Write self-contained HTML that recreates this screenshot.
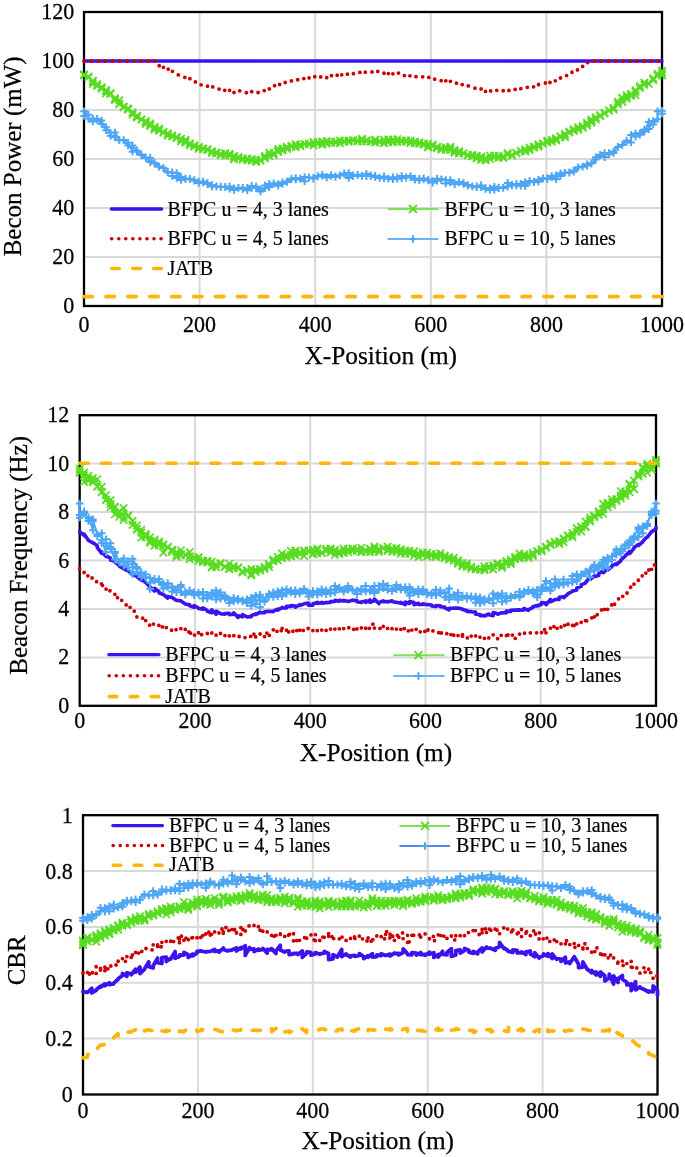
<!DOCTYPE html>
<html><head><meta charset="utf-8"><title>Chart</title>
<style>
html,body{margin:0;padding:0;background:#fff;}
body{width:685px;height:1157px;overflow:hidden;}
svg{display:block;will-change:transform;}
.t{font-family:'Liberation Serif',serif;font-size:22px;fill:#000;stroke:#000;stroke-width:0.25px;}
.ti{font-family:'Liberation Serif',serif;font-size:25.3px;fill:#000;stroke:#000;stroke-width:0.25px;}
.ty{font-family:'Liberation Serif',serif;font-size:25px;fill:#000;stroke:#000;stroke-width:0.25px;}
.lg{font-family:'Liberation Serif',serif;font-size:20px;fill:#000;stroke:#000;stroke-width:0.2px;}
</style></head><body>
<svg width="685" height="1157" viewBox="0 0 685 1157">
<rect width="685" height="1157" fill="#fff"/>
<path d="M84 257H662M84 208H662M84 159H662M84 110H662M84 61H662M199.6 12V306M315.2 12V306M430.8 12V306M546.4 12V306" stroke="#d9d9d9" stroke-width="2" fill="none"/>
<rect x="84" y="12" width="578" height="294" fill="none" stroke="#000" stroke-width="2.3"/>
<text transform="translate(74.2 313.4) scale(1 1.08)" text-anchor="end" class="t">0</text>
<text transform="translate(74.2 264.4) scale(1 1.08)" text-anchor="end" class="t">20</text>
<text transform="translate(74.2 215.3) scale(1 1.08)" text-anchor="end" class="t">40</text>
<text transform="translate(74.2 166.3) scale(1 1.08)" text-anchor="end" class="t">60</text>
<text transform="translate(74.2 117.3) scale(1 1.08)" text-anchor="end" class="t">80</text>
<text transform="translate(74.2 68.3) scale(1 1.08)" text-anchor="end" class="t">100</text>
<text transform="translate(74.2 19.4) scale(1 1.08)" text-anchor="end" class="t">120</text>
<text transform="translate(84 331.8) scale(1 1.08)" text-anchor="middle" class="t">0</text>
<text transform="translate(199.6 331.8) scale(1 1.08)" text-anchor="middle" class="t">200</text>
<text transform="translate(315.2 331.8) scale(1 1.08)" text-anchor="middle" class="t">400</text>
<text transform="translate(430.8 331.8) scale(1 1.08)" text-anchor="middle" class="t">600</text>
<text transform="translate(546.4 331.8) scale(1 1.08)" text-anchor="middle" class="t">800</text>
<text transform="translate(662 331.8) scale(1 1.08)" text-anchor="middle" class="t">1000</text>
<text transform="translate(21 156.4) rotate(-90)" text-anchor="middle" class="ty">Becon Power (mW)</text>
<text x="304.5" y="364" class="ti">X-Position (m)</text>
<polyline points="84,61 88.4,61 92.8,61 97.2,61 101.6,61 106.1,61 110.5,61 114.9,61 119.3,61 123.7,61 128.1,61 132.5,61 136.9,61 141.4,61 145.8,61 150.2,61 154.6,61 159,61 163.4,61 167.8,61 172.2,61 176.7,61 181.1,61 185.5,61 189.9,61 194.3,61 198.7,61 203.1,61 207.5,61 212,61 216.4,61 220.8,61 225.2,61 229.6,61 234,61 238.4,61 242.8,61 247.3,61 251.7,61 256.1,61 260.5,61 264.9,61 269.3,61 273.7,61 278.1,61 282.5,61 287,61 291.4,61 295.8,61 300.2,61 304.6,61 309,61 313.4,61 317.8,61 322.3,61 326.7,61 331.1,61 335.5,61 339.9,61 344.3,61 348.7,61 353.1,61 357.6,61 362,61 366.4,61 370.8,61 375.2,61 379.6,61 384,61 388.4,61 392.9,61 397.3,61 401.7,61 406.1,61 410.5,61 414.9,61 419.3,61 423.7,61 428.2,61 432.6,61 437,61 441.4,61 445.8,61 450.2,61 454.6,61 459,61 463.5,61 467.9,61 472.3,61 476.7,61 481.1,61 485.5,61 489.9,61 494.3,61 498.7,61 503.2,61 507.6,61 512,61 516.4,61 520.8,61 525.2,61 529.6,61 534,61 538.5,61 542.9,61 547.3,61 551.7,61 556.1,61 560.5,61 564.9,61 569.3,61 573.8,61 578.2,61 582.6,61 587,61 591.4,61 595.8,61 600.2,61 604.6,61 609.1,61 613.5,61 617.9,61 622.3,61 626.7,61 631.1,61 635.5,61 639.9,61 644.4,61 648.8,61 653.2,61 657.6,61 662,61" fill="none" stroke="#3c12ee" stroke-width="3.4" stroke-linejoin="round" stroke-linecap="round" />
<polyline points="84,74.9 84,75.4 84,74.4 88.4,76.7 88.4,77.5 88.4,76.5 92.8,81.8 92.8,84 92.8,80.8 97.2,84.1 97.2,85.9 97.2,85.7 101.6,88.8 101.6,87.1 101.6,88.6 106.1,93.3 106.1,90.1 106.1,91.5 110.5,93.1 110.5,94 110.5,93.1 114.9,99.6 114.9,98.1 114.9,100.3 119.3,104.1 119.3,103.6 119.3,100.3 123.7,106.5 123.7,107.1 123.7,107.4 128.1,108.3 128.1,109.7 128.1,109 132.5,112.4 132.5,114.8 132.5,112.4 136.9,116.4 136.9,117.6 136.9,115.7 141.4,119.4 141.4,119.7 141.4,119.6 145.8,121 145.8,122.5 145.8,124 150.2,123.3 150.2,126 150.2,125.2 154.6,126.9 154.6,129.8 154.6,128.5 159,128.6 159,130 159,130.6 163.4,131.8 163.4,132.8 163.4,132 167.8,134.8 167.8,135.7 167.8,133.4 172.2,136.4 172.2,135.6 172.2,136.3 176.7,136.9 176.7,137.5 176.7,137.9 181.1,141.2 181.1,141.4 181.1,138.7 185.5,141.2 185.5,142.7 185.5,139.8 189.9,143.3 189.9,143.7 189.9,145.2 194.3,146.4 194.3,145.2 194.3,145.2 198.7,147 198.7,148.9 198.7,146.8 203.1,148.4 203.1,149.1 203.1,148.6 207.5,150 207.5,149 207.5,150.2 212,151.2 212,152.9 212,152.4 216.4,152.8 216.4,153.5 216.4,152.4 220.8,155.1 220.8,153.9 220.8,154.6 225.2,153.7 225.2,155.5 225.2,153.2 229.6,153.8 229.6,155.7 229.6,155 234,157.1 234,159.4 234,156 238.4,157.1 238.4,158 238.4,158.3 242.8,158.5 242.8,158.5 242.8,159.5 247.3,160.2 247.3,158.5 247.3,159.6 251.7,160.3 251.7,159.1 251.7,160.6 256.1,160 256.1,162 256.1,161.1 260.5,160.6 260.5,159.8 260.5,160.3 264.9,155.9 264.9,156.8 264.9,158.5 269.3,152.8 269.3,156.1 269.3,153.2 273.7,154.8 273.7,153.1 273.7,154.9 278.1,150.7 278.1,148.9 278.1,151.9 282.5,150.4 282.5,148.7 282.5,148.5 287,147.6 287,146.7 287,148.9 291.4,146.1 291.4,146.7 291.4,145.8 295.8,145.1 295.8,144.4 295.8,147.2 300.2,144.8 300.2,146.1 300.2,145 304.6,143.8 304.6,144.2 304.6,143.9 309,144.1 309,143.7 309,143.8 313.4,142.1 313.4,142.7 313.4,145.5 317.8,142.6 317.8,142.2 317.8,143.7 322.3,144.7 322.3,141.5 322.3,142.9 326.7,142.2 326.7,141 326.7,143.7 331.1,142.6 331.1,142.7 331.1,141.8 335.5,142.7 335.5,141.6 335.5,142.1 339.9,140.6 339.9,140.5 339.9,143.3 344.3,140.9 344.3,141.8 344.3,141.4 348.7,140.5 348.7,140.5 348.7,141.7 353.1,140.2 353.1,140.4 353.1,140.6 357.6,141.4 357.6,140.9 357.6,140.5 362,139.7 362,138.8 362,141.3 366.4,141.5 366.4,140.3 366.4,141.1 370.8,141.5 370.8,141.6 370.8,141.7 375.2,140.3 375.2,142.5 375.2,139.5 379.6,142 379.6,141.5 379.6,142 384,143.3 384,142.8 384,139.9 388.4,139.5 388.4,142.2 388.4,140.2 392.9,141.4 392.9,142.3 392.9,139.6 397.3,139.2 397.3,141.8 397.3,141.6 401.7,141.4 401.7,141.7 401.7,140.7 406.1,140.3 406.1,141.8 406.1,140.9 410.5,140.5 410.5,142.9 410.5,142.3 414.9,143.2 414.9,141.6 414.9,142 419.3,142.4 419.3,142.5 419.3,143.7 423.7,143.5 423.7,144.7 423.7,144.7 428.2,147.4 428.2,143.7 428.2,146.2 432.6,146.1 432.6,146.2 432.6,144.6 437,146.9 437,148.2 437,147.3 441.4,148.6 441.4,148.2 441.4,149.8 445.8,149.6 445.8,147.2 445.8,148.9 450.2,148.3 450.2,146.9 450.2,149.9 454.6,152.8 454.6,151.3 454.6,150 459,151.1 459,153.4 459,152.3 463.5,153.4 463.5,153.3 463.5,153.4 467.9,155.5 467.9,155.2 467.9,154.9 472.3,154.8 472.3,156.5 472.3,155.2 476.7,158.5 476.7,155.9 476.7,157.1 481.1,158 481.1,156.6 481.1,159.9 485.5,160.3 485.5,158.2 485.5,159.5 489.9,158.9 489.9,155.6 489.9,158.7 494.3,156.8 494.3,157 494.3,155.7 498.7,156.1 498.7,156.2 498.7,157.7 503.2,156.6 503.2,156.2 503.2,157.9 507.6,154.5 507.6,154.7 507.6,153.1 512,155.6 512,154.9 512,154.9 516.4,153.3 516.4,152.7 516.4,152.8 520.8,150.9 520.8,150.9 520.8,151.2 525.2,151.4 525.2,150.3 525.2,149.6 529.6,147.7 529.6,147.6 529.6,150.1 534,147.6 534,147.1 534,146.6 538.5,144.4 538.5,145.6 538.5,146.6 542.9,143.6 542.9,143.8 542.9,143.8 547.3,142.4 547.3,140.6 547.3,142.1 551.7,139.7 551.7,141.6 551.7,139.7 556.1,139.4 556.1,140.5 556.1,138.4 560.5,136.3 560.5,137.2 560.5,137 564.9,133.8 564.9,135.4 564.9,137.2 569.3,132.4 569.3,132.5 569.3,131.6 573.8,130.9 573.8,129.2 573.8,129.3 578.2,129.6 578.2,127.2 578.2,129.4 582.6,127.6 582.6,126.2 582.6,126.5 587,125.6 587,123.3 587,122.8 591.4,119.5 591.4,121 591.4,122.6 595.8,119.5 595.8,117.4 595.8,117.5 600.2,115.3 600.2,116.1 600.2,115.6 604.6,113.4 604.6,113.5 604.6,112.8 609.1,110.3 609.1,110.6 609.1,110.3 613.5,107.7 613.5,109.5 613.5,107.9 617.9,103.9 617.9,101.5 617.9,104.3 622.3,97.9 622.3,98.7 622.3,101.9 626.7,98.8 626.7,97.5 626.7,95.2 631.1,94.3 631.1,93.8 631.1,95.8 635.5,95.2 635.5,91.9 635.5,90.3 639.9,86.1 639.9,88 639.9,87.8 644.4,82.6 644.4,84.8 644.4,82.6 648.8,83.9 648.8,83.8 648.8,83.8 653.2,78.2 653.2,80.1 653.2,78.9 657.6,75.7 657.6,75.8 657.6,73.9 662,70.9 662,75.4 662,73.4" fill="none" stroke="#58dc22" stroke-width="2" stroke-linejoin="round" stroke-linecap="round" />
<path d="M80.3 71.2l7.4 7.4M80.3 78.6l7.4 -7.4M80.3 71.7l7.4 7.4M80.3 79.1l7.4 -7.4M80.3 70.7l7.4 7.4M80.3 78.1l7.4 -7.4M84.7 73l7.4 7.4M84.7 80.4l7.4 -7.4M84.7 73.8l7.4 7.4M84.7 81.2l7.4 -7.4M84.7 72.8l7.4 7.4M84.7 80.2l7.4 -7.4M89.1 78.1l7.4 7.4M89.1 85.5l7.4 -7.4M89.1 80.3l7.4 7.4M89.1 87.7l7.4 -7.4M89.1 77.1l7.4 7.4M89.1 84.5l7.4 -7.4M93.5 80.4l7.4 7.4M93.5 87.8l7.4 -7.4M93.5 82.2l7.4 7.4M93.5 89.6l7.4 -7.4M93.5 82l7.4 7.4M93.5 89.4l7.4 -7.4M97.9 85.1l7.4 7.4M97.9 92.5l7.4 -7.4M97.9 83.4l7.4 7.4M97.9 90.8l7.4 -7.4M97.9 84.9l7.4 7.4M97.9 92.3l7.4 -7.4M102.4 89.6l7.4 7.4M102.4 97l7.4 -7.4M102.4 86.4l7.4 7.4M102.4 93.8l7.4 -7.4M102.4 87.8l7.4 7.4M102.4 95.2l7.4 -7.4M106.8 89.4l7.4 7.4M106.8 96.8l7.4 -7.4M106.8 90.3l7.4 7.4M106.8 97.7l7.4 -7.4M106.8 89.4l7.4 7.4M106.8 96.8l7.4 -7.4M111.2 95.9l7.4 7.4M111.2 103.3l7.4 -7.4M111.2 94.4l7.4 7.4M111.2 101.8l7.4 -7.4M111.2 96.6l7.4 7.4M111.2 104l7.4 -7.4M115.6 100.4l7.4 7.4M115.6 107.8l7.4 -7.4M115.6 99.9l7.4 7.4M115.6 107.3l7.4 -7.4M115.6 96.6l7.4 7.4M115.6 104l7.4 -7.4M120 102.8l7.4 7.4M120 110.2l7.4 -7.4M120 103.4l7.4 7.4M120 110.8l7.4 -7.4M120 103.7l7.4 7.4M120 111.1l7.4 -7.4M124.4 104.6l7.4 7.4M124.4 112l7.4 -7.4M124.4 106l7.4 7.4M124.4 113.4l7.4 -7.4M124.4 105.3l7.4 7.4M124.4 112.7l7.4 -7.4M128.8 108.7l7.4 7.4M128.8 116.1l7.4 -7.4M128.8 111.1l7.4 7.4M128.8 118.5l7.4 -7.4M128.8 108.7l7.4 7.4M128.8 116.1l7.4 -7.4M133.2 112.7l7.4 7.4M133.2 120.1l7.4 -7.4M133.2 113.9l7.4 7.4M133.2 121.3l7.4 -7.4M133.2 112l7.4 7.4M133.2 119.4l7.4 -7.4M137.7 115.7l7.4 7.4M137.7 123.1l7.4 -7.4M137.7 116l7.4 7.4M137.7 123.4l7.4 -7.4M137.7 115.9l7.4 7.4M137.7 123.3l7.4 -7.4M142.1 117.3l7.4 7.4M142.1 124.7l7.4 -7.4M142.1 118.8l7.4 7.4M142.1 126.2l7.4 -7.4M142.1 120.3l7.4 7.4M142.1 127.7l7.4 -7.4M146.5 119.6l7.4 7.4M146.5 127l7.4 -7.4M146.5 122.3l7.4 7.4M146.5 129.7l7.4 -7.4M146.5 121.5l7.4 7.4M146.5 128.9l7.4 -7.4M150.9 123.2l7.4 7.4M150.9 130.6l7.4 -7.4M150.9 126.1l7.4 7.4M150.9 133.5l7.4 -7.4M150.9 124.8l7.4 7.4M150.9 132.2l7.4 -7.4M155.3 124.9l7.4 7.4M155.3 132.3l7.4 -7.4M155.3 126.3l7.4 7.4M155.3 133.7l7.4 -7.4M155.3 126.9l7.4 7.4M155.3 134.3l7.4 -7.4M159.7 128.1l7.4 7.4M159.7 135.5l7.4 -7.4M159.7 129.1l7.4 7.4M159.7 136.5l7.4 -7.4M159.7 128.3l7.4 7.4M159.7 135.7l7.4 -7.4M164.1 131.1l7.4 7.4M164.1 138.5l7.4 -7.4M164.1 132l7.4 7.4M164.1 139.4l7.4 -7.4M164.1 129.7l7.4 7.4M164.1 137.1l7.4 -7.4M168.5 132.7l7.4 7.4M168.5 140.1l7.4 -7.4M168.5 131.9l7.4 7.4M168.5 139.3l7.4 -7.4M168.5 132.6l7.4 7.4M168.5 140l7.4 -7.4M173 133.2l7.4 7.4M173 140.6l7.4 -7.4M173 133.8l7.4 7.4M173 141.2l7.4 -7.4M173 134.2l7.4 7.4M173 141.6l7.4 -7.4M177.4 137.5l7.4 7.4M177.4 144.9l7.4 -7.4M177.4 137.7l7.4 7.4M177.4 145.1l7.4 -7.4M177.4 135l7.4 7.4M177.4 142.4l7.4 -7.4M181.8 137.5l7.4 7.4M181.8 144.9l7.4 -7.4M181.8 139l7.4 7.4M181.8 146.4l7.4 -7.4M181.8 136.1l7.4 7.4M181.8 143.5l7.4 -7.4M186.2 139.6l7.4 7.4M186.2 147l7.4 -7.4M186.2 140l7.4 7.4M186.2 147.4l7.4 -7.4M186.2 141.5l7.4 7.4M186.2 148.9l7.4 -7.4M190.6 142.7l7.4 7.4M190.6 150.1l7.4 -7.4M190.6 141.5l7.4 7.4M190.6 148.9l7.4 -7.4M190.6 141.5l7.4 7.4M190.6 148.9l7.4 -7.4M195 143.3l7.4 7.4M195 150.7l7.4 -7.4M195 145.2l7.4 7.4M195 152.6l7.4 -7.4M195 143.1l7.4 7.4M195 150.5l7.4 -7.4M199.4 144.7l7.4 7.4M199.4 152.1l7.4 -7.4M199.4 145.4l7.4 7.4M199.4 152.8l7.4 -7.4M199.4 144.9l7.4 7.4M199.4 152.3l7.4 -7.4M203.8 146.3l7.4 7.4M203.8 153.7l7.4 -7.4M203.8 145.3l7.4 7.4M203.8 152.7l7.4 -7.4M203.8 146.5l7.4 7.4M203.8 153.9l7.4 -7.4M208.3 147.5l7.4 7.4M208.3 154.9l7.4 -7.4M208.3 149.2l7.4 7.4M208.3 156.6l7.4 -7.4M208.3 148.7l7.4 7.4M208.3 156.1l7.4 -7.4M212.7 149.1l7.4 7.4M212.7 156.5l7.4 -7.4M212.7 149.8l7.4 7.4M212.7 157.2l7.4 -7.4M212.7 148.7l7.4 7.4M212.7 156.1l7.4 -7.4M217.1 151.4l7.4 7.4M217.1 158.8l7.4 -7.4M217.1 150.2l7.4 7.4M217.1 157.6l7.4 -7.4M217.1 150.9l7.4 7.4M217.1 158.3l7.4 -7.4M221.5 150l7.4 7.4M221.5 157.4l7.4 -7.4M221.5 151.8l7.4 7.4M221.5 159.2l7.4 -7.4M221.5 149.5l7.4 7.4M221.5 156.9l7.4 -7.4M225.9 150.1l7.4 7.4M225.9 157.5l7.4 -7.4M225.9 152l7.4 7.4M225.9 159.4l7.4 -7.4M225.9 151.3l7.4 7.4M225.9 158.7l7.4 -7.4M230.3 153.4l7.4 7.4M230.3 160.8l7.4 -7.4M230.3 155.7l7.4 7.4M230.3 163.1l7.4 -7.4M230.3 152.3l7.4 7.4M230.3 159.7l7.4 -7.4M234.7 153.4l7.4 7.4M234.7 160.8l7.4 -7.4M234.7 154.3l7.4 7.4M234.7 161.7l7.4 -7.4M234.7 154.6l7.4 7.4M234.7 162l7.4 -7.4M239.1 154.8l7.4 7.4M239.1 162.2l7.4 -7.4M239.1 154.8l7.4 7.4M239.1 162.2l7.4 -7.4M239.1 155.8l7.4 7.4M239.1 163.2l7.4 -7.4M243.6 156.5l7.4 7.4M243.6 163.9l7.4 -7.4M243.6 154.8l7.4 7.4M243.6 162.2l7.4 -7.4M243.6 155.9l7.4 7.4M243.6 163.3l7.4 -7.4M248 156.6l7.4 7.4M248 164l7.4 -7.4M248 155.4l7.4 7.4M248 162.8l7.4 -7.4M248 156.9l7.4 7.4M248 164.3l7.4 -7.4M252.4 156.3l7.4 7.4M252.4 163.7l7.4 -7.4M252.4 158.3l7.4 7.4M252.4 165.7l7.4 -7.4M252.4 157.4l7.4 7.4M252.4 164.8l7.4 -7.4M256.8 156.9l7.4 7.4M256.8 164.3l7.4 -7.4M256.8 156.1l7.4 7.4M256.8 163.5l7.4 -7.4M256.8 156.6l7.4 7.4M256.8 164l7.4 -7.4M261.2 152.2l7.4 7.4M261.2 159.6l7.4 -7.4M261.2 153.1l7.4 7.4M261.2 160.5l7.4 -7.4M261.2 154.8l7.4 7.4M261.2 162.2l7.4 -7.4M265.6 149.1l7.4 7.4M265.6 156.5l7.4 -7.4M265.6 152.4l7.4 7.4M265.6 159.8l7.4 -7.4M265.6 149.5l7.4 7.4M265.6 156.9l7.4 -7.4M270 151.1l7.4 7.4M270 158.5l7.4 -7.4M270 149.4l7.4 7.4M270 156.8l7.4 -7.4M270 151.2l7.4 7.4M270 158.6l7.4 -7.4M274.4 147l7.4 7.4M274.4 154.4l7.4 -7.4M274.4 145.2l7.4 7.4M274.4 152.6l7.4 -7.4M274.4 148.2l7.4 7.4M274.4 155.6l7.4 -7.4M278.8 146.7l7.4 7.4M278.8 154.1l7.4 -7.4M278.8 145l7.4 7.4M278.8 152.4l7.4 -7.4M278.8 144.8l7.4 7.4M278.8 152.2l7.4 -7.4M283.3 143.9l7.4 7.4M283.3 151.3l7.4 -7.4M283.3 143l7.4 7.4M283.3 150.4l7.4 -7.4M283.3 145.2l7.4 7.4M283.3 152.6l7.4 -7.4M287.7 142.4l7.4 7.4M287.7 149.8l7.4 -7.4M287.7 143l7.4 7.4M287.7 150.4l7.4 -7.4M287.7 142.1l7.4 7.4M287.7 149.5l7.4 -7.4M292.1 141.4l7.4 7.4M292.1 148.8l7.4 -7.4M292.1 140.7l7.4 7.4M292.1 148.1l7.4 -7.4M292.1 143.5l7.4 7.4M292.1 150.9l7.4 -7.4M296.5 141.1l7.4 7.4M296.5 148.5l7.4 -7.4M296.5 142.4l7.4 7.4M296.5 149.8l7.4 -7.4M296.5 141.3l7.4 7.4M296.5 148.7l7.4 -7.4M300.9 140.1l7.4 7.4M300.9 147.5l7.4 -7.4M300.9 140.5l7.4 7.4M300.9 147.9l7.4 -7.4M300.9 140.2l7.4 7.4M300.9 147.6l7.4 -7.4M305.3 140.4l7.4 7.4M305.3 147.8l7.4 -7.4M305.3 140l7.4 7.4M305.3 147.4l7.4 -7.4M305.3 140.1l7.4 7.4M305.3 147.5l7.4 -7.4M309.7 138.4l7.4 7.4M309.7 145.8l7.4 -7.4M309.7 139l7.4 7.4M309.7 146.4l7.4 -7.4M309.7 141.8l7.4 7.4M309.7 149.2l7.4 -7.4M314.1 138.9l7.4 7.4M314.1 146.3l7.4 -7.4M314.1 138.5l7.4 7.4M314.1 145.9l7.4 -7.4M314.1 140l7.4 7.4M314.1 147.4l7.4 -7.4M318.6 141l7.4 7.4M318.6 148.4l7.4 -7.4M318.6 137.8l7.4 7.4M318.6 145.2l7.4 -7.4M318.6 139.2l7.4 7.4M318.6 146.6l7.4 -7.4M323 138.5l7.4 7.4M323 145.9l7.4 -7.4M323 137.3l7.4 7.4M323 144.7l7.4 -7.4M323 140l7.4 7.4M323 147.4l7.4 -7.4M327.4 138.9l7.4 7.4M327.4 146.3l7.4 -7.4M327.4 139l7.4 7.4M327.4 146.4l7.4 -7.4M327.4 138.1l7.4 7.4M327.4 145.5l7.4 -7.4M331.8 139l7.4 7.4M331.8 146.4l7.4 -7.4M331.8 137.9l7.4 7.4M331.8 145.3l7.4 -7.4M331.8 138.4l7.4 7.4M331.8 145.8l7.4 -7.4M336.2 136.9l7.4 7.4M336.2 144.3l7.4 -7.4M336.2 136.8l7.4 7.4M336.2 144.2l7.4 -7.4M336.2 139.6l7.4 7.4M336.2 147l7.4 -7.4M340.6 137.2l7.4 7.4M340.6 144.6l7.4 -7.4M340.6 138.1l7.4 7.4M340.6 145.5l7.4 -7.4M340.6 137.7l7.4 7.4M340.6 145.1l7.4 -7.4M345 136.8l7.4 7.4M345 144.2l7.4 -7.4M345 136.8l7.4 7.4M345 144.2l7.4 -7.4M345 138l7.4 7.4M345 145.4l7.4 -7.4M349.4 136.5l7.4 7.4M349.4 143.9l7.4 -7.4M349.4 136.7l7.4 7.4M349.4 144.1l7.4 -7.4M349.4 136.9l7.4 7.4M349.4 144.3l7.4 -7.4M353.9 137.7l7.4 7.4M353.9 145.1l7.4 -7.4M353.9 137.2l7.4 7.4M353.9 144.6l7.4 -7.4M353.9 136.8l7.4 7.4M353.9 144.2l7.4 -7.4M358.3 136l7.4 7.4M358.3 143.4l7.4 -7.4M358.3 135.1l7.4 7.4M358.3 142.5l7.4 -7.4M358.3 137.6l7.4 7.4M358.3 145l7.4 -7.4M362.7 137.8l7.4 7.4M362.7 145.2l7.4 -7.4M362.7 136.6l7.4 7.4M362.7 144l7.4 -7.4M362.7 137.4l7.4 7.4M362.7 144.8l7.4 -7.4M367.1 137.8l7.4 7.4M367.1 145.2l7.4 -7.4M367.1 137.9l7.4 7.4M367.1 145.3l7.4 -7.4M367.1 138l7.4 7.4M367.1 145.4l7.4 -7.4M371.5 136.6l7.4 7.4M371.5 144l7.4 -7.4M371.5 138.8l7.4 7.4M371.5 146.2l7.4 -7.4M371.5 135.8l7.4 7.4M371.5 143.2l7.4 -7.4M375.9 138.3l7.4 7.4M375.9 145.7l7.4 -7.4M375.9 137.8l7.4 7.4M375.9 145.2l7.4 -7.4M375.9 138.3l7.4 7.4M375.9 145.7l7.4 -7.4M380.3 139.6l7.4 7.4M380.3 147l7.4 -7.4M380.3 139.1l7.4 7.4M380.3 146.5l7.4 -7.4M380.3 136.2l7.4 7.4M380.3 143.6l7.4 -7.4M384.7 135.8l7.4 7.4M384.7 143.2l7.4 -7.4M384.7 138.5l7.4 7.4M384.7 145.9l7.4 -7.4M384.7 136.5l7.4 7.4M384.7 143.9l7.4 -7.4M389.2 137.7l7.4 7.4M389.2 145.1l7.4 -7.4M389.2 138.6l7.4 7.4M389.2 146l7.4 -7.4M389.2 135.9l7.4 7.4M389.2 143.3l7.4 -7.4M393.6 135.5l7.4 7.4M393.6 142.9l7.4 -7.4M393.6 138.1l7.4 7.4M393.6 145.5l7.4 -7.4M393.6 137.9l7.4 7.4M393.6 145.3l7.4 -7.4M398 137.7l7.4 7.4M398 145.1l7.4 -7.4M398 138l7.4 7.4M398 145.4l7.4 -7.4M398 137l7.4 7.4M398 144.4l7.4 -7.4M402.4 136.6l7.4 7.4M402.4 144l7.4 -7.4M402.4 138.1l7.4 7.4M402.4 145.5l7.4 -7.4M402.4 137.2l7.4 7.4M402.4 144.6l7.4 -7.4M406.8 136.8l7.4 7.4M406.8 144.2l7.4 -7.4M406.8 139.2l7.4 7.4M406.8 146.6l7.4 -7.4M406.8 138.6l7.4 7.4M406.8 146l7.4 -7.4M411.2 139.5l7.4 7.4M411.2 146.9l7.4 -7.4M411.2 137.9l7.4 7.4M411.2 145.3l7.4 -7.4M411.2 138.3l7.4 7.4M411.2 145.7l7.4 -7.4M415.6 138.7l7.4 7.4M415.6 146.1l7.4 -7.4M415.6 138.8l7.4 7.4M415.6 146.2l7.4 -7.4M415.6 140l7.4 7.4M415.6 147.4l7.4 -7.4M420 139.8l7.4 7.4M420 147.2l7.4 -7.4M420 141l7.4 7.4M420 148.4l7.4 -7.4M420 141l7.4 7.4M420 148.4l7.4 -7.4M424.5 143.7l7.4 7.4M424.5 151.1l7.4 -7.4M424.5 140l7.4 7.4M424.5 147.4l7.4 -7.4M424.5 142.5l7.4 7.4M424.5 149.9l7.4 -7.4M428.9 142.4l7.4 7.4M428.9 149.8l7.4 -7.4M428.9 142.5l7.4 7.4M428.9 149.9l7.4 -7.4M428.9 140.9l7.4 7.4M428.9 148.3l7.4 -7.4M433.3 143.2l7.4 7.4M433.3 150.6l7.4 -7.4M433.3 144.5l7.4 7.4M433.3 151.9l7.4 -7.4M433.3 143.6l7.4 7.4M433.3 151l7.4 -7.4M437.7 144.9l7.4 7.4M437.7 152.3l7.4 -7.4M437.7 144.5l7.4 7.4M437.7 151.9l7.4 -7.4M437.7 146.1l7.4 7.4M437.7 153.5l7.4 -7.4M442.1 145.9l7.4 7.4M442.1 153.3l7.4 -7.4M442.1 143.5l7.4 7.4M442.1 150.9l7.4 -7.4M442.1 145.2l7.4 7.4M442.1 152.6l7.4 -7.4M446.5 144.6l7.4 7.4M446.5 152l7.4 -7.4M446.5 143.2l7.4 7.4M446.5 150.6l7.4 -7.4M446.5 146.2l7.4 7.4M446.5 153.6l7.4 -7.4M450.9 149.1l7.4 7.4M450.9 156.5l7.4 -7.4M450.9 147.6l7.4 7.4M450.9 155l7.4 -7.4M450.9 146.3l7.4 7.4M450.9 153.7l7.4 -7.4M455.3 147.4l7.4 7.4M455.3 154.8l7.4 -7.4M455.3 149.7l7.4 7.4M455.3 157.1l7.4 -7.4M455.3 148.6l7.4 7.4M455.3 156l7.4 -7.4M459.8 149.7l7.4 7.4M459.8 157.1l7.4 -7.4M459.8 149.6l7.4 7.4M459.8 157l7.4 -7.4M459.8 149.7l7.4 7.4M459.8 157.1l7.4 -7.4M464.2 151.8l7.4 7.4M464.2 159.2l7.4 -7.4M464.2 151.5l7.4 7.4M464.2 158.9l7.4 -7.4M464.2 151.2l7.4 7.4M464.2 158.6l7.4 -7.4M468.6 151.1l7.4 7.4M468.6 158.5l7.4 -7.4M468.6 152.8l7.4 7.4M468.6 160.2l7.4 -7.4M468.6 151.5l7.4 7.4M468.6 158.9l7.4 -7.4M473 154.8l7.4 7.4M473 162.2l7.4 -7.4M473 152.2l7.4 7.4M473 159.6l7.4 -7.4M473 153.4l7.4 7.4M473 160.8l7.4 -7.4M477.4 154.3l7.4 7.4M477.4 161.7l7.4 -7.4M477.4 152.9l7.4 7.4M477.4 160.3l7.4 -7.4M477.4 156.2l7.4 7.4M477.4 163.6l7.4 -7.4M481.8 156.6l7.4 7.4M481.8 164l7.4 -7.4M481.8 154.5l7.4 7.4M481.8 161.9l7.4 -7.4M481.8 155.8l7.4 7.4M481.8 163.2l7.4 -7.4M486.2 155.2l7.4 7.4M486.2 162.6l7.4 -7.4M486.2 151.9l7.4 7.4M486.2 159.3l7.4 -7.4M486.2 155l7.4 7.4M486.2 162.4l7.4 -7.4M490.6 153.1l7.4 7.4M490.6 160.5l7.4 -7.4M490.6 153.3l7.4 7.4M490.6 160.7l7.4 -7.4M490.6 152l7.4 7.4M490.6 159.4l7.4 -7.4M495 152.4l7.4 7.4M495 159.8l7.4 -7.4M495 152.5l7.4 7.4M495 159.9l7.4 -7.4M495 154l7.4 7.4M495 161.4l7.4 -7.4M499.5 152.9l7.4 7.4M499.5 160.3l7.4 -7.4M499.5 152.5l7.4 7.4M499.5 159.9l7.4 -7.4M499.5 154.2l7.4 7.4M499.5 161.6l7.4 -7.4M503.9 150.8l7.4 7.4M503.9 158.2l7.4 -7.4M503.9 151l7.4 7.4M503.9 158.4l7.4 -7.4M503.9 149.4l7.4 7.4M503.9 156.8l7.4 -7.4M508.3 151.9l7.4 7.4M508.3 159.3l7.4 -7.4M508.3 151.2l7.4 7.4M508.3 158.6l7.4 -7.4M508.3 151.2l7.4 7.4M508.3 158.6l7.4 -7.4M512.7 149.6l7.4 7.4M512.7 157l7.4 -7.4M512.7 149l7.4 7.4M512.7 156.4l7.4 -7.4M512.7 149.1l7.4 7.4M512.7 156.5l7.4 -7.4M517.1 147.2l7.4 7.4M517.1 154.6l7.4 -7.4M517.1 147.2l7.4 7.4M517.1 154.6l7.4 -7.4M517.1 147.5l7.4 7.4M517.1 154.9l7.4 -7.4M521.5 147.7l7.4 7.4M521.5 155.1l7.4 -7.4M521.5 146.6l7.4 7.4M521.5 154l7.4 -7.4M521.5 145.9l7.4 7.4M521.5 153.3l7.4 -7.4M525.9 144l7.4 7.4M525.9 151.4l7.4 -7.4M525.9 143.9l7.4 7.4M525.9 151.3l7.4 -7.4M525.9 146.4l7.4 7.4M525.9 153.8l7.4 -7.4M530.3 143.9l7.4 7.4M530.3 151.3l7.4 -7.4M530.3 143.4l7.4 7.4M530.3 150.8l7.4 -7.4M530.3 142.9l7.4 7.4M530.3 150.3l7.4 -7.4M534.8 140.7l7.4 7.4M534.8 148.1l7.4 -7.4M534.8 141.9l7.4 7.4M534.8 149.3l7.4 -7.4M534.8 142.9l7.4 7.4M534.8 150.3l7.4 -7.4M539.2 139.9l7.4 7.4M539.2 147.3l7.4 -7.4M539.2 140.1l7.4 7.4M539.2 147.5l7.4 -7.4M539.2 140.1l7.4 7.4M539.2 147.5l7.4 -7.4M543.6 138.7l7.4 7.4M543.6 146.1l7.4 -7.4M543.6 136.9l7.4 7.4M543.6 144.3l7.4 -7.4M543.6 138.4l7.4 7.4M543.6 145.8l7.4 -7.4M548 136l7.4 7.4M548 143.4l7.4 -7.4M548 137.9l7.4 7.4M548 145.3l7.4 -7.4M548 136l7.4 7.4M548 143.4l7.4 -7.4M552.4 135.7l7.4 7.4M552.4 143.1l7.4 -7.4M552.4 136.8l7.4 7.4M552.4 144.2l7.4 -7.4M552.4 134.7l7.4 7.4M552.4 142.1l7.4 -7.4M556.8 132.6l7.4 7.4M556.8 140l7.4 -7.4M556.8 133.5l7.4 7.4M556.8 140.9l7.4 -7.4M556.8 133.3l7.4 7.4M556.8 140.7l7.4 -7.4M561.2 130.1l7.4 7.4M561.2 137.5l7.4 -7.4M561.2 131.7l7.4 7.4M561.2 139.1l7.4 -7.4M561.2 133.5l7.4 7.4M561.2 140.9l7.4 -7.4M565.6 128.7l7.4 7.4M565.6 136.1l7.4 -7.4M565.6 128.8l7.4 7.4M565.6 136.2l7.4 -7.4M565.6 127.9l7.4 7.4M565.6 135.3l7.4 -7.4M570.1 127.2l7.4 7.4M570.1 134.6l7.4 -7.4M570.1 125.5l7.4 7.4M570.1 132.9l7.4 -7.4M570.1 125.6l7.4 7.4M570.1 133l7.4 -7.4M574.5 125.9l7.4 7.4M574.5 133.3l7.4 -7.4M574.5 123.5l7.4 7.4M574.5 130.9l7.4 -7.4M574.5 125.7l7.4 7.4M574.5 133.1l7.4 -7.4M578.9 123.9l7.4 7.4M578.9 131.3l7.4 -7.4M578.9 122.5l7.4 7.4M578.9 129.9l7.4 -7.4M578.9 122.8l7.4 7.4M578.9 130.2l7.4 -7.4M583.3 121.9l7.4 7.4M583.3 129.3l7.4 -7.4M583.3 119.6l7.4 7.4M583.3 127l7.4 -7.4M583.3 119.1l7.4 7.4M583.3 126.5l7.4 -7.4M587.7 115.8l7.4 7.4M587.7 123.2l7.4 -7.4M587.7 117.3l7.4 7.4M587.7 124.7l7.4 -7.4M587.7 118.9l7.4 7.4M587.7 126.3l7.4 -7.4M592.1 115.8l7.4 7.4M592.1 123.2l7.4 -7.4M592.1 113.7l7.4 7.4M592.1 121.1l7.4 -7.4M592.1 113.8l7.4 7.4M592.1 121.2l7.4 -7.4M596.5 111.6l7.4 7.4M596.5 119l7.4 -7.4M596.5 112.4l7.4 7.4M596.5 119.8l7.4 -7.4M596.5 111.9l7.4 7.4M596.5 119.3l7.4 -7.4M600.9 109.7l7.4 7.4M600.9 117.1l7.4 -7.4M600.9 109.8l7.4 7.4M600.9 117.2l7.4 -7.4M600.9 109.1l7.4 7.4M600.9 116.5l7.4 -7.4M605.4 106.6l7.4 7.4M605.4 114l7.4 -7.4M605.4 106.9l7.4 7.4M605.4 114.3l7.4 -7.4M605.4 106.6l7.4 7.4M605.4 114l7.4 -7.4M609.8 104l7.4 7.4M609.8 111.4l7.4 -7.4M609.8 105.8l7.4 7.4M609.8 113.2l7.4 -7.4M609.8 104.2l7.4 7.4M609.8 111.6l7.4 -7.4M614.2 100.2l7.4 7.4M614.2 107.6l7.4 -7.4M614.2 97.8l7.4 7.4M614.2 105.2l7.4 -7.4M614.2 100.6l7.4 7.4M614.2 108l7.4 -7.4M618.6 94.2l7.4 7.4M618.6 101.6l7.4 -7.4M618.6 95l7.4 7.4M618.6 102.4l7.4 -7.4M618.6 98.2l7.4 7.4M618.6 105.6l7.4 -7.4M623 95.1l7.4 7.4M623 102.5l7.4 -7.4M623 93.8l7.4 7.4M623 101.2l7.4 -7.4M623 91.5l7.4 7.4M623 98.9l7.4 -7.4M627.4 90.6l7.4 7.4M627.4 98l7.4 -7.4M627.4 90.1l7.4 7.4M627.4 97.5l7.4 -7.4M627.4 92.1l7.4 7.4M627.4 99.5l7.4 -7.4M631.8 91.5l7.4 7.4M631.8 98.9l7.4 -7.4M631.8 88.2l7.4 7.4M631.8 95.6l7.4 -7.4M631.8 86.6l7.4 7.4M631.8 94l7.4 -7.4M636.2 82.4l7.4 7.4M636.2 89.8l7.4 -7.4M636.2 84.3l7.4 7.4M636.2 91.7l7.4 -7.4M636.2 84.1l7.4 7.4M636.2 91.5l7.4 -7.4M640.7 78.9l7.4 7.4M640.7 86.3l7.4 -7.4M640.7 81.1l7.4 7.4M640.7 88.5l7.4 -7.4M640.7 78.9l7.4 7.4M640.7 86.3l7.4 -7.4M645.1 80.2l7.4 7.4M645.1 87.6l7.4 -7.4M645.1 80.1l7.4 7.4M645.1 87.5l7.4 -7.4M645.1 80.1l7.4 7.4M645.1 87.5l7.4 -7.4M649.5 74.5l7.4 7.4M649.5 81.9l7.4 -7.4M649.5 76.4l7.4 7.4M649.5 83.8l7.4 -7.4M649.5 75.2l7.4 7.4M649.5 82.6l7.4 -7.4M653.9 72l7.4 7.4M653.9 79.4l7.4 -7.4M653.9 72.1l7.4 7.4M653.9 79.5l7.4 -7.4M653.9 70.2l7.4 7.4M653.9 77.6l7.4 -7.4M658.3 67.2l7.4 7.4M658.3 74.6l7.4 -7.4M658.3 71.7l7.4 7.4M658.3 79.1l7.4 -7.4M658.3 69.7l7.4 7.4M658.3 77.1l7.4 -7.4" stroke="#58dc22" stroke-width="1.7" fill="none"/>
<polyline points="84,61 84,61 88.4,61 88.4,61 92.8,61 92.8,61 97.2,61 97.2,61 101.6,61 101.6,61 106.1,61 106.1,61 110.5,61 110.5,61 114.9,61 114.9,61 119.3,61 119.3,61 123.7,61 123.7,61 128.1,61 128.1,61 132.5,61 132.5,61 136.9,61 136.9,61 141.4,61 141.4,61 145.8,61 145.8,61 150.2,61 150.2,61 154.6,61.3 154.6,60.8 159,64.9 159,65.6 163.4,69.1 163.4,66.3 167.8,69.2 167.8,68.9 172.2,72.7 172.2,71.2 176.7,74 176.7,74.4 181.1,75.8 181.1,75.9 185.5,77.7 185.5,76.4 189.9,78.4 189.9,79.3 194.3,81.9 194.3,81.7 198.7,82.5 198.7,83.6 203.1,85.8 203.1,85.6 207.5,86.4 207.5,85.7 212,87.8 212,86.9 216.4,87.2 216.4,87.5 220.8,90.1 220.8,89.1 225.2,90.5 225.2,89.2 229.6,90.9 229.6,89.7 234,90.5 234,92.7 238.4,91.6 238.4,90.6 242.8,91.3 242.8,91.6 247.3,92.9 247.3,91.6 251.7,91.3 251.7,92.4 256.1,92.7 256.1,92.7 260.5,92.3 260.5,91.5 264.9,90.4 264.9,88.9 269.3,88.4 269.3,89.4 273.7,86.4 273.7,86 278.1,84.5 278.1,85.8 282.5,82.2 282.5,82.9 287,82.2 287,82.4 291.4,80.6 291.4,81.2 295.8,79.9 295.8,80.2 300.2,79.2 300.2,78.3 304.6,78.6 304.6,79.4 309,77.3 309,77.9 313.4,78 313.4,76.6 317.8,77.1 317.8,76.1 322.3,77.4 322.3,78.4 326.7,77.7 326.7,75.9 331.1,76.2 331.1,75.7 335.5,75.2 335.5,76.3 339.9,73.5 339.9,75.4 344.3,74 344.3,75.2 348.7,73.8 348.7,73.1 353.1,73.4 353.1,73.7 357.6,72.7 357.6,73.1 362,71.9 362,70.6 366.4,72.7 366.4,72.5 370.8,71.7 370.8,71.7 375.2,72.6 375.2,71.4 379.6,71.5 379.6,72 384,73.4 384,71.4 388.4,73.8 388.4,72.4 392.9,72.4 392.9,74.3 397.3,73.7 397.3,72.7 401.7,74 401.7,75 406.1,75.9 406.1,74.6 410.5,76 410.5,76.2 414.9,75.8 414.9,76.6 419.3,76.8 419.3,76.4 423.7,76.9 423.7,77.3 428.2,77.8 428.2,77.3 432.6,78 432.6,79.2 437,79.2 437,79.7 441.4,80.7 441.4,80.2 445.8,82.3 445.8,79.8 450.2,82.1 450.2,81.2 454.6,84 454.6,83.9 459,82.1 459,82.8 463.5,85.2 463.5,85.3 467.9,86.4 467.9,85.8 472.3,87.3 472.3,87.4 476.7,88.6 476.7,89.5 481.1,88.9 481.1,91.2 485.5,91 485.5,92.6 489.9,91.3 489.9,90.8 494.3,91.4 494.3,90.4 498.7,90.2 498.7,89.7 503.2,90.7 503.2,91.1 507.6,91.4 507.6,90.4 512,90.8 512,90 516.4,89.2 516.4,89.8 520.8,89.5 520.8,88.3 525.2,87.6 525.2,87.7 529.6,87 529.6,86.2 534,86.9 534,85.8 538.5,85.5 538.5,84.5 542.9,84.1 542.9,84.1 547.3,82.2 547.3,84.1 551.7,81.5 551.7,82.6 556.1,80.4 556.1,79.1 560.5,77.7 560.5,78.4 564.9,76.5 564.9,76.5 569.3,74.2 569.3,73 573.8,71.8 573.8,70.2 578.2,69.9 578.2,69 582.6,66.2 582.6,66.6 587,64 587,62.9 591.4,60.8 591.4,61 595.8,61 595.8,61 600.2,61 600.2,61 604.6,61 604.6,61 609.1,61 609.1,61 613.5,61 613.5,61 617.9,61 617.9,61 622.3,61 622.3,61 626.7,61 626.7,61 631.1,61 631.1,61 635.5,61 635.5,61 639.9,61 639.9,61 644.4,61 644.4,61 648.8,61 648.8,61 653.2,61 653.2,61 657.6,61 657.6,61 662,61 662,61" fill="none" stroke="#cc0000" stroke-width="3.8" stroke-linejoin="round" stroke-linecap="round" stroke-dasharray="0 7.1"/>
<polyline points="84,116 84,111.2 88.4,114.7 88.4,118.6 92.8,121.5 92.8,118.5 97.2,119.9 97.2,118.9 101.6,124 101.6,120.6 106.1,130.3 106.1,127.3 110.5,132.8 110.5,135.7 114.9,137.2 114.9,132.6 119.3,139.7 119.3,140.2 123.7,140.3 123.7,140 128.1,145.4 128.1,142.8 132.5,151.8 132.5,145.4 136.9,150.4 136.9,151.7 141.4,154.5 141.4,155.1 145.8,158 145.8,157.4 150.2,162.1 150.2,157.9 154.6,163.6 154.6,162.7 159,166.6 159,166.7 163.4,167.8 163.4,168.1 167.8,172.5 167.8,171.9 172.2,172.4 172.2,175.9 176.7,178 176.7,173.1 181.1,177.1 181.1,180 185.5,179.2 185.5,178.5 189.9,179.2 189.9,178.8 194.3,180.6 194.3,180.1 198.7,183 198.7,181.5 203.1,182.5 203.1,181.6 207.5,184.1 207.5,183 212,185 212,186.5 216.4,186.4 216.4,186.5 220.8,187 220.8,186.7 225.2,187.1 225.2,186.9 229.6,188.8 229.6,186.4 234,190 234,188.3 238.4,187.7 238.4,188 242.8,187.8 242.8,188.9 247.3,187.8 247.3,190.2 251.7,187.9 251.7,185.9 256.1,188.1 256.1,186.5 260.5,189.9 260.5,191.4 264.9,188.2 264.9,185.6 269.3,183.8 269.3,187.1 273.7,183.6 273.7,183.2 278.1,184 278.1,185.8 282.5,183.8 282.5,182.3 287,181.6 287,181.9 291.4,179.3 291.4,178.8 295.8,179.4 295.8,178.1 300.2,178.5 300.2,178.7 304.6,181.2 304.6,177 309,177.5 309,177.5 313.4,177.8 313.4,178.6 317.8,176.4 317.8,176 322.3,174.7 322.3,175.6 326.7,177.4 326.7,176.7 331.1,175.1 331.1,176 335.5,176.3 335.5,176.9 339.9,175.2 339.9,175.6 344.3,173.4 344.3,174.3 348.7,177.9 348.7,173 353.1,175.4 353.1,176.1 357.6,175.3 357.6,174.7 362,175.9 362,176 366.4,176.1 366.4,173.7 370.8,176.2 370.8,175.2 375.2,175.9 375.2,176.9 379.6,177.6 379.6,178 384,176.4 384,178.2 388.4,178.8 388.4,178.7 392.9,179.3 392.9,177.3 397.3,177.4 397.3,178.7 401.7,176 401.7,178.1 406.1,177.4 406.1,177.6 410.5,176.1 410.5,177.2 414.9,178.6 414.9,179.8 419.3,180.3 419.3,178.9 423.7,179.2 423.7,178.4 428.2,180.4 428.2,179.5 432.6,181.1 432.6,182.6 437,180.7 437,178.8 441.4,180.1 441.4,179.3 445.8,180.1 445.8,183.4 450.2,182.4 450.2,180.1 454.6,183.3 454.6,184.1 459,182.4 459,182 463.5,183.1 463.5,183.9 467.9,185 467.9,185.7 472.3,186.4 472.3,186.4 476.7,187.2 476.7,186.3 481.1,185.4 481.1,187.2 485.5,188.9 485.5,188 489.9,189.9 489.9,188.2 494.3,186.7 494.3,189.8 498.7,188.1 498.7,187.5 503.2,187.8 503.2,188 507.6,186.6 507.6,182.9 512,184.8 512,185.1 516.4,183.9 516.4,185.4 520.8,185.8 520.8,183.7 525.2,182 525.2,186.1 529.6,182 529.6,180.9 534,181.9 534,182.2 538.5,179.8 538.5,181.7 542.9,178.8 542.9,178.2 547.3,178.4 547.3,179.1 551.7,176 551.7,177.2 556.1,175.4 556.1,179.2 560.5,173.2 560.5,176 564.9,172.8 564.9,172.7 569.3,172.4 569.3,172.7 573.8,171.8 573.8,170.6 578.2,167.3 578.2,167.4 582.6,166.6 582.6,166.7 587,165.6 587,164.3 591.4,163 591.4,163.6 595.8,159.6 595.8,157.2 600.2,155.1 600.2,154.7 604.6,157.1 604.6,153.1 609.1,154.2 609.1,153.1 613.5,152.9 613.5,151.5 617.9,147.1 617.9,146.9 622.3,144.9 622.3,145 626.7,140.6 626.7,141.7 631.1,142.5 631.1,135 635.5,136.4 635.5,133.6 639.9,133.2 639.9,134.8 644.4,129.5 644.4,131.6 648.8,121.9 648.8,129.1 653.2,121 653.2,124.4 657.6,119.2 657.6,111.2 662,110.7 662,113.7" fill="none" stroke="#4ca6f5" stroke-width="2" stroke-linejoin="round" stroke-linecap="round" />
<path d="M80.2 116h7.6M84 112.2v7.6M80.2 111.2h7.6M84 107.4v7.6M84.6 114.7h7.6M88.4 110.9v7.6M84.6 118.6h7.6M88.4 114.8v7.6M89 121.5h7.6M92.8 117.7v7.6M89 118.5h7.6M92.8 114.7v7.6M93.4 119.9h7.6M97.2 116.1v7.6M93.4 118.9h7.6M97.2 115.1v7.6M97.8 124h7.6M101.6 120.2v7.6M97.8 120.6h7.6M101.6 116.8v7.6M102.3 130.3h7.6M106.1 126.5v7.6M102.3 127.3h7.6M106.1 123.5v7.6M106.7 132.8h7.6M110.5 129v7.6M106.7 135.7h7.6M110.5 131.9v7.6M111.1 137.2h7.6M114.9 133.4v7.6M111.1 132.6h7.6M114.9 128.8v7.6M115.5 139.7h7.6M119.3 135.9v7.6M115.5 140.2h7.6M119.3 136.4v7.6M119.9 140.3h7.6M123.7 136.5v7.6M119.9 140h7.6M123.7 136.2v7.6M124.3 145.4h7.6M128.1 141.6v7.6M124.3 142.8h7.6M128.1 139v7.6M128.7 151.8h7.6M132.5 148v7.6M128.7 145.4h7.6M132.5 141.6v7.6M133.1 150.4h7.6M136.9 146.6v7.6M133.1 151.7h7.6M136.9 147.9v7.6M137.6 154.5h7.6M141.4 150.7v7.6M137.6 155.1h7.6M141.4 151.3v7.6M142 158h7.6M145.8 154.2v7.6M142 157.4h7.6M145.8 153.6v7.6M146.4 162.1h7.6M150.2 158.3v7.6M146.4 157.9h7.6M150.2 154.1v7.6M150.8 163.6h7.6M154.6 159.8v7.6M150.8 162.7h7.6M154.6 158.9v7.6M155.2 166.6h7.6M159 162.8v7.6M155.2 166.7h7.6M159 162.9v7.6M159.6 167.8h7.6M163.4 164v7.6M159.6 168.1h7.6M163.4 164.3v7.6M164 172.5h7.6M167.8 168.7v7.6M164 171.9h7.6M167.8 168.1v7.6M168.4 172.4h7.6M172.2 168.6v7.6M168.4 175.9h7.6M172.2 172.1v7.6M172.9 178h7.6M176.7 174.2v7.6M172.9 173.1h7.6M176.7 169.3v7.6M177.3 177.1h7.6M181.1 173.3v7.6M177.3 180h7.6M181.1 176.2v7.6M181.7 179.2h7.6M185.5 175.4v7.6M181.7 178.5h7.6M185.5 174.7v7.6M186.1 179.2h7.6M189.9 175.4v7.6M186.1 178.8h7.6M189.9 175v7.6M190.5 180.6h7.6M194.3 176.8v7.6M190.5 180.1h7.6M194.3 176.3v7.6M194.9 183h7.6M198.7 179.2v7.6M194.9 181.5h7.6M198.7 177.7v7.6M199.3 182.5h7.6M203.1 178.7v7.6M199.3 181.6h7.6M203.1 177.8v7.6M203.7 184.1h7.6M207.5 180.3v7.6M203.7 183h7.6M207.5 179.2v7.6M208.2 185h7.6M212 181.2v7.6M208.2 186.5h7.6M212 182.7v7.6M212.6 186.4h7.6M216.4 182.6v7.6M212.6 186.5h7.6M216.4 182.7v7.6M217 187h7.6M220.8 183.2v7.6M217 186.7h7.6M220.8 182.9v7.6M221.4 187.1h7.6M225.2 183.3v7.6M221.4 186.9h7.6M225.2 183.1v7.6M225.8 188.8h7.6M229.6 185v7.6M225.8 186.4h7.6M229.6 182.6v7.6M230.2 190h7.6M234 186.2v7.6M230.2 188.3h7.6M234 184.5v7.6M234.6 187.7h7.6M238.4 183.9v7.6M234.6 188h7.6M238.4 184.2v7.6M239 187.8h7.6M242.8 184v7.6M239 188.9h7.6M242.8 185.1v7.6M243.5 187.8h7.6M247.3 184v7.6M243.5 190.2h7.6M247.3 186.4v7.6M247.9 187.9h7.6M251.7 184.1v7.6M247.9 185.9h7.6M251.7 182.1v7.6M252.3 188.1h7.6M256.1 184.3v7.6M252.3 186.5h7.6M256.1 182.7v7.6M256.7 189.9h7.6M260.5 186.1v7.6M256.7 191.4h7.6M260.5 187.6v7.6M261.1 188.2h7.6M264.9 184.4v7.6M261.1 185.6h7.6M264.9 181.8v7.6M265.5 183.8h7.6M269.3 180v7.6M265.5 187.1h7.6M269.3 183.3v7.6M269.9 183.6h7.6M273.7 179.8v7.6M269.9 183.2h7.6M273.7 179.4v7.6M274.3 184h7.6M278.1 180.2v7.6M274.3 185.8h7.6M278.1 182v7.6M278.7 183.8h7.6M282.5 180v7.6M278.7 182.3h7.6M282.5 178.5v7.6M283.2 181.6h7.6M287 177.8v7.6M283.2 181.9h7.6M287 178.1v7.6M287.6 179.3h7.6M291.4 175.5v7.6M287.6 178.8h7.6M291.4 175v7.6M292 179.4h7.6M295.8 175.6v7.6M292 178.1h7.6M295.8 174.3v7.6M296.4 178.5h7.6M300.2 174.7v7.6M296.4 178.7h7.6M300.2 174.9v7.6M300.8 181.2h7.6M304.6 177.4v7.6M300.8 177h7.6M304.6 173.2v7.6M305.2 177.5h7.6M309 173.7v7.6M305.2 177.5h7.6M309 173.7v7.6M309.6 177.8h7.6M313.4 174v7.6M309.6 178.6h7.6M313.4 174.8v7.6M314 176.4h7.6M317.8 172.6v7.6M314 176h7.6M317.8 172.2v7.6M318.5 174.7h7.6M322.3 170.9v7.6M318.5 175.6h7.6M322.3 171.8v7.6M322.9 177.4h7.6M326.7 173.6v7.6M322.9 176.7h7.6M326.7 172.9v7.6M327.3 175.1h7.6M331.1 171.3v7.6M327.3 176h7.6M331.1 172.2v7.6M331.7 176.3h7.6M335.5 172.5v7.6M331.7 176.9h7.6M335.5 173.1v7.6M336.1 175.2h7.6M339.9 171.4v7.6M336.1 175.6h7.6M339.9 171.8v7.6M340.5 173.4h7.6M344.3 169.6v7.6M340.5 174.3h7.6M344.3 170.5v7.6M344.9 177.9h7.6M348.7 174.1v7.6M344.9 173h7.6M348.7 169.2v7.6M349.3 175.4h7.6M353.1 171.6v7.6M349.3 176.1h7.6M353.1 172.3v7.6M353.8 175.3h7.6M357.6 171.5v7.6M353.8 174.7h7.6M357.6 170.9v7.6M358.2 175.9h7.6M362 172.1v7.6M358.2 176h7.6M362 172.2v7.6M362.6 176.1h7.6M366.4 172.3v7.6M362.6 173.7h7.6M366.4 169.9v7.6M367 176.2h7.6M370.8 172.4v7.6M367 175.2h7.6M370.8 171.4v7.6M371.4 175.9h7.6M375.2 172.1v7.6M371.4 176.9h7.6M375.2 173.1v7.6M375.8 177.6h7.6M379.6 173.8v7.6M375.8 178h7.6M379.6 174.2v7.6M380.2 176.4h7.6M384 172.6v7.6M380.2 178.2h7.6M384 174.4v7.6M384.6 178.8h7.6M388.4 175v7.6M384.6 178.7h7.6M388.4 174.9v7.6M389.1 179.3h7.6M392.9 175.5v7.6M389.1 177.3h7.6M392.9 173.5v7.6M393.5 177.4h7.6M397.3 173.6v7.6M393.5 178.7h7.6M397.3 174.9v7.6M397.9 176h7.6M401.7 172.2v7.6M397.9 178.1h7.6M401.7 174.3v7.6M402.3 177.4h7.6M406.1 173.6v7.6M402.3 177.6h7.6M406.1 173.8v7.6M406.7 176.1h7.6M410.5 172.3v7.6M406.7 177.2h7.6M410.5 173.4v7.6M411.1 178.6h7.6M414.9 174.8v7.6M411.1 179.8h7.6M414.9 176v7.6M415.5 180.3h7.6M419.3 176.5v7.6M415.5 178.9h7.6M419.3 175.1v7.6M419.9 179.2h7.6M423.7 175.4v7.6M419.9 178.4h7.6M423.7 174.6v7.6M424.4 180.4h7.6M428.2 176.6v7.6M424.4 179.5h7.6M428.2 175.7v7.6M428.8 181.1h7.6M432.6 177.3v7.6M428.8 182.6h7.6M432.6 178.8v7.6M433.2 180.7h7.6M437 176.9v7.6M433.2 178.8h7.6M437 175v7.6M437.6 180.1h7.6M441.4 176.3v7.6M437.6 179.3h7.6M441.4 175.5v7.6M442 180.1h7.6M445.8 176.3v7.6M442 183.4h7.6M445.8 179.6v7.6M446.4 182.4h7.6M450.2 178.6v7.6M446.4 180.1h7.6M450.2 176.3v7.6M450.8 183.3h7.6M454.6 179.5v7.6M450.8 184.1h7.6M454.6 180.3v7.6M455.2 182.4h7.6M459 178.6v7.6M455.2 182h7.6M459 178.2v7.6M459.7 183.1h7.6M463.5 179.3v7.6M459.7 183.9h7.6M463.5 180.1v7.6M464.1 185h7.6M467.9 181.2v7.6M464.1 185.7h7.6M467.9 181.9v7.6M468.5 186.4h7.6M472.3 182.6v7.6M468.5 186.4h7.6M472.3 182.6v7.6M472.9 187.2h7.6M476.7 183.4v7.6M472.9 186.3h7.6M476.7 182.5v7.6M477.3 185.4h7.6M481.1 181.6v7.6M477.3 187.2h7.6M481.1 183.4v7.6M481.7 188.9h7.6M485.5 185.1v7.6M481.7 188h7.6M485.5 184.2v7.6M486.1 189.9h7.6M489.9 186.1v7.6M486.1 188.2h7.6M489.9 184.4v7.6M490.5 186.7h7.6M494.3 182.9v7.6M490.5 189.8h7.6M494.3 186v7.6M494.9 188.1h7.6M498.7 184.3v7.6M494.9 187.5h7.6M498.7 183.7v7.6M499.4 187.8h7.6M503.2 184v7.6M499.4 188h7.6M503.2 184.2v7.6M503.8 186.6h7.6M507.6 182.8v7.6M503.8 182.9h7.6M507.6 179.1v7.6M508.2 184.8h7.6M512 181v7.6M508.2 185.1h7.6M512 181.3v7.6M512.6 183.9h7.6M516.4 180.1v7.6M512.6 185.4h7.6M516.4 181.6v7.6M517 185.8h7.6M520.8 182v7.6M517 183.7h7.6M520.8 179.9v7.6M521.4 182h7.6M525.2 178.2v7.6M521.4 186.1h7.6M525.2 182.3v7.6M525.8 182h7.6M529.6 178.2v7.6M525.8 180.9h7.6M529.6 177.1v7.6M530.2 181.9h7.6M534 178.1v7.6M530.2 182.2h7.6M534 178.4v7.6M534.7 179.8h7.6M538.5 176v7.6M534.7 181.7h7.6M538.5 177.9v7.6M539.1 178.8h7.6M542.9 175v7.6M539.1 178.2h7.6M542.9 174.4v7.6M543.5 178.4h7.6M547.3 174.6v7.6M543.5 179.1h7.6M547.3 175.3v7.6M547.9 176h7.6M551.7 172.2v7.6M547.9 177.2h7.6M551.7 173.4v7.6M552.3 175.4h7.6M556.1 171.6v7.6M552.3 179.2h7.6M556.1 175.4v7.6M556.7 173.2h7.6M560.5 169.4v7.6M556.7 176h7.6M560.5 172.2v7.6M561.1 172.8h7.6M564.9 169v7.6M561.1 172.7h7.6M564.9 168.9v7.6M565.5 172.4h7.6M569.3 168.6v7.6M565.5 172.7h7.6M569.3 168.9v7.6M570 171.8h7.6M573.8 168v7.6M570 170.6h7.6M573.8 166.8v7.6M574.4 167.3h7.6M578.2 163.5v7.6M574.4 167.4h7.6M578.2 163.6v7.6M578.8 166.6h7.6M582.6 162.8v7.6M578.8 166.7h7.6M582.6 162.9v7.6M583.2 165.6h7.6M587 161.8v7.6M583.2 164.3h7.6M587 160.5v7.6M587.6 163h7.6M591.4 159.2v7.6M587.6 163.6h7.6M591.4 159.8v7.6M592 159.6h7.6M595.8 155.8v7.6M592 157.2h7.6M595.8 153.4v7.6M596.4 155.1h7.6M600.2 151.3v7.6M596.4 154.7h7.6M600.2 150.9v7.6M600.8 157.1h7.6M604.6 153.3v7.6M600.8 153.1h7.6M604.6 149.3v7.6M605.3 154.2h7.6M609.1 150.4v7.6M605.3 153.1h7.6M609.1 149.3v7.6M609.7 152.9h7.6M613.5 149.1v7.6M609.7 151.5h7.6M613.5 147.7v7.6M614.1 147.1h7.6M617.9 143.3v7.6M614.1 146.9h7.6M617.9 143.1v7.6M618.5 144.9h7.6M622.3 141.1v7.6M618.5 145h7.6M622.3 141.2v7.6M622.9 140.6h7.6M626.7 136.8v7.6M622.9 141.7h7.6M626.7 137.9v7.6M627.3 142.5h7.6M631.1 138.7v7.6M627.3 135h7.6M631.1 131.2v7.6M631.7 136.4h7.6M635.5 132.6v7.6M631.7 133.6h7.6M635.5 129.8v7.6M636.1 133.2h7.6M639.9 129.4v7.6M636.1 134.8h7.6M639.9 131v7.6M640.6 129.5h7.6M644.4 125.7v7.6M640.6 131.6h7.6M644.4 127.8v7.6M645 121.9h7.6M648.8 118.1v7.6M645 129.1h7.6M648.8 125.3v7.6M649.4 121h7.6M653.2 117.2v7.6M649.4 124.4h7.6M653.2 120.6v7.6M653.8 119.2h7.6M657.6 115.4v7.6M653.8 111.2h7.6M657.6 107.4v7.6M658.2 110.7h7.6M662 106.9v7.6M658.2 113.7h7.6M662 109.9v7.6" stroke="#4ca6f5" stroke-width="2.0" fill="none"/>
<polyline points="84,296.6 88.4,296.6 92.8,296.6 97.2,296.6 101.6,296.6 106.1,296.6 110.5,296.6 114.9,296.6 119.3,296.6 123.7,296.6 128.1,296.6 132.5,296.6 136.9,296.6 141.4,296.6 145.8,296.6 150.2,296.6 154.6,296.6 159,296.6 163.4,296.6 167.8,296.6 172.2,296.6 176.7,296.6 181.1,296.6 185.5,296.6 189.9,296.6 194.3,296.6 198.7,296.6 203.1,296.6 207.5,296.6 212,296.6 216.4,296.6 220.8,296.6 225.2,296.6 229.6,296.6 234,296.6 238.4,296.6 242.8,296.6 247.3,296.6 251.7,296.6 256.1,296.6 260.5,296.6 264.9,296.6 269.3,296.6 273.7,296.6 278.1,296.6 282.5,296.6 287,296.6 291.4,296.6 295.8,296.6 300.2,296.6 304.6,296.6 309,296.6 313.4,296.6 317.8,296.6 322.3,296.6 326.7,296.6 331.1,296.6 335.5,296.6 339.9,296.6 344.3,296.6 348.7,296.6 353.1,296.6 357.6,296.6 362,296.6 366.4,296.6 370.8,296.6 375.2,296.6 379.6,296.6 384,296.6 388.4,296.6 392.9,296.6 397.3,296.6 401.7,296.6 406.1,296.6 410.5,296.6 414.9,296.6 419.3,296.6 423.7,296.6 428.2,296.6 432.6,296.6 437,296.6 441.4,296.6 445.8,296.6 450.2,296.6 454.6,296.6 459,296.6 463.5,296.6 467.9,296.6 472.3,296.6 476.7,296.6 481.1,296.6 485.5,296.6 489.9,296.6 494.3,296.6 498.7,296.6 503.2,296.6 507.6,296.6 512,296.6 516.4,296.6 520.8,296.6 525.2,296.6 529.6,296.6 534,296.6 538.5,296.6 542.9,296.6 547.3,296.6 551.7,296.6 556.1,296.6 560.5,296.6 564.9,296.6 569.3,296.6 573.8,296.6 578.2,296.6 582.6,296.6 587,296.6 591.4,296.6 595.8,296.6 600.2,296.6 604.6,296.6 609.1,296.6 613.5,296.6 617.9,296.6 622.3,296.6 626.7,296.6 631.1,296.6 635.5,296.6 639.9,296.6 644.4,296.6 648.8,296.6 653.2,296.6 657.6,296.6 662,296.6" fill="none" stroke="#ffb40a" stroke-width="3.6" stroke-linejoin="round" stroke-linecap="round" stroke-dasharray="8.6 13.3" stroke-linecap="round"/>
<path d="M111.4 209H161.6" stroke="#3c12ee" stroke-width="3.4" stroke-linecap="round"/>
<text x="167.5" y="216" class="lg">BFPC u = 4, 3 lanes</text>
<path d="M111.7 238.8H163.1" stroke="#cc0000" stroke-width="3.6" stroke-linecap="round" stroke-dasharray="0 7.05"/>
<text x="167.5" y="245.2" class="lg">BFPC u = 4, 5 lanes</text>
<path d="M111.7 268.5H161.3" stroke="#ffb40a" stroke-width="3.6" stroke-linecap="round" stroke-dasharray="7.6 13.4"/>
<text x="167.5" y="274.6" class="lg">JATB</text>
<path d="M387.6 209H438.4" stroke="#7ee05c" stroke-width="2"/>
<path d="M409 205l8 8M409 213l8 -8" stroke="#58dc22" stroke-width="1.8" fill="none"/>
<text x="444.5" y="216" class="lg">BFPC u = 10, 3 lanes</text>
<path d="M387.6 239H438.4" stroke="#6cb4f7" stroke-width="2"/>
<path d="M409.2 239h7.6M413 235.2v7.6" stroke="#4ca6f5" stroke-width="2.0" fill="none"/>
<text x="444.5" y="245.2" class="lg">BFPC u = 10, 5 lanes</text>
<path d="M79.7 657.4H656M79.7 608.9H656M79.7 560.5H656M79.7 512.1H656M79.7 463.6H656M195 415.2V705.8M310.2 415.2V705.8M425.5 415.2V705.8M540.7 415.2V705.8" stroke="#d9d9d9" stroke-width="2" fill="none"/>
<rect x="79.7" y="415.2" width="576.3" height="290.6" fill="none" stroke="#000" stroke-width="2.3"/>
<text transform="translate(69.3 712.8) scale(1 1.08)" text-anchor="end" class="t">0</text>
<text transform="translate(69.3 664.3) scale(1 1.08)" text-anchor="end" class="t">2</text>
<text transform="translate(69.3 615.9) scale(1 1.08)" text-anchor="end" class="t">4</text>
<text transform="translate(69.3 567.5) scale(1 1.08)" text-anchor="end" class="t">6</text>
<text transform="translate(69.3 519) scale(1 1.08)" text-anchor="end" class="t">8</text>
<text transform="translate(69.3 470.6) scale(1 1.08)" text-anchor="end" class="t">10</text>
<text transform="translate(69.3 422.1) scale(1 1.08)" text-anchor="end" class="t">12</text>
<text transform="translate(79.7 728) scale(1 1.08)" text-anchor="middle" class="t">0</text>
<text transform="translate(195 728) scale(1 1.08)" text-anchor="middle" class="t">200</text>
<text transform="translate(310.2 728) scale(1 1.08)" text-anchor="middle" class="t">400</text>
<text transform="translate(425.5 728) scale(1 1.08)" text-anchor="middle" class="t">600</text>
<text transform="translate(540.7 728) scale(1 1.08)" text-anchor="middle" class="t">800</text>
<text transform="translate(656 728) scale(1 1.08)" text-anchor="middle" class="t">1000</text>
<text transform="translate(27.2 555.3) rotate(-90)" text-anchor="middle" class="ty">Beacon Frequency (Hz)</text>
<text x="299.7" y="760.7" class="ti">X-Position (m)</text>
<polyline points="79.7,532.7 79.7,531.7 84.1,535.5 84.1,534.1 88.5,540.2 88.5,540.5 92.9,542.8 92.9,542.6 97.3,545.7 97.3,547.7 101.7,553.4 101.7,551.8 106.1,556.5 106.1,555.9 110.5,558.2 110.5,560.1 114.9,561.2 114.9,562 119.3,565.6 119.3,566.1 123.7,568.8 123.7,568.8 128.1,570.9 128.1,570.5 132.5,574.6 132.5,573.9 136.9,576.5 136.9,576.5 141.3,580.2 141.3,579.1 145.7,582.6 145.7,582.4 150.1,586.9 150.1,587.1 154.5,591 154.5,588.2 158.9,591.5 158.9,592.8 163.3,594.5 163.3,594.4 167.7,598.1 167.7,596.4 172.1,597.5 172.1,597.4 176.5,600.4 176.5,600.4 180.9,600.8 180.9,601.1 185.3,604 185.3,604.1 189.7,604.8 189.7,605.9 194.1,607.3 194.1,605.5 198.5,608 198.5,608.5 202.9,609.1 202.9,607.8 207.3,610.5 207.3,611.3 211.7,612.7 211.7,609.7 216.1,614.2 216.1,611.2 220.5,613.6 220.5,613.8 224.9,614.2 224.9,613.6 229.3,613.2 229.3,614.6 233.7,614.2 233.7,612.7 238.1,617.4 238.1,615.7 242.5,616.8 242.5,614.6 246.9,616.8 246.9,616.9 251.3,616.8 251.3,615.6 255.7,613.8 255.7,614.6 260.1,612.1 260.1,612.5 264.5,612.8 264.5,611.9 268.9,611.3 268.9,611.3 273.3,611.6 273.3,611.1 277.7,609.1 277.7,610.1 282.1,607.5 282.1,607.9 286.5,608 286.5,606.3 290.9,606.4 290.9,605.6 295.3,606.1 295.3,607.3 299.7,604.7 299.7,605.5 304.1,603.9 304.1,603.7 308.5,603 308.5,605.2 312.9,605.2 312.9,603.7 317.3,602.4 317.3,603.5 321.7,602.4 321.7,603.3 326.1,602.6 326.1,602.6 330.5,602.5 330.5,601.6 334.9,601.4 334.9,600.4 339.3,601.1 339.3,600.3 343.7,601.1 343.7,600.4 348.1,601.3 348.1,601.6 352.5,600.1 352.5,600.5 356.9,600.4 356.9,601.8 361.3,602.6 361.3,601.9 365.7,600.9 365.7,602.4 370,600 370,602.4 374.4,600.8 374.4,599.1 378.8,603.6 378.8,602.7 383.2,600.8 383.2,601.8 387.6,601.6 387.6,601.9 392,600.8 392,601.4 396.4,602.5 396.4,602.3 400.8,603.2 400.8,602.3 405.2,604.6 405.2,602.1 409.6,603.4 409.6,601.6 414,602.6 414,604.7 418.4,603.3 418.4,604.5 422.8,604.5 422.8,603.7 427.2,604.7 427.2,604.5 431.6,605 431.6,606 436,606.5 436,605.5 440.4,605.8 440.4,606.8 444.8,607 444.8,607.9 449.2,609.8 449.2,608.3 453.6,608.2 453.6,608.1 458,608.1 458,608.1 462.4,608.9 462.4,609.4 466.8,610.4 466.8,611.4 471.2,611.6 471.2,611.7 475.6,612.1 475.6,614.3 480,614.5 480,615.6 484.4,615.5 484.4,616 488.8,614 488.8,614.8 493.2,615.7 493.2,612.6 497.6,613.8 497.6,614.3 502,612.6 502,612.9 506.4,612.7 506.4,611.1 510.8,611.5 510.8,610.4 515.2,610 515.2,610.1 519.6,609.9 519.6,610.2 524,609.9 524,608.3 528.4,610.3 528.4,609.6 532.8,607.7 532.8,606.8 537.2,605.4 537.2,606 541.6,604.3 541.6,602.6 546,603 546,604.8 550.4,599.4 550.4,601.8 554.8,599.9 554.8,599.5 559.2,599.4 559.2,597.3 563.6,596.7 563.6,597.8 568,593.8 568,593.6 572.4,591.5 572.4,591 576.8,590 576.8,588 581.2,586.4 581.2,584.6 585.6,583.1 585.6,582.5 590,577.3 590,579.5 594.4,576 594.4,576.5 598.8,575.5 598.8,573.3 603.2,570.7 603.2,572.8 607.6,569 607.6,570.2 612,566.6 612,565.6 616.4,563.6 616.4,564.7 620.8,560.8 620.8,560 625.2,556.1 625.2,556 629.6,551.6 629.6,553.7 634,548.4 634,547.5 638.4,544.5 638.4,545.5 642.8,541.9 642.8,541.2 647.2,536.8 647.2,537.4 651.6,531.6 651.6,531.9 656,528.7 656,527.6" fill="none" stroke="#3c12ee" stroke-width="3.6" stroke-linejoin="round" stroke-linecap="round" />
<polyline points="79.7,468.7 79.7,472.6 79.7,470 84.1,472.5 84.1,482 84.1,475.4 88.5,475.8 88.5,480.6 88.5,479.2 92.9,478.1 92.9,482.1 92.9,481.1 97.3,479.2 97.3,486.8 97.3,486.3 101.7,491.8 101.7,486.8 101.7,492.2 106.1,499.6 106.1,500.2 106.1,495.2 110.5,507.3 110.5,500 110.5,503.9 114.9,514.3 114.9,506.6 114.9,507.3 119.3,516.8 119.3,511.3 119.3,511.6 123.7,516.9 123.7,519.9 123.7,508 128.1,516.3 128.1,515.7 128.1,515.4 132.5,520.9 132.5,521 132.5,524.9 136.9,525.3 136.9,528.7 136.9,529.7 141.3,529.7 141.3,532.6 141.3,537.5 145.7,537.1 145.7,534 145.7,535.9 150.1,537.2 150.1,540.9 150.1,542.7 154.5,539.8 154.5,541.7 154.5,545.6 158.9,543.1 158.9,545.1 158.9,541.5 163.3,544.4 163.3,545.2 163.3,552.7 167.7,547.3 167.7,547 167.7,546.9 172.1,549.7 172.1,551.9 172.1,550.7 176.5,557 176.5,552.4 176.5,555.5 180.9,554.3 180.9,555.1 180.9,550.2 185.3,555.1 185.3,555.2 185.3,554.8 189.7,552.1 189.7,559.2 189.7,556.3 194.1,557.7 194.1,558.1 194.1,558.2 198.5,560.9 198.5,557.1 198.5,557.9 202.9,562 202.9,561.7 202.9,560.5 207.3,561.4 207.3,560.8 207.3,562.5 211.7,566.7 211.7,561.7 211.7,567.4 216.1,567.3 216.1,564.5 216.1,567.2 220.5,563.7 220.5,563.1 220.5,564 224.9,566.7 224.9,566.9 224.9,566.5 229.3,568.4 229.3,563.7 229.3,569.3 233.7,566.1 233.7,567.7 233.7,568.2 238.1,567.8 238.1,567.4 238.1,568.1 242.5,571.2 242.5,572.5 242.5,572.4 246.9,570.2 246.9,570.6 246.9,570.3 251.3,573.9 251.3,569 251.3,575.5 255.7,570.3 255.7,569.7 255.7,571.9 260.1,570.3 260.1,569 260.1,570.4 264.5,566.8 264.5,568.9 264.5,569 268.9,564 268.9,566.9 268.9,564.5 273.3,561.3 273.3,559.5 273.3,560.6 277.7,560.5 277.7,556.7 277.7,560.2 282.1,558.2 282.1,558.1 282.1,553.6 286.5,556.1 286.5,557.4 286.5,554.9 290.9,555.2 290.9,550.8 290.9,556.2 295.3,552.6 295.3,555.3 295.3,550.6 299.7,553.8 299.7,552.2 299.7,554 304.1,550.6 304.1,551.2 304.1,556 308.5,550.5 308.5,550.7 308.5,551.4 312.9,549.8 312.9,553.6 312.9,554.5 317.3,550.2 317.3,548.5 317.3,553.4 321.7,553.2 321.7,552.7 321.7,553.3 326.1,549.7 326.1,550.9 326.1,548.8 330.5,548.6 330.5,552.7 330.5,549.9 334.9,554.8 334.9,551 334.9,549.8 339.3,552.2 339.3,553.9 339.3,551.6 343.7,548.6 343.7,551.3 343.7,553 348.1,549.8 348.1,549.3 348.1,552.3 352.5,550.7 352.5,548.6 352.5,549.9 356.9,549.1 356.9,550.9 356.9,550.6 361.3,552.3 361.3,551.5 361.3,547.7 365.7,550.9 365.7,551.8 365.7,551 370,551.9 370,549.2 370,548.5 374.4,551.7 374.4,548.3 374.4,546.5 378.8,552 378.8,549 378.8,549.7 383.2,548 383.2,548.1 383.2,548.4 387.6,549.8 387.6,551 387.6,546.5 392,551.8 392,548.5 392,548.7 396.4,551.8 396.4,550.5 396.4,548 400.8,553.8 400.8,549.2 400.8,551.1 405.2,551.6 405.2,553.7 405.2,550.5 409.6,553.6 409.6,550.7 409.6,553.8 414,551.3 414,551.9 414,555.8 418.4,553.7 418.4,553.4 418.4,557 422.8,554.5 422.8,552.5 422.8,555.1 427.2,552.5 427.2,556.4 427.2,556.6 431.6,554.2 431.6,554.1 431.6,555.5 436,556.1 436,554.4 436,557 440.4,553.4 440.4,556.1 440.4,556.2 444.8,557.3 444.8,558.2 444.8,555.6 449.2,559.6 449.2,558.2 449.2,557.4 453.6,557.8 453.6,558.1 453.6,560.8 458,560.3 458,562 458,563.7 462.4,565.4 462.4,566.3 462.4,563.1 466.8,563.3 466.8,566.9 466.8,565.7 471.2,568.6 471.2,566.7 471.2,568.7 475.6,569.4 475.6,569.2 475.6,568.8 480,569.8 480,569.5 480,569.5 484.4,569 484.4,566.4 484.4,570.2 488.8,566.4 488.8,568.2 488.8,566.4 493.2,565.7 493.2,569.5 493.2,565.6 497.6,563.3 497.6,564.2 497.6,564.9 502,567.8 502,564.5 502,565.7 506.4,561.1 506.4,563.4 506.4,563.9 510.8,564 510.8,559.7 510.8,561.9 515.2,559.1 515.2,556.9 515.2,558.6 519.6,557 519.6,553.5 519.6,558.5 524,557.4 524,555.7 524,554.2 528.4,557.9 528.4,555.8 528.4,557.1 532.8,556 532.8,552.7 532.8,555 537.2,551 537.2,551.3 537.2,551.2 541.6,549.2 541.6,551.1 541.6,549.4 546,546.9 546,546.7 546,547.7 550.4,543.5 550.4,544.1 550.4,544.9 554.8,541.8 554.8,542.6 554.8,541.8 559.2,544 559.2,542.9 559.2,541.4 563.6,538.2 563.6,542.2 563.6,538.8 568,535.4 568,536.2 568,536.2 572.4,535.8 572.4,532.9 572.4,537.2 576.8,528.4 576.8,531.8 576.8,528.1 581.2,531.4 581.2,526.5 581.2,527.1 585.6,526.4 585.6,527.2 585.6,521.5 590,520.2 590,517.5 590,521.4 594.4,517.1 594.4,516.5 594.4,515.6 598.8,512.3 598.8,511.3 598.8,514.9 603.2,513.8 603.2,503.8 603.2,509.1 607.6,504.5 607.6,507.3 607.6,502.9 612,502.2 612,499.4 612,504.9 616.4,500 616.4,499.1 616.4,500.9 620.8,495.6 620.8,491.2 620.8,498.5 625.2,493.1 625.2,491.5 625.2,495.6 629.6,492.2 629.6,483.7 629.6,484.8 634,489.2 634,488.7 634,480.5 638.4,473.8 638.4,476 638.4,476.5 642.8,467.1 642.8,473.7 642.8,468.3 647.2,463.7 647.2,472.7 647.2,465.9 651.6,465.8 651.6,468.9 651.6,469.7 656,462 656,463.7 656,459.8" fill="none" stroke="#58dc22" stroke-width="2" stroke-linejoin="round" stroke-linecap="round" />
<path d="M76 465l7.4 7.4M76 472.4l7.4 -7.4M76 468.9l7.4 7.4M76 476.3l7.4 -7.4M76 466.3l7.4 7.4M76 473.7l7.4 -7.4M80.4 468.8l7.4 7.4M80.4 476.2l7.4 -7.4M80.4 478.3l7.4 7.4M80.4 485.7l7.4 -7.4M80.4 471.7l7.4 7.4M80.4 479.1l7.4 -7.4M84.8 472.1l7.4 7.4M84.8 479.5l7.4 -7.4M84.8 476.9l7.4 7.4M84.8 484.3l7.4 -7.4M84.8 475.5l7.4 7.4M84.8 482.9l7.4 -7.4M89.2 474.4l7.4 7.4M89.2 481.8l7.4 -7.4M89.2 478.4l7.4 7.4M89.2 485.8l7.4 -7.4M89.2 477.4l7.4 7.4M89.2 484.8l7.4 -7.4M93.6 475.5l7.4 7.4M93.6 482.9l7.4 -7.4M93.6 483.1l7.4 7.4M93.6 490.5l7.4 -7.4M93.6 482.6l7.4 7.4M93.6 490l7.4 -7.4M98 488.1l7.4 7.4M98 495.5l7.4 -7.4M98 483.1l7.4 7.4M98 490.5l7.4 -7.4M98 488.5l7.4 7.4M98 495.9l7.4 -7.4M102.4 495.9l7.4 7.4M102.4 503.3l7.4 -7.4M102.4 496.5l7.4 7.4M102.4 503.9l7.4 -7.4M102.4 491.5l7.4 7.4M102.4 498.9l7.4 -7.4M106.8 503.6l7.4 7.4M106.8 511l7.4 -7.4M106.8 496.3l7.4 7.4M106.8 503.7l7.4 -7.4M106.8 500.2l7.4 7.4M106.8 507.6l7.4 -7.4M111.2 510.6l7.4 7.4M111.2 518l7.4 -7.4M111.2 502.9l7.4 7.4M111.2 510.3l7.4 -7.4M111.2 503.6l7.4 7.4M111.2 511l7.4 -7.4M115.6 513.1l7.4 7.4M115.6 520.5l7.4 -7.4M115.6 507.6l7.4 7.4M115.6 515l7.4 -7.4M115.6 507.9l7.4 7.4M115.6 515.3l7.4 -7.4M120 513.2l7.4 7.4M120 520.6l7.4 -7.4M120 516.2l7.4 7.4M120 523.6l7.4 -7.4M120 504.3l7.4 7.4M120 511.7l7.4 -7.4M124.4 512.6l7.4 7.4M124.4 520l7.4 -7.4M124.4 512l7.4 7.4M124.4 519.4l7.4 -7.4M124.4 511.7l7.4 7.4M124.4 519.1l7.4 -7.4M128.8 517.2l7.4 7.4M128.8 524.6l7.4 -7.4M128.8 517.3l7.4 7.4M128.8 524.7l7.4 -7.4M128.8 521.2l7.4 7.4M128.8 528.6l7.4 -7.4M133.2 521.6l7.4 7.4M133.2 529l7.4 -7.4M133.2 525l7.4 7.4M133.2 532.4l7.4 -7.4M133.2 526l7.4 7.4M133.2 533.4l7.4 -7.4M137.6 526l7.4 7.4M137.6 533.4l7.4 -7.4M137.6 528.9l7.4 7.4M137.6 536.3l7.4 -7.4M137.6 533.8l7.4 7.4M137.6 541.2l7.4 -7.4M142 533.4l7.4 7.4M142 540.8l7.4 -7.4M142 530.3l7.4 7.4M142 537.7l7.4 -7.4M142 532.2l7.4 7.4M142 539.6l7.4 -7.4M146.4 533.5l7.4 7.4M146.4 540.9l7.4 -7.4M146.4 537.2l7.4 7.4M146.4 544.6l7.4 -7.4M146.4 539l7.4 7.4M146.4 546.4l7.4 -7.4M150.8 536.1l7.4 7.4M150.8 543.5l7.4 -7.4M150.8 538l7.4 7.4M150.8 545.4l7.4 -7.4M150.8 541.9l7.4 7.4M150.8 549.3l7.4 -7.4M155.2 539.4l7.4 7.4M155.2 546.8l7.4 -7.4M155.2 541.4l7.4 7.4M155.2 548.8l7.4 -7.4M155.2 537.8l7.4 7.4M155.2 545.2l7.4 -7.4M159.6 540.7l7.4 7.4M159.6 548.1l7.4 -7.4M159.6 541.5l7.4 7.4M159.6 548.9l7.4 -7.4M159.6 549l7.4 7.4M159.6 556.4l7.4 -7.4M164 543.6l7.4 7.4M164 551l7.4 -7.4M164 543.3l7.4 7.4M164 550.7l7.4 -7.4M164 543.2l7.4 7.4M164 550.6l7.4 -7.4M168.4 546l7.4 7.4M168.4 553.4l7.4 -7.4M168.4 548.2l7.4 7.4M168.4 555.6l7.4 -7.4M168.4 547l7.4 7.4M168.4 554.4l7.4 -7.4M172.8 553.3l7.4 7.4M172.8 560.7l7.4 -7.4M172.8 548.7l7.4 7.4M172.8 556.1l7.4 -7.4M172.8 551.8l7.4 7.4M172.8 559.2l7.4 -7.4M177.2 550.6l7.4 7.4M177.2 558l7.4 -7.4M177.2 551.4l7.4 7.4M177.2 558.8l7.4 -7.4M177.2 546.5l7.4 7.4M177.2 553.9l7.4 -7.4M181.6 551.4l7.4 7.4M181.6 558.8l7.4 -7.4M181.6 551.5l7.4 7.4M181.6 558.9l7.4 -7.4M181.6 551.1l7.4 7.4M181.6 558.5l7.4 -7.4M186 548.4l7.4 7.4M186 555.8l7.4 -7.4M186 555.5l7.4 7.4M186 562.9l7.4 -7.4M186 552.6l7.4 7.4M186 560l7.4 -7.4M190.4 554l7.4 7.4M190.4 561.4l7.4 -7.4M190.4 554.4l7.4 7.4M190.4 561.8l7.4 -7.4M190.4 554.5l7.4 7.4M190.4 561.9l7.4 -7.4M194.8 557.2l7.4 7.4M194.8 564.6l7.4 -7.4M194.8 553.4l7.4 7.4M194.8 560.8l7.4 -7.4M194.8 554.2l7.4 7.4M194.8 561.6l7.4 -7.4M199.2 558.3l7.4 7.4M199.2 565.7l7.4 -7.4M199.2 558l7.4 7.4M199.2 565.4l7.4 -7.4M199.2 556.8l7.4 7.4M199.2 564.2l7.4 -7.4M203.6 557.7l7.4 7.4M203.6 565.1l7.4 -7.4M203.6 557.1l7.4 7.4M203.6 564.5l7.4 -7.4M203.6 558.8l7.4 7.4M203.6 566.2l7.4 -7.4M208 563l7.4 7.4M208 570.4l7.4 -7.4M208 558l7.4 7.4M208 565.4l7.4 -7.4M208 563.7l7.4 7.4M208 571.1l7.4 -7.4M212.4 563.6l7.4 7.4M212.4 571l7.4 -7.4M212.4 560.8l7.4 7.4M212.4 568.2l7.4 -7.4M212.4 563.5l7.4 7.4M212.4 570.9l7.4 -7.4M216.8 560l7.4 7.4M216.8 567.4l7.4 -7.4M216.8 559.4l7.4 7.4M216.8 566.8l7.4 -7.4M216.8 560.3l7.4 7.4M216.8 567.7l7.4 -7.4M221.2 563l7.4 7.4M221.2 570.4l7.4 -7.4M221.2 563.2l7.4 7.4M221.2 570.6l7.4 -7.4M221.2 562.8l7.4 7.4M221.2 570.2l7.4 -7.4M225.6 564.7l7.4 7.4M225.6 572.1l7.4 -7.4M225.6 560l7.4 7.4M225.6 567.4l7.4 -7.4M225.6 565.6l7.4 7.4M225.6 573l7.4 -7.4M230 562.4l7.4 7.4M230 569.8l7.4 -7.4M230 564l7.4 7.4M230 571.4l7.4 -7.4M230 564.5l7.4 7.4M230 571.9l7.4 -7.4M234.4 564.1l7.4 7.4M234.4 571.5l7.4 -7.4M234.4 563.7l7.4 7.4M234.4 571.1l7.4 -7.4M234.4 564.4l7.4 7.4M234.4 571.8l7.4 -7.4M238.8 567.5l7.4 7.4M238.8 574.9l7.4 -7.4M238.8 568.8l7.4 7.4M238.8 576.2l7.4 -7.4M238.8 568.7l7.4 7.4M238.8 576.1l7.4 -7.4M243.2 566.5l7.4 7.4M243.2 573.9l7.4 -7.4M243.2 566.9l7.4 7.4M243.2 574.3l7.4 -7.4M243.2 566.6l7.4 7.4M243.2 574l7.4 -7.4M247.6 570.2l7.4 7.4M247.6 577.6l7.4 -7.4M247.6 565.3l7.4 7.4M247.6 572.7l7.4 -7.4M247.6 571.8l7.4 7.4M247.6 579.2l7.4 -7.4M252 566.6l7.4 7.4M252 574l7.4 -7.4M252 566l7.4 7.4M252 573.4l7.4 -7.4M252 568.2l7.4 7.4M252 575.6l7.4 -7.4M256.4 566.6l7.4 7.4M256.4 574l7.4 -7.4M256.4 565.3l7.4 7.4M256.4 572.7l7.4 -7.4M256.4 566.7l7.4 7.4M256.4 574.1l7.4 -7.4M260.8 563.1l7.4 7.4M260.8 570.5l7.4 -7.4M260.8 565.2l7.4 7.4M260.8 572.6l7.4 -7.4M260.8 565.3l7.4 7.4M260.8 572.7l7.4 -7.4M265.2 560.3l7.4 7.4M265.2 567.7l7.4 -7.4M265.2 563.2l7.4 7.4M265.2 570.6l7.4 -7.4M265.2 560.8l7.4 7.4M265.2 568.2l7.4 -7.4M269.6 557.6l7.4 7.4M269.6 565l7.4 -7.4M269.6 555.8l7.4 7.4M269.6 563.2l7.4 -7.4M269.6 556.9l7.4 7.4M269.6 564.3l7.4 -7.4M274 556.8l7.4 7.4M274 564.2l7.4 -7.4M274 553l7.4 7.4M274 560.4l7.4 -7.4M274 556.5l7.4 7.4M274 563.9l7.4 -7.4M278.4 554.5l7.4 7.4M278.4 561.9l7.4 -7.4M278.4 554.4l7.4 7.4M278.4 561.8l7.4 -7.4M278.4 549.9l7.4 7.4M278.4 557.3l7.4 -7.4M282.8 552.4l7.4 7.4M282.8 559.8l7.4 -7.4M282.8 553.7l7.4 7.4M282.8 561.1l7.4 -7.4M282.8 551.2l7.4 7.4M282.8 558.6l7.4 -7.4M287.2 551.5l7.4 7.4M287.2 558.9l7.4 -7.4M287.2 547.1l7.4 7.4M287.2 554.5l7.4 -7.4M287.2 552.5l7.4 7.4M287.2 559.9l7.4 -7.4M291.6 548.9l7.4 7.4M291.6 556.3l7.4 -7.4M291.6 551.6l7.4 7.4M291.6 559l7.4 -7.4M291.6 546.9l7.4 7.4M291.6 554.3l7.4 -7.4M296 550.1l7.4 7.4M296 557.5l7.4 -7.4M296 548.5l7.4 7.4M296 555.9l7.4 -7.4M296 550.3l7.4 7.4M296 557.7l7.4 -7.4M300.4 546.9l7.4 7.4M300.4 554.3l7.4 -7.4M300.4 547.5l7.4 7.4M300.4 554.9l7.4 -7.4M300.4 552.3l7.4 7.4M300.4 559.7l7.4 -7.4M304.8 546.8l7.4 7.4M304.8 554.2l7.4 -7.4M304.8 547l7.4 7.4M304.8 554.4l7.4 -7.4M304.8 547.7l7.4 7.4M304.8 555.1l7.4 -7.4M309.2 546.1l7.4 7.4M309.2 553.5l7.4 -7.4M309.2 549.9l7.4 7.4M309.2 557.3l7.4 -7.4M309.2 550.8l7.4 7.4M309.2 558.2l7.4 -7.4M313.6 546.5l7.4 7.4M313.6 553.9l7.4 -7.4M313.6 544.8l7.4 7.4M313.6 552.2l7.4 -7.4M313.6 549.7l7.4 7.4M313.6 557.1l7.4 -7.4M318 549.5l7.4 7.4M318 556.9l7.4 -7.4M318 549l7.4 7.4M318 556.4l7.4 -7.4M318 549.6l7.4 7.4M318 557l7.4 -7.4M322.4 546l7.4 7.4M322.4 553.4l7.4 -7.4M322.4 547.2l7.4 7.4M322.4 554.6l7.4 -7.4M322.4 545.1l7.4 7.4M322.4 552.5l7.4 -7.4M326.8 544.9l7.4 7.4M326.8 552.3l7.4 -7.4M326.8 549l7.4 7.4M326.8 556.4l7.4 -7.4M326.8 546.2l7.4 7.4M326.8 553.6l7.4 -7.4M331.2 551.1l7.4 7.4M331.2 558.5l7.4 -7.4M331.2 547.3l7.4 7.4M331.2 554.7l7.4 -7.4M331.2 546.1l7.4 7.4M331.2 553.5l7.4 -7.4M335.6 548.5l7.4 7.4M335.6 555.9l7.4 -7.4M335.6 550.2l7.4 7.4M335.6 557.6l7.4 -7.4M335.6 547.9l7.4 7.4M335.6 555.3l7.4 -7.4M340 544.9l7.4 7.4M340 552.3l7.4 -7.4M340 547.6l7.4 7.4M340 555l7.4 -7.4M340 549.3l7.4 7.4M340 556.7l7.4 -7.4M344.4 546.1l7.4 7.4M344.4 553.5l7.4 -7.4M344.4 545.6l7.4 7.4M344.4 553l7.4 -7.4M344.4 548.6l7.4 7.4M344.4 556l7.4 -7.4M348.8 547l7.4 7.4M348.8 554.4l7.4 -7.4M348.8 544.9l7.4 7.4M348.8 552.3l7.4 -7.4M348.8 546.2l7.4 7.4M348.8 553.6l7.4 -7.4M353.2 545.4l7.4 7.4M353.2 552.8l7.4 -7.4M353.2 547.2l7.4 7.4M353.2 554.6l7.4 -7.4M353.2 546.9l7.4 7.4M353.2 554.3l7.4 -7.4M357.6 548.6l7.4 7.4M357.6 556l7.4 -7.4M357.6 547.8l7.4 7.4M357.6 555.2l7.4 -7.4M357.6 544l7.4 7.4M357.6 551.4l7.4 -7.4M362 547.2l7.4 7.4M362 554.6l7.4 -7.4M362 548.1l7.4 7.4M362 555.5l7.4 -7.4M362 547.3l7.4 7.4M362 554.7l7.4 -7.4M366.3 548.2l7.4 7.4M366.3 555.6l7.4 -7.4M366.3 545.5l7.4 7.4M366.3 552.9l7.4 -7.4M366.3 544.8l7.4 7.4M366.3 552.2l7.4 -7.4M370.7 548l7.4 7.4M370.7 555.4l7.4 -7.4M370.7 544.6l7.4 7.4M370.7 552l7.4 -7.4M370.7 542.8l7.4 7.4M370.7 550.2l7.4 -7.4M375.1 548.3l7.4 7.4M375.1 555.7l7.4 -7.4M375.1 545.3l7.4 7.4M375.1 552.7l7.4 -7.4M375.1 546l7.4 7.4M375.1 553.4l7.4 -7.4M379.5 544.3l7.4 7.4M379.5 551.7l7.4 -7.4M379.5 544.4l7.4 7.4M379.5 551.8l7.4 -7.4M379.5 544.7l7.4 7.4M379.5 552.1l7.4 -7.4M383.9 546.1l7.4 7.4M383.9 553.5l7.4 -7.4M383.9 547.3l7.4 7.4M383.9 554.7l7.4 -7.4M383.9 542.8l7.4 7.4M383.9 550.2l7.4 -7.4M388.3 548.1l7.4 7.4M388.3 555.5l7.4 -7.4M388.3 544.8l7.4 7.4M388.3 552.2l7.4 -7.4M388.3 545l7.4 7.4M388.3 552.4l7.4 -7.4M392.7 548.1l7.4 7.4M392.7 555.5l7.4 -7.4M392.7 546.8l7.4 7.4M392.7 554.2l7.4 -7.4M392.7 544.3l7.4 7.4M392.7 551.7l7.4 -7.4M397.1 550.1l7.4 7.4M397.1 557.5l7.4 -7.4M397.1 545.5l7.4 7.4M397.1 552.9l7.4 -7.4M397.1 547.4l7.4 7.4M397.1 554.8l7.4 -7.4M401.5 547.9l7.4 7.4M401.5 555.3l7.4 -7.4M401.5 550l7.4 7.4M401.5 557.4l7.4 -7.4M401.5 546.8l7.4 7.4M401.5 554.2l7.4 -7.4M405.9 549.9l7.4 7.4M405.9 557.3l7.4 -7.4M405.9 547l7.4 7.4M405.9 554.4l7.4 -7.4M405.9 550.1l7.4 7.4M405.9 557.5l7.4 -7.4M410.3 547.6l7.4 7.4M410.3 555l7.4 -7.4M410.3 548.2l7.4 7.4M410.3 555.6l7.4 -7.4M410.3 552.1l7.4 7.4M410.3 559.5l7.4 -7.4M414.7 550l7.4 7.4M414.7 557.4l7.4 -7.4M414.7 549.7l7.4 7.4M414.7 557.1l7.4 -7.4M414.7 553.3l7.4 7.4M414.7 560.7l7.4 -7.4M419.1 550.8l7.4 7.4M419.1 558.2l7.4 -7.4M419.1 548.8l7.4 7.4M419.1 556.2l7.4 -7.4M419.1 551.4l7.4 7.4M419.1 558.8l7.4 -7.4M423.5 548.8l7.4 7.4M423.5 556.2l7.4 -7.4M423.5 552.7l7.4 7.4M423.5 560.1l7.4 -7.4M423.5 552.9l7.4 7.4M423.5 560.3l7.4 -7.4M427.9 550.5l7.4 7.4M427.9 557.9l7.4 -7.4M427.9 550.4l7.4 7.4M427.9 557.8l7.4 -7.4M427.9 551.8l7.4 7.4M427.9 559.2l7.4 -7.4M432.3 552.4l7.4 7.4M432.3 559.8l7.4 -7.4M432.3 550.7l7.4 7.4M432.3 558.1l7.4 -7.4M432.3 553.3l7.4 7.4M432.3 560.7l7.4 -7.4M436.7 549.7l7.4 7.4M436.7 557.1l7.4 -7.4M436.7 552.4l7.4 7.4M436.7 559.8l7.4 -7.4M436.7 552.5l7.4 7.4M436.7 559.9l7.4 -7.4M441.1 553.6l7.4 7.4M441.1 561l7.4 -7.4M441.1 554.5l7.4 7.4M441.1 561.9l7.4 -7.4M441.1 551.9l7.4 7.4M441.1 559.3l7.4 -7.4M445.5 555.9l7.4 7.4M445.5 563.3l7.4 -7.4M445.5 554.5l7.4 7.4M445.5 561.9l7.4 -7.4M445.5 553.7l7.4 7.4M445.5 561.1l7.4 -7.4M449.9 554.1l7.4 7.4M449.9 561.5l7.4 -7.4M449.9 554.4l7.4 7.4M449.9 561.8l7.4 -7.4M449.9 557.1l7.4 7.4M449.9 564.5l7.4 -7.4M454.3 556.6l7.4 7.4M454.3 564l7.4 -7.4M454.3 558.3l7.4 7.4M454.3 565.7l7.4 -7.4M454.3 560l7.4 7.4M454.3 567.4l7.4 -7.4M458.7 561.7l7.4 7.4M458.7 569.1l7.4 -7.4M458.7 562.6l7.4 7.4M458.7 570l7.4 -7.4M458.7 559.4l7.4 7.4M458.7 566.8l7.4 -7.4M463.1 559.6l7.4 7.4M463.1 567l7.4 -7.4M463.1 563.2l7.4 7.4M463.1 570.6l7.4 -7.4M463.1 562l7.4 7.4M463.1 569.4l7.4 -7.4M467.5 564.9l7.4 7.4M467.5 572.3l7.4 -7.4M467.5 563l7.4 7.4M467.5 570.4l7.4 -7.4M467.5 565l7.4 7.4M467.5 572.4l7.4 -7.4M471.9 565.7l7.4 7.4M471.9 573.1l7.4 -7.4M471.9 565.5l7.4 7.4M471.9 572.9l7.4 -7.4M471.9 565.1l7.4 7.4M471.9 572.5l7.4 -7.4M476.3 566.1l7.4 7.4M476.3 573.5l7.4 -7.4M476.3 565.8l7.4 7.4M476.3 573.2l7.4 -7.4M476.3 565.8l7.4 7.4M476.3 573.2l7.4 -7.4M480.7 565.3l7.4 7.4M480.7 572.7l7.4 -7.4M480.7 562.7l7.4 7.4M480.7 570.1l7.4 -7.4M480.7 566.5l7.4 7.4M480.7 573.9l7.4 -7.4M485.1 562.7l7.4 7.4M485.1 570.1l7.4 -7.4M485.1 564.5l7.4 7.4M485.1 571.9l7.4 -7.4M485.1 562.7l7.4 7.4M485.1 570.1l7.4 -7.4M489.5 562l7.4 7.4M489.5 569.4l7.4 -7.4M489.5 565.8l7.4 7.4M489.5 573.2l7.4 -7.4M489.5 561.9l7.4 7.4M489.5 569.3l7.4 -7.4M493.9 559.6l7.4 7.4M493.9 567l7.4 -7.4M493.9 560.5l7.4 7.4M493.9 567.9l7.4 -7.4M493.9 561.2l7.4 7.4M493.9 568.6l7.4 -7.4M498.3 564.1l7.4 7.4M498.3 571.5l7.4 -7.4M498.3 560.8l7.4 7.4M498.3 568.2l7.4 -7.4M498.3 562l7.4 7.4M498.3 569.4l7.4 -7.4M502.7 557.4l7.4 7.4M502.7 564.8l7.4 -7.4M502.7 559.7l7.4 7.4M502.7 567.1l7.4 -7.4M502.7 560.2l7.4 7.4M502.7 567.6l7.4 -7.4M507.1 560.3l7.4 7.4M507.1 567.7l7.4 -7.4M507.1 556l7.4 7.4M507.1 563.4l7.4 -7.4M507.1 558.2l7.4 7.4M507.1 565.6l7.4 -7.4M511.5 555.4l7.4 7.4M511.5 562.8l7.4 -7.4M511.5 553.2l7.4 7.4M511.5 560.6l7.4 -7.4M511.5 554.9l7.4 7.4M511.5 562.3l7.4 -7.4M515.9 553.3l7.4 7.4M515.9 560.7l7.4 -7.4M515.9 549.8l7.4 7.4M515.9 557.2l7.4 -7.4M515.9 554.8l7.4 7.4M515.9 562.2l7.4 -7.4M520.3 553.7l7.4 7.4M520.3 561.1l7.4 -7.4M520.3 552l7.4 7.4M520.3 559.4l7.4 -7.4M520.3 550.5l7.4 7.4M520.3 557.9l7.4 -7.4M524.7 554.2l7.4 7.4M524.7 561.6l7.4 -7.4M524.7 552.1l7.4 7.4M524.7 559.5l7.4 -7.4M524.7 553.4l7.4 7.4M524.7 560.8l7.4 -7.4M529.1 552.3l7.4 7.4M529.1 559.7l7.4 -7.4M529.1 549l7.4 7.4M529.1 556.4l7.4 -7.4M529.1 551.3l7.4 7.4M529.1 558.7l7.4 -7.4M533.5 547.3l7.4 7.4M533.5 554.7l7.4 -7.4M533.5 547.6l7.4 7.4M533.5 555l7.4 -7.4M533.5 547.5l7.4 7.4M533.5 554.9l7.4 -7.4M537.9 545.5l7.4 7.4M537.9 552.9l7.4 -7.4M537.9 547.4l7.4 7.4M537.9 554.8l7.4 -7.4M537.9 545.7l7.4 7.4M537.9 553.1l7.4 -7.4M542.3 543.2l7.4 7.4M542.3 550.6l7.4 -7.4M542.3 543l7.4 7.4M542.3 550.4l7.4 -7.4M542.3 544l7.4 7.4M542.3 551.4l7.4 -7.4M546.7 539.8l7.4 7.4M546.7 547.2l7.4 -7.4M546.7 540.4l7.4 7.4M546.7 547.8l7.4 -7.4M546.7 541.2l7.4 7.4M546.7 548.6l7.4 -7.4M551.1 538.1l7.4 7.4M551.1 545.5l7.4 -7.4M551.1 538.9l7.4 7.4M551.1 546.3l7.4 -7.4M551.1 538.1l7.4 7.4M551.1 545.5l7.4 -7.4M555.5 540.3l7.4 7.4M555.5 547.7l7.4 -7.4M555.5 539.2l7.4 7.4M555.5 546.6l7.4 -7.4M555.5 537.7l7.4 7.4M555.5 545.1l7.4 -7.4M559.9 534.5l7.4 7.4M559.9 541.9l7.4 -7.4M559.9 538.5l7.4 7.4M559.9 545.9l7.4 -7.4M559.9 535.1l7.4 7.4M559.9 542.5l7.4 -7.4M564.3 531.7l7.4 7.4M564.3 539.1l7.4 -7.4M564.3 532.5l7.4 7.4M564.3 539.9l7.4 -7.4M564.3 532.5l7.4 7.4M564.3 539.9l7.4 -7.4M568.7 532.1l7.4 7.4M568.7 539.5l7.4 -7.4M568.7 529.2l7.4 7.4M568.7 536.6l7.4 -7.4M568.7 533.5l7.4 7.4M568.7 540.9l7.4 -7.4M573.1 524.7l7.4 7.4M573.1 532.1l7.4 -7.4M573.1 528.1l7.4 7.4M573.1 535.5l7.4 -7.4M573.1 524.4l7.4 7.4M573.1 531.8l7.4 -7.4M577.5 527.7l7.4 7.4M577.5 535.1l7.4 -7.4M577.5 522.8l7.4 7.4M577.5 530.2l7.4 -7.4M577.5 523.4l7.4 7.4M577.5 530.8l7.4 -7.4M581.9 522.7l7.4 7.4M581.9 530.1l7.4 -7.4M581.9 523.5l7.4 7.4M581.9 530.9l7.4 -7.4M581.9 517.8l7.4 7.4M581.9 525.2l7.4 -7.4M586.3 516.5l7.4 7.4M586.3 523.9l7.4 -7.4M586.3 513.8l7.4 7.4M586.3 521.2l7.4 -7.4M586.3 517.7l7.4 7.4M586.3 525.1l7.4 -7.4M590.7 513.4l7.4 7.4M590.7 520.8l7.4 -7.4M590.7 512.8l7.4 7.4M590.7 520.2l7.4 -7.4M590.7 511.9l7.4 7.4M590.7 519.3l7.4 -7.4M595.1 508.6l7.4 7.4M595.1 516l7.4 -7.4M595.1 507.6l7.4 7.4M595.1 515l7.4 -7.4M595.1 511.2l7.4 7.4M595.1 518.6l7.4 -7.4M599.5 510.1l7.4 7.4M599.5 517.5l7.4 -7.4M599.5 500.1l7.4 7.4M599.5 507.5l7.4 -7.4M599.5 505.4l7.4 7.4M599.5 512.8l7.4 -7.4M603.9 500.8l7.4 7.4M603.9 508.2l7.4 -7.4M603.9 503.6l7.4 7.4M603.9 511l7.4 -7.4M603.9 499.2l7.4 7.4M603.9 506.6l7.4 -7.4M608.3 498.5l7.4 7.4M608.3 505.9l7.4 -7.4M608.3 495.7l7.4 7.4M608.3 503.1l7.4 -7.4M608.3 501.2l7.4 7.4M608.3 508.6l7.4 -7.4M612.7 496.3l7.4 7.4M612.7 503.7l7.4 -7.4M612.7 495.4l7.4 7.4M612.7 502.8l7.4 -7.4M612.7 497.2l7.4 7.4M612.7 504.6l7.4 -7.4M617.1 491.9l7.4 7.4M617.1 499.3l7.4 -7.4M617.1 487.5l7.4 7.4M617.1 494.9l7.4 -7.4M617.1 494.8l7.4 7.4M617.1 502.2l7.4 -7.4M621.5 489.4l7.4 7.4M621.5 496.8l7.4 -7.4M621.5 487.8l7.4 7.4M621.5 495.2l7.4 -7.4M621.5 491.9l7.4 7.4M621.5 499.3l7.4 -7.4M625.9 488.5l7.4 7.4M625.9 495.9l7.4 -7.4M625.9 480l7.4 7.4M625.9 487.4l7.4 -7.4M625.9 481.1l7.4 7.4M625.9 488.5l7.4 -7.4M630.3 485.5l7.4 7.4M630.3 492.9l7.4 -7.4M630.3 485l7.4 7.4M630.3 492.4l7.4 -7.4M630.3 476.8l7.4 7.4M630.3 484.2l7.4 -7.4M634.7 470.1l7.4 7.4M634.7 477.5l7.4 -7.4M634.7 472.3l7.4 7.4M634.7 479.7l7.4 -7.4M634.7 472.8l7.4 7.4M634.7 480.2l7.4 -7.4M639.1 463.4l7.4 7.4M639.1 470.8l7.4 -7.4M639.1 470l7.4 7.4M639.1 477.4l7.4 -7.4M639.1 464.6l7.4 7.4M639.1 472l7.4 -7.4M643.5 460l7.4 7.4M643.5 467.4l7.4 -7.4M643.5 469l7.4 7.4M643.5 476.4l7.4 -7.4M643.5 462.2l7.4 7.4M643.5 469.6l7.4 -7.4M647.9 462.1l7.4 7.4M647.9 469.5l7.4 -7.4M647.9 465.2l7.4 7.4M647.9 472.6l7.4 -7.4M647.9 466l7.4 7.4M647.9 473.4l7.4 -7.4M652.3 458.3l7.4 7.4M652.3 465.7l7.4 -7.4M652.3 460l7.4 7.4M652.3 467.4l7.4 -7.4M652.3 456.1l7.4 7.4M652.3 463.5l7.4 -7.4" stroke="#58dc22" stroke-width="1.7" fill="none"/>
<polyline points="79.7,568.7 79.7,568.2 79.7,568.6 84.1,571.7 84.1,572.6 84.1,571.4 88.5,576.5 88.5,575.7 88.5,575 92.9,578.7 92.9,578.3 92.9,579.9 97.3,582 97.3,582.8 97.3,581.9 101.7,583.9 101.7,587 101.7,584.5 106.1,590.2 106.1,589.9 106.1,587.2 110.5,591.3 110.5,591.9 110.5,591.5 114.9,594.1 114.9,596.6 114.9,595.3 119.3,599.3 119.3,598.2 119.3,599.1 123.7,601.3 123.7,602.2 123.7,603 128.1,606.3 128.1,605.6 128.1,604.8 132.5,610.4 132.5,610.6 132.5,609.8 136.9,613.2 136.9,614.9 136.9,617.4 141.3,617.5 141.3,618.3 141.3,618.4 145.7,617.6 145.7,621.1 145.7,620 150.1,625.7 150.1,623.6 150.1,622.9 154.5,624.4 154.5,624.9 154.5,624 158.9,625.4 158.9,623.7 158.9,625.2 163.3,627.3 163.3,628.8 163.3,627.2 167.7,627.7 167.7,628.9 167.7,628.6 172.1,630.5 172.1,629.8 172.1,628.2 176.5,629.8 176.5,629.7 176.5,629.8 180.9,630.6 180.9,629.3 180.9,627.6 185.3,630.3 185.3,628.6 185.3,631.3 189.7,632.1 189.7,629.9 189.7,633 194.1,633.9 194.1,632.9 194.1,635 198.5,635.8 198.5,631.8 198.5,634.8 202.9,634.6 202.9,634.6 202.9,635.2 207.3,633.6 207.3,633.8 207.3,633.5 211.7,633.8 211.7,634.7 211.7,632.9 216.1,633.7 216.1,635.8 216.1,635 220.5,635.9 220.5,632.9 220.5,634.3 224.9,634.9 224.9,635.7 224.9,634.9 229.3,637.1 229.3,635.8 229.3,635.9 233.7,636.2 233.7,637.1 233.7,635.6 238.1,637.8 238.1,636.9 238.1,636.5 242.5,636.4 242.5,637 242.5,637.6 246.9,637.5 246.9,636.8 246.9,637.4 251.3,636.3 251.3,637.8 251.3,636.1 255.7,632.7 255.7,637.2 255.7,635.6 260.1,633.2 260.1,634.5 260.1,633.6 264.5,636.8 264.5,634.7 264.5,632 268.9,634 268.9,632.8 268.9,635.8 273.3,631.2 273.3,629.6 273.3,632.6 277.7,631.1 277.7,631.1 277.7,628.8 282.1,631.2 282.1,632.8 282.1,628.2 286.5,631.6 286.5,629.4 286.5,633.2 290.9,630.7 290.9,629.9 290.9,631.6 295.3,630.9 295.3,629.4 295.3,631.1 299.7,629.6 299.7,627.9 299.7,632.9 304.1,629.8 304.1,629.5 304.1,630.7 308.5,628.3 308.5,628.6 308.5,629.7 312.9,629.7 312.9,630.5 312.9,631.8 317.3,629.6 317.3,630.8 317.3,631 321.7,628.5 321.7,630.2 321.7,628.7 326.1,631 326.1,630.2 326.1,629.7 330.5,627.6 330.5,629.5 330.5,628.4 334.9,630 334.9,628.9 334.9,628 339.3,630 339.3,629.8 339.3,628.1 343.7,630.1 343.7,628.2 343.7,628.2 348.1,628.5 348.1,627.3 348.1,627.7 352.5,627.9 352.5,630 352.5,630 356.9,627.5 356.9,629.9 356.9,627.8 361.3,628.1 361.3,628.7 361.3,627.9 365.7,630.4 365.7,627.6 365.7,625.7 370,628.8 370,626.5 370,626.7 374.4,622.9 374.4,628.1 374.4,627.9 378.8,627.7 378.8,628 378.8,628.9 383.2,627.2 383.2,628.5 383.2,626.3 387.6,627.3 387.6,629.2 387.6,628.3 392,626.6 392,628.8 392,628.1 396.4,627.8 396.4,629.5 396.4,628.4 400.8,627.4 400.8,628 400.8,631.7 405.2,627.8 405.2,630.1 405.2,630.6 409.6,630.9 409.6,628.5 409.6,629.6 414,630.5 414,631.4 414,629.5 418.4,629.2 418.4,632 418.4,632.1 422.8,631.4 422.8,630.2 422.8,631.5 427.2,631.4 427.2,632.4 427.2,629.6 431.6,631.8 431.6,631.4 431.6,630.2 436,632.5 436,632.3 436,631.7 440.4,633.3 440.4,630.9 440.4,632.7 444.8,633.9 444.8,633.7 444.8,634.8 449.2,632.4 449.2,632 449.2,634.2 453.6,635.1 453.6,637.3 453.6,635.3 458,633.9 458,636.1 458,634 462.4,633.5 462.4,638.9 462.4,635.9 466.8,636.7 466.8,636.5 466.8,638.1 471.2,636.4 471.2,637.7 471.2,634.7 475.6,634.6 475.6,638.2 475.6,638.3 480,637.3 480,637 480,636.9 484.4,635.9 484.4,638.8 484.4,637.7 488.8,637.2 488.8,637 488.8,637.9 493.2,636.8 493.2,637.1 493.2,634.7 497.6,636.5 497.6,638.7 497.6,635.2 502,635.4 502,636.7 502,636.8 506.4,636 506.4,633.1 506.4,635.9 510.8,633.4 510.8,633.8 510.8,635.6 515.2,634.2 515.2,635.7 515.2,638.7 519.6,635.3 519.6,635.3 519.6,633.2 524,633.2 524,632.6 524,633.3 528.4,632.3 528.4,632.9 528.4,633.4 532.8,632.1 532.8,631.6 532.8,631.6 537.2,633 537.2,632.5 537.2,633.8 541.6,632.8 541.6,630.9 541.6,632.3 546,628.5 546,633.3 546,631.9 550.4,629.1 550.4,627.8 550.4,629.8 554.8,625.9 554.8,627.3 554.8,629.3 559.2,627.4 559.2,626.7 559.2,628.5 563.6,625 563.6,626.7 563.6,625.7 568,624.4 568,626.1 568,624.2 572.4,627.2 572.4,624 572.4,627.3 576.8,622.5 576.8,624.7 576.8,622.3 581.2,621.3 581.2,623.3 581.2,624 585.6,620.6 585.6,623.8 585.6,621.2 590,619.6 590,619.9 590,620.2 594.4,614.2 594.4,618.7 594.4,617.3 598.8,613.2 598.8,612.4 598.8,611.5 603.2,609.1 603.2,611.6 603.2,610.5 607.6,606.5 607.6,607.3 607.6,610 612,604.5 612,604.1 612,606.7 616.4,602.4 616.4,601.9 616.4,601 620.8,596.7 620.8,597.2 620.8,598.1 625.2,594 625.2,594.8 625.2,595 629.6,590.2 629.6,590.2 629.6,588.6 634,582.7 634,584.8 634,584.3 638.4,580.2 638.4,580.7 638.4,579.5 642.8,575.3 642.8,576.6 642.8,576.8 647.2,571.4 647.2,572.9 647.2,572 651.6,566.6 651.6,568 651.6,570.3 656,562.1 656,564.5 656,564.8" fill="none" stroke="#cc0000" stroke-width="3.8" stroke-linejoin="round" stroke-linecap="round" stroke-dasharray="0 7.1"/>
<polyline points="79.7,515.1 79.7,503.5 79.7,517.7 84.1,513.2 84.1,511.4 84.1,511.5 88.5,521 88.5,518.4 88.5,517.3 92.9,530.3 92.9,520.9 92.9,519.4 97.3,534.8 97.3,534.4 97.3,536.2 101.7,533.2 101.7,542.9 101.7,540.2 106.1,552.3 106.1,539.2 106.1,545.6 110.5,548.9 110.5,543.3 110.5,547.1 114.9,559.6 114.9,553 114.9,551.9 119.3,562 119.3,562.4 119.3,562.4 123.7,558.4 123.7,561.3 123.7,565.6 128.1,561.6 128.1,561.2 128.1,567.3 132.5,574.3 132.5,564.2 132.5,558.8 136.9,567.1 136.9,568.7 136.9,571.8 141.3,577 141.3,574.3 141.3,572.4 145.7,578 145.7,574.2 145.7,577.3 150.1,578 150.1,589 150.1,582.8 154.5,579.4 154.5,578.9 154.5,580.7 158.9,579 158.9,581.9 158.9,581.8 163.3,588.6 163.3,584.7 163.3,583.6 167.7,583.2 167.7,583.7 167.7,586.9 172.1,587.7 172.1,591.4 172.1,586.5 176.5,592.3 176.5,590.1 176.5,589.4 180.9,585.1 180.9,587 180.9,592.3 185.3,594.8 185.3,591.7 185.3,593.2 189.7,591 189.7,591.1 189.7,590.4 194.1,595.3 194.1,593.7 194.1,592.2 198.5,592.6 198.5,594.8 198.5,594.2 202.9,591.9 202.9,598.4 202.9,594.7 207.3,594.7 207.3,598.4 207.3,597.3 211.7,595.3 211.7,596.8 211.7,592.8 216.1,594.7 216.1,590.6 216.1,599.4 220.5,592.4 220.5,598.8 220.5,595 224.9,595.4 224.9,597.4 224.9,598.5 229.3,600.1 229.3,603 229.3,599.5 233.7,601.5 233.7,597.8 233.7,601 238.1,600.3 238.1,598.8 238.1,599.7 242.5,600.4 242.5,601 242.5,601.5 246.9,600 246.9,599.4 246.9,603.1 251.3,597.8 251.3,600.4 251.3,605.7 255.7,595.8 255.7,600.6 255.7,604 260.1,597 260.1,607.2 260.1,594.7 264.5,601.5 264.5,601.8 264.5,600.3 268.9,595.5 268.9,596.9 268.9,593.9 273.3,597 273.3,592.4 273.3,594.4 277.7,596.4 277.7,591.4 277.7,593.2 282.1,593.8 282.1,590.3 282.1,596.1 286.5,593.6 286.5,589.3 286.5,592.7 290.9,590.4 290.9,590.7 290.9,592.4 295.3,590.2 295.3,594.1 295.3,590.3 299.7,593.8 299.7,591.4 299.7,593.5 304.1,590.3 304.1,590.3 304.1,588.8 308.5,592.8 308.5,593.7 308.5,596.4 312.9,594.5 312.9,592.1 312.9,591 317.3,592.2 317.3,591.3 317.3,594.7 321.7,593.3 321.7,589.2 321.7,589.5 326.1,594.1 326.1,591.6 326.1,590.4 330.5,593.4 330.5,589.8 330.5,590.1 334.9,589.4 334.9,586 334.9,592.5 339.3,587.5 339.3,589 339.3,588.6 343.7,591.7 343.7,589.9 343.7,590.1 348.1,586 348.1,589.6 348.1,586.4 352.5,590.3 352.5,590.5 352.5,589.6 356.9,594.1 356.9,590.6 356.9,590.8 361.3,589.5 361.3,588.7 361.3,591.4 365.7,591.5 365.7,585.9 365.7,591.4 370,589.9 370,590.9 370,589.8 374.4,585.9 374.4,586 374.4,592.9 378.8,589.5 378.8,585.7 378.8,589.7 383.2,588.3 383.2,584.9 383.2,583.9 387.6,585.7 387.6,590 387.6,589.3 392,589 392,590.3 392,591 396.4,585 396.4,589.2 396.4,587.9 400.8,587.2 400.8,588.8 400.8,589.8 405.2,589.9 405.2,587.1 405.2,589.4 409.6,595.6 409.6,588.5 409.6,587 414,592 414,592.7 414,592.4 418.4,589.2 418.4,594.1 418.4,590 422.8,589.6 422.8,590.8 422.8,592 427.2,594.3 427.2,594.1 427.2,592.6 431.6,595.2 431.6,593.3 431.6,595.1 436,590.1 436,589.7 436,595.1 440.4,590.5 440.4,593 440.4,593.4 444.8,592.8 444.8,592.9 444.8,597.2 449.2,588.4 449.2,596.3 449.2,599.5 453.6,594.9 453.6,594.8 453.6,596.5 458,599.7 458,592.8 458,595.7 462.4,595.8 462.4,597.5 462.4,596.6 466.8,598.6 466.8,596.1 466.8,597.2 471.2,596.4 471.2,596.4 471.2,597.6 475.6,598.9 475.6,596.5 475.6,602.8 480,600.5 480,597.6 480,603.3 484.4,599.1 484.4,602 484.4,600.8 488.8,600.3 488.8,600.1 488.8,598.4 493.2,598.8 493.2,603.3 493.2,593.5 497.6,597.8 497.6,598.6 497.6,595.2 502,593.6 502,601.7 502,595.9 506.4,600.7 506.4,597.1 506.4,596.1 510.8,596.3 510.8,596.6 510.8,597.9 515.2,595.6 515.2,595 515.2,595 519.6,597.2 519.6,595.9 519.6,591.7 524,591.6 524,593.8 524,591.6 528.4,591.2 528.4,589.9 528.4,591.5 532.8,592 532.8,593.3 532.8,591.1 537.2,594.7 537.2,589.7 537.2,597.2 541.6,591.1 541.6,589.9 541.6,587.6 546,581.1 546,587.3 546,588 550.4,590.8 550.4,583.2 550.4,590.7 554.8,584.4 554.8,586.7 554.8,579.2 559.2,584 559.2,582.9 559.2,585.3 563.6,582.5 563.6,579.6 563.6,584.6 568,582.6 568,582.3 568,583.3 572.4,582.2 572.4,579.3 572.4,576 576.8,574.2 576.8,581.3 576.8,579.6 581.2,575.9 581.2,574.4 581.2,575.7 585.6,573.5 585.6,572.5 585.6,571.5 590,577.3 590,571.8 590,569.5 594.4,564.8 594.4,566.4 594.4,570.6 598.8,568.2 598.8,565.3 598.8,566.1 603.2,562.3 603.2,559.8 603.2,567.3 607.6,561.4 607.6,568.3 607.6,557.7 612,556.6 612,560.1 612,556.2 616.4,549.2 616.4,550.8 616.4,554.6 620.8,550.7 620.8,549.1 620.8,553.2 625.2,548.3 625.2,545.7 625.2,544.5 629.6,540.3 629.6,543.5 629.6,545 634,538 634,539.6 634,536.3 638.4,527.6 638.4,529.3 638.4,537.1 642.8,528.2 642.8,533.3 642.8,526.4 647.2,523.7 647.2,525.9 647.2,524.3 651.6,511.6 651.6,513.7 651.6,515.2 656,503.5 656,510.8 656,513.5" fill="none" stroke="#4ca6f5" stroke-width="2" stroke-linejoin="round" stroke-linecap="round" />
<path d="M75.9 515.1h7.6M79.7 511.3v7.6M75.9 503.5h7.6M79.7 499.7v7.6M75.9 517.7h7.6M79.7 513.9v7.6M80.3 513.2h7.6M84.1 509.4v7.6M80.3 511.4h7.6M84.1 507.6v7.6M80.3 511.5h7.6M84.1 507.7v7.6M84.7 521h7.6M88.5 517.2v7.6M84.7 518.4h7.6M88.5 514.6v7.6M84.7 517.3h7.6M88.5 513.5v7.6M89.1 530.3h7.6M92.9 526.5v7.6M89.1 520.9h7.6M92.9 517.1v7.6M89.1 519.4h7.6M92.9 515.6v7.6M93.5 534.8h7.6M97.3 531v7.6M93.5 534.4h7.6M97.3 530.6v7.6M93.5 536.2h7.6M97.3 532.4v7.6M97.9 533.2h7.6M101.7 529.4v7.6M97.9 542.9h7.6M101.7 539.1v7.6M97.9 540.2h7.6M101.7 536.4v7.6M102.3 552.3h7.6M106.1 548.5v7.6M102.3 539.2h7.6M106.1 535.4v7.6M102.3 545.6h7.6M106.1 541.8v7.6M106.7 548.9h7.6M110.5 545.1v7.6M106.7 543.3h7.6M110.5 539.5v7.6M106.7 547.1h7.6M110.5 543.3v7.6M111.1 559.6h7.6M114.9 555.8v7.6M111.1 553h7.6M114.9 549.2v7.6M111.1 551.9h7.6M114.9 548.1v7.6M115.5 562h7.6M119.3 558.2v7.6M115.5 562.4h7.6M119.3 558.6v7.6M115.5 562.4h7.6M119.3 558.6v7.6M119.9 558.4h7.6M123.7 554.6v7.6M119.9 561.3h7.6M123.7 557.5v7.6M119.9 565.6h7.6M123.7 561.8v7.6M124.3 561.6h7.6M128.1 557.8v7.6M124.3 561.2h7.6M128.1 557.4v7.6M124.3 567.3h7.6M128.1 563.5v7.6M128.7 574.3h7.6M132.5 570.5v7.6M128.7 564.2h7.6M132.5 560.4v7.6M128.7 558.8h7.6M132.5 555v7.6M133.1 567.1h7.6M136.9 563.3v7.6M133.1 568.7h7.6M136.9 564.9v7.6M133.1 571.8h7.6M136.9 568v7.6M137.5 577h7.6M141.3 573.2v7.6M137.5 574.3h7.6M141.3 570.5v7.6M137.5 572.4h7.6M141.3 568.6v7.6M141.9 578h7.6M145.7 574.2v7.6M141.9 574.2h7.6M145.7 570.4v7.6M141.9 577.3h7.6M145.7 573.5v7.6M146.3 578h7.6M150.1 574.2v7.6M146.3 589h7.6M150.1 585.2v7.6M146.3 582.8h7.6M150.1 579v7.6M150.7 579.4h7.6M154.5 575.6v7.6M150.7 578.9h7.6M154.5 575.1v7.6M150.7 580.7h7.6M154.5 576.9v7.6M155.1 579h7.6M158.9 575.2v7.6M155.1 581.9h7.6M158.9 578.1v7.6M155.1 581.8h7.6M158.9 578v7.6M159.5 588.6h7.6M163.3 584.8v7.6M159.5 584.7h7.6M163.3 580.9v7.6M159.5 583.6h7.6M163.3 579.8v7.6M163.9 583.2h7.6M167.7 579.4v7.6M163.9 583.7h7.6M167.7 579.9v7.6M163.9 586.9h7.6M167.7 583.1v7.6M168.3 587.7h7.6M172.1 583.9v7.6M168.3 591.4h7.6M172.1 587.6v7.6M168.3 586.5h7.6M172.1 582.7v7.6M172.7 592.3h7.6M176.5 588.5v7.6M172.7 590.1h7.6M176.5 586.3v7.6M172.7 589.4h7.6M176.5 585.6v7.6M177.1 585.1h7.6M180.9 581.3v7.6M177.1 587h7.6M180.9 583.2v7.6M177.1 592.3h7.6M180.9 588.5v7.6M181.5 594.8h7.6M185.3 591v7.6M181.5 591.7h7.6M185.3 587.9v7.6M181.5 593.2h7.6M185.3 589.4v7.6M185.9 591h7.6M189.7 587.2v7.6M185.9 591.1h7.6M189.7 587.3v7.6M185.9 590.4h7.6M189.7 586.6v7.6M190.3 595.3h7.6M194.1 591.5v7.6M190.3 593.7h7.6M194.1 589.9v7.6M190.3 592.2h7.6M194.1 588.4v7.6M194.7 592.6h7.6M198.5 588.8v7.6M194.7 594.8h7.6M198.5 591v7.6M194.7 594.2h7.6M198.5 590.4v7.6M199.1 591.9h7.6M202.9 588.1v7.6M199.1 598.4h7.6M202.9 594.6v7.6M199.1 594.7h7.6M202.9 590.9v7.6M203.5 594.7h7.6M207.3 590.9v7.6M203.5 598.4h7.6M207.3 594.6v7.6M203.5 597.3h7.6M207.3 593.5v7.6M207.9 595.3h7.6M211.7 591.5v7.6M207.9 596.8h7.6M211.7 593v7.6M207.9 592.8h7.6M211.7 589v7.6M212.3 594.7h7.6M216.1 590.9v7.6M212.3 590.6h7.6M216.1 586.8v7.6M212.3 599.4h7.6M216.1 595.6v7.6M216.7 592.4h7.6M220.5 588.6v7.6M216.7 598.8h7.6M220.5 595v7.6M216.7 595h7.6M220.5 591.2v7.6M221.1 595.4h7.6M224.9 591.6v7.6M221.1 597.4h7.6M224.9 593.6v7.6M221.1 598.5h7.6M224.9 594.7v7.6M225.5 600.1h7.6M229.3 596.3v7.6M225.5 603h7.6M229.3 599.2v7.6M225.5 599.5h7.6M229.3 595.7v7.6M229.9 601.5h7.6M233.7 597.7v7.6M229.9 597.8h7.6M233.7 594v7.6M229.9 601h7.6M233.7 597.2v7.6M234.3 600.3h7.6M238.1 596.5v7.6M234.3 598.8h7.6M238.1 595v7.6M234.3 599.7h7.6M238.1 595.9v7.6M238.7 600.4h7.6M242.5 596.6v7.6M238.7 601h7.6M242.5 597.2v7.6M238.7 601.5h7.6M242.5 597.7v7.6M243.1 600h7.6M246.9 596.2v7.6M243.1 599.4h7.6M246.9 595.6v7.6M243.1 603.1h7.6M246.9 599.3v7.6M247.5 597.8h7.6M251.3 594v7.6M247.5 600.4h7.6M251.3 596.6v7.6M247.5 605.7h7.6M251.3 601.9v7.6M251.9 595.8h7.6M255.7 592v7.6M251.9 600.6h7.6M255.7 596.8v7.6M251.9 604h7.6M255.7 600.2v7.6M256.3 597h7.6M260.1 593.2v7.6M256.3 607.2h7.6M260.1 603.4v7.6M256.3 594.7h7.6M260.1 590.9v7.6M260.7 601.5h7.6M264.5 597.7v7.6M260.7 601.8h7.6M264.5 598v7.6M260.7 600.3h7.6M264.5 596.5v7.6M265.1 595.5h7.6M268.9 591.7v7.6M265.1 596.9h7.6M268.9 593.1v7.6M265.1 593.9h7.6M268.9 590.1v7.6M269.5 597h7.6M273.3 593.2v7.6M269.5 592.4h7.6M273.3 588.6v7.6M269.5 594.4h7.6M273.3 590.6v7.6M273.9 596.4h7.6M277.7 592.6v7.6M273.9 591.4h7.6M277.7 587.6v7.6M273.9 593.2h7.6M277.7 589.4v7.6M278.3 593.8h7.6M282.1 590v7.6M278.3 590.3h7.6M282.1 586.5v7.6M278.3 596.1h7.6M282.1 592.3v7.6M282.7 593.6h7.6M286.5 589.8v7.6M282.7 589.3h7.6M286.5 585.5v7.6M282.7 592.7h7.6M286.5 588.9v7.6M287.1 590.4h7.6M290.9 586.6v7.6M287.1 590.7h7.6M290.9 586.9v7.6M287.1 592.4h7.6M290.9 588.6v7.6M291.5 590.2h7.6M295.3 586.4v7.6M291.5 594.1h7.6M295.3 590.3v7.6M291.5 590.3h7.6M295.3 586.5v7.6M295.9 593.8h7.6M299.7 590v7.6M295.9 591.4h7.6M299.7 587.6v7.6M295.9 593.5h7.6M299.7 589.7v7.6M300.3 590.3h7.6M304.1 586.5v7.6M300.3 590.3h7.6M304.1 586.5v7.6M300.3 588.8h7.6M304.1 585v7.6M304.7 592.8h7.6M308.5 589v7.6M304.7 593.7h7.6M308.5 589.9v7.6M304.7 596.4h7.6M308.5 592.6v7.6M309.1 594.5h7.6M312.9 590.7v7.6M309.1 592.1h7.6M312.9 588.3v7.6M309.1 591h7.6M312.9 587.2v7.6M313.5 592.2h7.6M317.3 588.4v7.6M313.5 591.3h7.6M317.3 587.5v7.6M313.5 594.7h7.6M317.3 590.9v7.6M317.9 593.3h7.6M321.7 589.5v7.6M317.9 589.2h7.6M321.7 585.4v7.6M317.9 589.5h7.6M321.7 585.7v7.6M322.3 594.1h7.6M326.1 590.3v7.6M322.3 591.6h7.6M326.1 587.8v7.6M322.3 590.4h7.6M326.1 586.6v7.6M326.7 593.4h7.6M330.5 589.6v7.6M326.7 589.8h7.6M330.5 586v7.6M326.7 590.1h7.6M330.5 586.3v7.6M331.1 589.4h7.6M334.9 585.6v7.6M331.1 586h7.6M334.9 582.2v7.6M331.1 592.5h7.6M334.9 588.7v7.6M335.5 587.5h7.6M339.3 583.7v7.6M335.5 589h7.6M339.3 585.2v7.6M335.5 588.6h7.6M339.3 584.8v7.6M339.9 591.7h7.6M343.7 587.9v7.6M339.9 589.9h7.6M343.7 586.1v7.6M339.9 590.1h7.6M343.7 586.3v7.6M344.3 586h7.6M348.1 582.2v7.6M344.3 589.6h7.6M348.1 585.8v7.6M344.3 586.4h7.6M348.1 582.6v7.6M348.7 590.3h7.6M352.5 586.5v7.6M348.7 590.5h7.6M352.5 586.7v7.6M348.7 589.6h7.6M352.5 585.8v7.6M353.1 594.1h7.6M356.9 590.3v7.6M353.1 590.6h7.6M356.9 586.8v7.6M353.1 590.8h7.6M356.9 587v7.6M357.5 589.5h7.6M361.3 585.7v7.6M357.5 588.7h7.6M361.3 584.9v7.6M357.5 591.4h7.6M361.3 587.6v7.6M361.9 591.5h7.6M365.7 587.7v7.6M361.9 585.9h7.6M365.7 582.1v7.6M361.9 591.4h7.6M365.7 587.6v7.6M366.2 589.9h7.6M370 586.1v7.6M366.2 590.9h7.6M370 587.1v7.6M366.2 589.8h7.6M370 586v7.6M370.6 585.9h7.6M374.4 582.1v7.6M370.6 586h7.6M374.4 582.2v7.6M370.6 592.9h7.6M374.4 589.1v7.6M375 589.5h7.6M378.8 585.7v7.6M375 585.7h7.6M378.8 581.9v7.6M375 589.7h7.6M378.8 585.9v7.6M379.4 588.3h7.6M383.2 584.5v7.6M379.4 584.9h7.6M383.2 581.1v7.6M379.4 583.9h7.6M383.2 580.1v7.6M383.8 585.7h7.6M387.6 581.9v7.6M383.8 590h7.6M387.6 586.2v7.6M383.8 589.3h7.6M387.6 585.5v7.6M388.2 589h7.6M392 585.2v7.6M388.2 590.3h7.6M392 586.5v7.6M388.2 591h7.6M392 587.2v7.6M392.6 585h7.6M396.4 581.2v7.6M392.6 589.2h7.6M396.4 585.4v7.6M392.6 587.9h7.6M396.4 584.1v7.6M397 587.2h7.6M400.8 583.4v7.6M397 588.8h7.6M400.8 585v7.6M397 589.8h7.6M400.8 586v7.6M401.4 589.9h7.6M405.2 586.1v7.6M401.4 587.1h7.6M405.2 583.3v7.6M401.4 589.4h7.6M405.2 585.6v7.6M405.8 595.6h7.6M409.6 591.8v7.6M405.8 588.5h7.6M409.6 584.7v7.6M405.8 587h7.6M409.6 583.2v7.6M410.2 592h7.6M414 588.2v7.6M410.2 592.7h7.6M414 588.9v7.6M410.2 592.4h7.6M414 588.6v7.6M414.6 589.2h7.6M418.4 585.4v7.6M414.6 594.1h7.6M418.4 590.3v7.6M414.6 590h7.6M418.4 586.2v7.6M419 589.6h7.6M422.8 585.8v7.6M419 590.8h7.6M422.8 587v7.6M419 592h7.6M422.8 588.2v7.6M423.4 594.3h7.6M427.2 590.5v7.6M423.4 594.1h7.6M427.2 590.3v7.6M423.4 592.6h7.6M427.2 588.8v7.6M427.8 595.2h7.6M431.6 591.4v7.6M427.8 593.3h7.6M431.6 589.5v7.6M427.8 595.1h7.6M431.6 591.3v7.6M432.2 590.1h7.6M436 586.3v7.6M432.2 589.7h7.6M436 585.9v7.6M432.2 595.1h7.6M436 591.3v7.6M436.6 590.5h7.6M440.4 586.7v7.6M436.6 593h7.6M440.4 589.2v7.6M436.6 593.4h7.6M440.4 589.6v7.6M441 592.8h7.6M444.8 589v7.6M441 592.9h7.6M444.8 589.1v7.6M441 597.2h7.6M444.8 593.4v7.6M445.4 588.4h7.6M449.2 584.6v7.6M445.4 596.3h7.6M449.2 592.5v7.6M445.4 599.5h7.6M449.2 595.7v7.6M449.8 594.9h7.6M453.6 591.1v7.6M449.8 594.8h7.6M453.6 591v7.6M449.8 596.5h7.6M453.6 592.7v7.6M454.2 599.7h7.6M458 595.9v7.6M454.2 592.8h7.6M458 589v7.6M454.2 595.7h7.6M458 591.9v7.6M458.6 595.8h7.6M462.4 592v7.6M458.6 597.5h7.6M462.4 593.7v7.6M458.6 596.6h7.6M462.4 592.8v7.6M463 598.6h7.6M466.8 594.8v7.6M463 596.1h7.6M466.8 592.3v7.6M463 597.2h7.6M466.8 593.4v7.6M467.4 596.4h7.6M471.2 592.6v7.6M467.4 596.4h7.6M471.2 592.6v7.6M467.4 597.6h7.6M471.2 593.8v7.6M471.8 598.9h7.6M475.6 595.1v7.6M471.8 596.5h7.6M475.6 592.7v7.6M471.8 602.8h7.6M475.6 599v7.6M476.2 600.5h7.6M480 596.7v7.6M476.2 597.6h7.6M480 593.8v7.6M476.2 603.3h7.6M480 599.5v7.6M480.6 599.1h7.6M484.4 595.3v7.6M480.6 602h7.6M484.4 598.2v7.6M480.6 600.8h7.6M484.4 597v7.6M485 600.3h7.6M488.8 596.5v7.6M485 600.1h7.6M488.8 596.3v7.6M485 598.4h7.6M488.8 594.6v7.6M489.4 598.8h7.6M493.2 595v7.6M489.4 603.3h7.6M493.2 599.5v7.6M489.4 593.5h7.6M493.2 589.7v7.6M493.8 597.8h7.6M497.6 594v7.6M493.8 598.6h7.6M497.6 594.8v7.6M493.8 595.2h7.6M497.6 591.4v7.6M498.2 593.6h7.6M502 589.8v7.6M498.2 601.7h7.6M502 597.9v7.6M498.2 595.9h7.6M502 592.1v7.6M502.6 600.7h7.6M506.4 596.9v7.6M502.6 597.1h7.6M506.4 593.3v7.6M502.6 596.1h7.6M506.4 592.3v7.6M507 596.3h7.6M510.8 592.5v7.6M507 596.6h7.6M510.8 592.8v7.6M507 597.9h7.6M510.8 594.1v7.6M511.4 595.6h7.6M515.2 591.8v7.6M511.4 595h7.6M515.2 591.2v7.6M511.4 595h7.6M515.2 591.2v7.6M515.8 597.2h7.6M519.6 593.4v7.6M515.8 595.9h7.6M519.6 592.1v7.6M515.8 591.7h7.6M519.6 587.9v7.6M520.2 591.6h7.6M524 587.8v7.6M520.2 593.8h7.6M524 590v7.6M520.2 591.6h7.6M524 587.8v7.6M524.6 591.2h7.6M528.4 587.4v7.6M524.6 589.9h7.6M528.4 586.1v7.6M524.6 591.5h7.6M528.4 587.7v7.6M529 592h7.6M532.8 588.2v7.6M529 593.3h7.6M532.8 589.5v7.6M529 591.1h7.6M532.8 587.3v7.6M533.4 594.7h7.6M537.2 590.9v7.6M533.4 589.7h7.6M537.2 585.9v7.6M533.4 597.2h7.6M537.2 593.4v7.6M537.8 591.1h7.6M541.6 587.3v7.6M537.8 589.9h7.6M541.6 586.1v7.6M537.8 587.6h7.6M541.6 583.8v7.6M542.2 581.1h7.6M546 577.3v7.6M542.2 587.3h7.6M546 583.5v7.6M542.2 588h7.6M546 584.2v7.6M546.6 590.8h7.6M550.4 587v7.6M546.6 583.2h7.6M550.4 579.4v7.6M546.6 590.7h7.6M550.4 586.9v7.6M551 584.4h7.6M554.8 580.6v7.6M551 586.7h7.6M554.8 582.9v7.6M551 579.2h7.6M554.8 575.4v7.6M555.4 584h7.6M559.2 580.2v7.6M555.4 582.9h7.6M559.2 579.1v7.6M555.4 585.3h7.6M559.2 581.5v7.6M559.8 582.5h7.6M563.6 578.7v7.6M559.8 579.6h7.6M563.6 575.8v7.6M559.8 584.6h7.6M563.6 580.8v7.6M564.2 582.6h7.6M568 578.8v7.6M564.2 582.3h7.6M568 578.5v7.6M564.2 583.3h7.6M568 579.5v7.6M568.6 582.2h7.6M572.4 578.4v7.6M568.6 579.3h7.6M572.4 575.5v7.6M568.6 576h7.6M572.4 572.2v7.6M573 574.2h7.6M576.8 570.4v7.6M573 581.3h7.6M576.8 577.5v7.6M573 579.6h7.6M576.8 575.8v7.6M577.4 575.9h7.6M581.2 572.1v7.6M577.4 574.4h7.6M581.2 570.6v7.6M577.4 575.7h7.6M581.2 571.9v7.6M581.8 573.5h7.6M585.6 569.7v7.6M581.8 572.5h7.6M585.6 568.7v7.6M581.8 571.5h7.6M585.6 567.7v7.6M586.2 577.3h7.6M590 573.5v7.6M586.2 571.8h7.6M590 568v7.6M586.2 569.5h7.6M590 565.7v7.6M590.6 564.8h7.6M594.4 561v7.6M590.6 566.4h7.6M594.4 562.6v7.6M590.6 570.6h7.6M594.4 566.8v7.6M595 568.2h7.6M598.8 564.4v7.6M595 565.3h7.6M598.8 561.5v7.6M595 566.1h7.6M598.8 562.3v7.6M599.4 562.3h7.6M603.2 558.5v7.6M599.4 559.8h7.6M603.2 556v7.6M599.4 567.3h7.6M603.2 563.5v7.6M603.8 561.4h7.6M607.6 557.6v7.6M603.8 568.3h7.6M607.6 564.5v7.6M603.8 557.7h7.6M607.6 553.9v7.6M608.2 556.6h7.6M612 552.8v7.6M608.2 560.1h7.6M612 556.3v7.6M608.2 556.2h7.6M612 552.4v7.6M612.6 549.2h7.6M616.4 545.4v7.6M612.6 550.8h7.6M616.4 547v7.6M612.6 554.6h7.6M616.4 550.8v7.6M617 550.7h7.6M620.8 546.9v7.6M617 549.1h7.6M620.8 545.3v7.6M617 553.2h7.6M620.8 549.4v7.6M621.4 548.3h7.6M625.2 544.5v7.6M621.4 545.7h7.6M625.2 541.9v7.6M621.4 544.5h7.6M625.2 540.7v7.6M625.8 540.3h7.6M629.6 536.5v7.6M625.8 543.5h7.6M629.6 539.7v7.6M625.8 545h7.6M629.6 541.2v7.6M630.2 538h7.6M634 534.2v7.6M630.2 539.6h7.6M634 535.8v7.6M630.2 536.3h7.6M634 532.5v7.6M634.6 527.6h7.6M638.4 523.8v7.6M634.6 529.3h7.6M638.4 525.5v7.6M634.6 537.1h7.6M638.4 533.3v7.6M639 528.2h7.6M642.8 524.4v7.6M639 533.3h7.6M642.8 529.5v7.6M639 526.4h7.6M642.8 522.6v7.6M643.4 523.7h7.6M647.2 519.9v7.6M643.4 525.9h7.6M647.2 522.1v7.6M643.4 524.3h7.6M647.2 520.5v7.6M647.8 511.6h7.6M651.6 507.8v7.6M647.8 513.7h7.6M651.6 509.9v7.6M647.8 515.2h7.6M651.6 511.4v7.6M652.2 503.5h7.6M656 499.7v7.6M652.2 510.8h7.6M656 507v7.6M652.2 513.5h7.6M656 509.7v7.6" stroke="#4ca6f5" stroke-width="2.0" fill="none"/>
<polyline points="79.7,463.3 84.1,463.3 88.5,463.3 92.9,463.3 97.3,463.3 101.7,463.3 106.1,463.3 110.5,463.3 114.9,463.3 119.3,463.3 123.7,463.3 128.1,463.3 132.5,463.3 136.9,463.3 141.3,463.3 145.7,463.3 150.1,463.3 154.5,463.3 158.9,463.3 163.3,463.3 167.7,463.3 172.1,463.3 176.5,463.3 180.9,463.3 185.3,463.3 189.7,463.3 194.1,463.3 198.5,463.3 202.9,463.3 207.3,463.3 211.7,463.3 216.1,463.3 220.5,463.3 224.9,463.3 229.3,463.3 233.7,463.3 238.1,463.3 242.5,463.3 246.9,463.3 251.3,463.3 255.7,463.3 260.1,463.3 264.5,463.3 268.9,463.3 273.3,463.3 277.7,463.3 282.1,463.3 286.5,463.3 290.9,463.3 295.3,463.3 299.7,463.3 304.1,463.3 308.5,463.3 312.9,463.3 317.3,463.3 321.7,463.3 326.1,463.3 330.5,463.3 334.9,463.3 339.3,463.3 343.7,463.3 348.1,463.3 352.5,463.3 356.9,463.3 361.3,463.3 365.7,463.3 370,463.3 374.4,463.3 378.8,463.3 383.2,463.3 387.6,463.3 392,463.3 396.4,463.3 400.8,463.3 405.2,463.3 409.6,463.3 414,463.3 418.4,463.3 422.8,463.3 427.2,463.3 431.6,463.3 436,463.3 440.4,463.3 444.8,463.3 449.2,463.3 453.6,463.3 458,463.3 462.4,463.3 466.8,463.3 471.2,463.3 475.6,463.3 480,463.3 484.4,463.3 488.8,463.3 493.2,463.3 497.6,463.3 502,463.3 506.4,463.3 510.8,463.3 515.2,463.3 519.6,463.3 524,463.3 528.4,463.3 532.8,463.3 537.2,463.3 541.6,463.3 546,463.3 550.4,463.3 554.8,463.3 559.2,463.3 563.6,463.3 568,463.3 572.4,463.3 576.8,463.3 581.2,463.3 585.6,463.3 590,463.3 594.4,463.3 598.8,463.3 603.2,463.3 607.6,463.3 612,463.3 616.4,463.3 620.8,463.3 625.2,463.3 629.6,463.3 634,463.3 638.4,463.3 642.8,463.3 647.2,463.3 651.6,463.3 656,463.3" fill="none" stroke="#ffb40a" stroke-width="3.6" stroke-linejoin="round" stroke-linecap="round" stroke-dasharray="8.6 13.3" stroke-linecap="round"/>
<path d="M108.9 654.6H158.9" stroke="#3c12ee" stroke-width="3.4" stroke-linecap="round"/>
<text x="165.3" y="660.6" class="lg">BFPC u = 4, 3 lanes</text>
<path d="M109.2 675.8H160.4" stroke="#cc0000" stroke-width="3.6" stroke-linecap="round" stroke-dasharray="0 7.05"/>
<text x="165.3" y="681.8" class="lg">BFPC u = 4, 5 lanes</text>
<path d="M109.2 696.6H158.6" stroke="#ffb40a" stroke-width="3.6" stroke-linecap="round" stroke-dasharray="7.6 13.4"/>
<text x="165.3" y="702.9" class="lg">JATB</text>
<path d="M393.3 655.2H444.5" stroke="#7ee05c" stroke-width="2"/>
<path d="M414.5 651.2l8 8M414.5 659.2l8 -8" stroke="#58dc22" stroke-width="1.8" fill="none"/>
<text x="450" y="660.8" class="lg">BFPC u = 10, 3 lanes</text>
<path d="M393.3 676H444.5" stroke="#6cb4f7" stroke-width="2"/>
<path d="M414.7 676h7.6M418.5 672.2v7.6" stroke="#4ca6f5" stroke-width="2.0" fill="none"/>
<text x="450" y="681.8" class="lg">BFPC u = 10, 5 lanes</text>
<path d="M83 1038.6H657.5M83 982.8H657.5M83 926.9H657.5M83 871.1H657.5M197.9 815.2V1094.5M312.8 815.2V1094.5M427.7 815.2V1094.5M542.6 815.2V1094.5" stroke="#d9d9d9" stroke-width="2" fill="none"/>
<rect x="83" y="815.2" width="574.5" height="279.3" fill="none" stroke="#000" stroke-width="2.3"/>
<text transform="translate(72.8 1101.9) scale(1 1.08)" text-anchor="end" class="t">0</text>
<text transform="translate(72.8 1046) scale(1 1.08)" text-anchor="end" class="t">0.2</text>
<text transform="translate(72.8 990.2) scale(1 1.08)" text-anchor="end" class="t">0.4</text>
<text transform="translate(72.8 934.3) scale(1 1.08)" text-anchor="end" class="t">0.6</text>
<text transform="translate(72.8 878.5) scale(1 1.08)" text-anchor="end" class="t">0.8</text>
<text transform="translate(72.8 822.6) scale(1 1.08)" text-anchor="end" class="t">1</text>
<text transform="translate(83 1118.3) scale(1 1.08)" text-anchor="middle" class="t">0</text>
<text transform="translate(197.9 1118.3) scale(1 1.08)" text-anchor="middle" class="t">200</text>
<text transform="translate(312.8 1118.3) scale(1 1.08)" text-anchor="middle" class="t">400</text>
<text transform="translate(427.7 1118.3) scale(1 1.08)" text-anchor="middle" class="t">600</text>
<text transform="translate(542.6 1118.3) scale(1 1.08)" text-anchor="middle" class="t">800</text>
<text transform="translate(657.5 1118.3) scale(1 1.08)" text-anchor="middle" class="t">1000</text>
<text transform="translate(25.2 960.3) rotate(-90)" text-anchor="middle" class="ty">CBR</text>
<text x="301.5" y="1148.9" class="ti">X-Position (m)</text>
<polyline points="83,991.6 83,991.6 87.4,992.3 87.4,992.4 91.8,988.3 91.8,992.9 96.2,990.3 96.2,989.7 100.5,986.2 100.5,987.1 104.9,983.9 104.9,985.8 109.3,982.8 109.3,984.5 113.7,983.8 113.7,983.1 118.1,979.3 118.1,978.8 122.5,975.4 122.5,973.5 126.9,976.3 126.9,972.7 131.2,974.1 131.2,974.8 135.6,969.3 135.6,972.2 140,967.1 140,973.6 144.4,969.4 144.4,969.1 148.8,961.8 148.8,966.7 153.2,967.9 153.2,965.7 157.6,958.1 157.6,962.7 161.9,963.5 161.9,957.6 166.3,957.2 166.3,961.5 170.7,958.2 170.7,959 175.1,951.6 175.1,958.3 179.5,956.4 179.5,954.8 183.9,955.2 183.9,952.5 188.3,954.8 188.3,957.4 192.6,954 192.6,955.9 197,953.1 197,951.5 201.4,950.9 201.4,951.1 205.8,952 205.8,951.6 210.2,951.4 210.2,951.4 214.6,949.4 214.6,951.4 219,950.8 219,952.2 223.3,948 223.3,949.5 227.7,951 227.7,950.6 232.1,950.1 232.1,949.8 236.5,947.9 236.5,951 240.9,947.5 240.9,949.1 245.3,945.8 245.3,955.4 249.6,947.6 249.6,949.4 254,948.9 254,951.5 258.4,949.1 258.4,950.3 262.8,949.3 262.8,948.3 267.2,953.1 267.2,949.5 271.6,949.9 271.6,948.6 276,953.4 276,950.8 280.3,945.3 280.3,949.9 284.7,951.9 284.7,951.4 289.1,950.8 289.1,954.6 293.5,953.9 293.5,953.5 297.9,953.4 297.9,954.5 302.3,950.9 302.3,957.4 306.7,953.2 306.7,951.9 311,952.5 311,955.2 315.4,953.9 315.4,952.6 319.8,954.3 319.8,953.8 324.2,953.1 324.2,951.4 328.6,953.4 328.6,959.5 333,958.9 333,954.7 337.4,957 337.4,957 341.7,949.5 341.7,956.6 346.1,953.9 346.1,954.5 350.5,957.1 350.5,955.8 354.9,955.3 354.9,956.4 359.3,955.5 359.3,953.7 363.7,956.6 363.7,958.6 368.1,955.7 368.1,957.3 372.4,953.8 372.4,957.1 376.8,956.5 376.8,954.9 381.2,955.7 381.2,953.7 385.6,955.5 385.6,955.5 390,954.1 390,956 394.4,953.1 394.4,953.6 398.8,953.5 398.8,954.9 403.1,952.5 403.1,948.8 407.5,953.7 407.5,954.6 411.9,954.9 411.9,952.6 416.3,953.2 416.3,955 420.7,952.6 420.7,954.7 425.1,954.3 425.1,955.4 429.5,952.2 429.5,954.3 433.8,952.7 433.8,957.4 438.2,954.5 438.2,957 442.6,951.3 442.6,954.4 447,954.9 447,952.5 451.4,948.7 451.4,956.4 455.8,955 455.8,950.7 460.2,949.9 460.2,953 464.5,950.6 464.5,948.5 468.9,950.2 468.9,952.1 473.3,953.4 473.3,951.5 477.7,953.8 477.7,951.9 482.1,948 482.1,951.9 486.5,947 486.5,947.9 490.9,948.1 490.9,948.4 495.2,950.2 495.2,948.4 499.6,946.8 499.6,942.5 504,948.6 504,947.9 508.4,950.9 508.4,951.4 512.8,952.5 512.8,950 517.2,950.3 517.2,952.9 521.5,952.9 521.5,951.9 525.9,954.5 525.9,951.9 530.3,951 530.3,953.9 534.7,956.7 534.7,952.7 539.1,958 539.1,957.6 543.5,955.8 543.5,953.9 547.9,956.2 547.9,953.6 552.2,958.6 552.2,954 556.6,959.4 556.6,958.7 561,959.1 561,961.4 565.4,957.2 565.4,962.8 569.8,961.9 569.8,963.6 574.2,956.7 574.2,956.7 578.6,964.3 578.6,967.7 582.9,967.1 582.9,962 587.3,969.5 587.3,969.1 591.7,972.8 591.7,970.5 596.1,975 596.1,972 600.5,976.3 600.5,971.9 604.9,975.8 604.9,980.9 609.3,978 609.3,974.2 613.6,984 613.6,975.8 618,982.5 618,978.7 622.4,975.5 622.4,979.2 626.8,982.2 626.8,984.8 631.2,983.9 631.2,990.7 635.6,981.7 635.6,989.8 640,986.9 640,987.7 644.3,989.5 644.3,989.5 648.7,992 648.7,991.2 653.1,991.9 653.1,985.8 657.5,990.5 657.5,995.4" fill="none" stroke="#3c12ee" stroke-width="3.8" stroke-linejoin="round" stroke-linecap="round" />
<polyline points="83,940.9 83,945.3 83,944.1 83,941.8 87.4,937.4 87.4,938.6 87.4,941.4 87.4,938.8 91.8,940.2 91.8,939.1 91.8,939 91.8,939.7 96.2,938 96.2,935.3 96.2,936.4 96.2,941.7 100.5,933.4 100.5,934.8 100.5,937.9 100.5,935.5 104.9,932 104.9,931 104.9,934.7 104.9,935.7 109.3,934.1 109.3,931.4 109.3,933.4 109.3,929.3 113.7,929.6 113.7,927.9 113.7,929.6 113.7,930.7 118.1,929.4 118.1,925.2 118.1,929.8 118.1,926.3 122.5,923.6 122.5,925.3 122.5,922.7 122.5,925.6 126.9,924.7 126.9,923.7 126.9,925.2 126.9,923.5 131.2,922.5 131.2,919.6 131.2,922.6 131.2,920.8 135.6,920 135.6,920.7 135.6,921.2 135.6,917.6 140,916.3 140,918.8 140,920.4 140,920.2 144.4,919.8 144.4,920.6 144.4,919 144.4,918 148.8,914 148.8,914.1 148.8,915.1 148.8,916.5 153.2,914.7 153.2,914.3 153.2,913.9 153.2,915.5 157.6,913.1 157.6,913.3 157.6,913.3 157.6,911.6 161.9,909.1 161.9,912.2 161.9,912 161.9,910.7 166.3,908.9 166.3,914.3 166.3,908.2 166.3,909.3 170.7,909.4 170.7,906.5 170.7,909.1 170.7,912.4 175.1,909.8 175.1,909.2 175.1,909.1 175.1,908.2 179.5,909 179.5,906.7 179.5,906.2 179.5,907.3 183.9,908 183.9,906.8 183.9,907.5 183.9,902.1 188.3,907.7 188.3,910 188.3,908 188.3,904.7 192.6,902.7 192.6,905 192.6,902.5 192.6,905.9 197,902.5 197,905.5 197,906.3 197,899.5 201.4,903.3 201.4,901.3 201.4,899.9 201.4,901.5 205.8,901.4 205.8,903.9 205.8,898.8 205.8,903.9 210.2,905 210.2,902.2 210.2,902.1 210.2,901 214.6,898 214.6,901.5 214.6,901.2 214.6,901.9 219,904.9 219,901.2 219,900.6 219,902.9 223.3,896.5 223.3,896.9 223.3,898.4 223.3,897.9 227.7,900.3 227.7,898.2 227.7,902.4 227.7,901.9 232.1,900.1 232.1,897.8 232.1,899.8 232.1,900.2 236.5,896.2 236.5,899 236.5,899.7 236.5,898.8 240.9,900.9 240.9,900.2 240.9,896.1 240.9,898 245.3,895.2 245.3,898 245.3,895.1 245.3,898.7 249.6,896.8 249.6,897.9 249.6,895.7 249.6,893.1 254,899 254,895.2 254,898.3 254,896.4 258.4,898 258.4,900.3 258.4,897.3 258.4,899.4 262.8,894.7 262.8,899.4 262.8,897.2 262.8,897.4 267.2,898.8 267.2,899.5 267.2,902.1 267.2,895.1 271.6,899.8 271.6,898.2 271.6,902 271.6,898.8 276,901 276,899.3 276,901.5 276,902.2 280.3,899.8 280.3,900.7 280.3,897.8 280.3,901.2 284.7,902.8 284.7,900 284.7,903.3 284.7,896.9 289.1,897.8 289.1,898.8 289.1,900.6 289.1,901.6 293.5,901.8 293.5,901.9 293.5,903.4 293.5,901.1 297.9,899.9 297.9,900 297.9,906.7 297.9,897.8 302.3,902.4 302.3,905.7 302.3,903.7 302.3,901.1 306.7,903 306.7,904.7 306.7,905.4 306.7,901.2 311,904.7 311,903.7 311,905.4 311,905.9 315.4,902.7 315.4,900.5 315.4,904.2 315.4,906.9 319.8,905 319.8,904 319.8,908.4 319.8,901.5 324.2,905.6 324.2,902.7 324.2,903.9 324.2,904 328.6,907 328.6,902.1 328.6,902.9 328.6,900.8 333,905.1 333,903.2 333,905 333,902 337.4,903.6 337.4,906.4 337.4,903.9 337.4,905.5 341.7,905.5 341.7,903.7 341.7,901.3 341.7,906.4 346.1,904.9 346.1,906.5 346.1,900.5 346.1,901.2 350.5,900.4 350.5,902.9 350.5,906.8 350.5,905.8 354.9,904.7 354.9,905.1 354.9,906.3 354.9,904.2 359.3,905.6 359.3,905.1 359.3,900.5 359.3,904.1 363.7,907.4 363.7,903.9 363.7,904.4 363.7,903.5 368.1,903.6 368.1,906.8 368.1,904 368.1,902.5 372.4,898.2 372.4,903.3 372.4,900.5 372.4,900.8 376.8,905.9 376.8,905.7 376.8,900.5 376.8,906 381.2,905.1 381.2,902.6 381.2,905.6 381.2,900.9 385.6,901.6 385.6,901.2 385.6,901.8 385.6,905.8 390,901 390,901.4 390,901.8 390,904.1 394.4,902.6 394.4,905 394.4,901.8 394.4,900.7 398.8,901.8 398.8,902.9 398.8,900.9 398.8,903.4 403.1,906 403.1,901.2 403.1,902.4 403.1,905.1 407.5,900.6 407.5,900.2 407.5,899.7 407.5,902.7 411.9,902.5 411.9,901.2 411.9,901.6 411.9,904 416.3,902.8 416.3,898.2 416.3,901 416.3,901.2 420.7,902 420.7,900.1 420.7,899.3 420.7,899.7 425.1,896.6 425.1,900.1 425.1,899 425.1,901.1 429.5,897.7 429.5,898.8 429.5,897.7 429.5,897.6 433.8,900.7 433.8,898.3 433.8,900.1 433.8,897 438.2,899 438.2,895.4 438.2,897.9 438.2,897.8 442.6,899.5 442.6,898.7 442.6,898 442.6,900.1 447,898.1 447,898.8 447,899.3 447,897.6 451.4,896.3 451.4,897.6 451.4,896.1 451.4,897.7 455.8,898.3 455.8,897.7 455.8,895.3 455.8,893.5 460.2,895.1 460.2,894.9 460.2,897.4 460.2,894.4 464.5,893.4 464.5,895.3 464.5,892.9 464.5,893.5 468.9,895.9 468.9,895.5 468.9,893.8 468.9,893.1 473.3,889.3 473.3,892.3 473.3,891.3 473.3,891.6 477.7,889.8 477.7,890.8 477.7,890.4 477.7,891.4 482.1,893.7 482.1,891.5 482.1,887.5 482.1,888.9 486.5,887.6 486.5,889.2 486.5,891.9 486.5,891.6 490.9,889.8 490.9,891.5 490.9,889.5 490.9,888.1 495.2,888.6 495.2,889.7 495.2,894.2 495.2,888.7 499.6,894.3 499.6,894.5 499.6,891.4 499.6,891.7 504,891 504,892.2 504,893.5 504,892.2 508.4,894.9 508.4,895.2 508.4,893.5 508.4,893.5 512.8,893.4 512.8,894.2 512.8,891.3 512.8,894.3 517.2,894.5 517.2,892.4 517.2,898.4 517.2,892.2 521.5,893.1 521.5,895.3 521.5,890.9 521.5,893.2 525.9,892.4 525.9,893.6 525.9,895.2 525.9,896.1 530.3,898.4 530.3,897.8 530.3,898.5 530.3,897.3 534.7,896.2 534.7,899.3 534.7,896.1 534.7,895.9 539.1,901.5 539.1,900 539.1,898.9 539.1,899.9 543.5,901.5 543.5,897 543.5,899.6 543.5,897.4 547.9,901.3 547.9,899.7 547.9,903.8 547.9,902.1 552.2,900.8 552.2,902.4 552.2,900 552.2,902.5 556.6,904.8 556.6,904.2 556.6,899.9 556.6,903 561,906 561,905.6 561,907.3 561,902.5 565.4,907.4 565.4,905.1 565.4,906.7 565.4,907.2 569.8,909 569.8,906.5 569.8,908 569.8,905.3 574.2,906.2 574.2,910.1 574.2,908.9 574.2,905.8 578.6,908.6 578.6,910.3 578.6,913.4 578.6,912.4 582.9,913.2 582.9,908 582.9,911.4 582.9,912.5 587.3,913.7 587.3,913.7 587.3,912.4 587.3,916.4 591.7,917.2 591.7,914 591.7,912.3 591.7,918.3 596.1,914.9 596.1,918.4 596.1,919.8 596.1,914.1 600.5,918.3 600.5,917.1 600.5,918.8 600.5,918.4 604.9,923.4 604.9,920.7 604.9,919.5 604.9,921.8 609.3,920.9 609.3,920.7 609.3,925.9 609.3,919.8 613.6,922.4 613.6,923.4 613.6,921.2 613.6,919.1 618,927.4 618,923.7 618,924.2 618,924.5 622.4,925.1 622.4,924.9 622.4,927.4 622.4,931.8 626.8,930.1 626.8,930.1 626.8,925.6 626.8,928.6 631.2,927.9 631.2,931.8 631.2,929.8 631.2,930.3 635.6,931.7 635.6,930.7 635.6,928.8 635.6,933 640,931.3 640,931.7 640,933.5 640,932.6 644.3,936.8 644.3,938.3 644.3,936.8 644.3,936.6 648.7,938.5 648.7,940.2 648.7,934.8 648.7,939.2 653.1,938.7 653.1,938.1 653.1,940.6 653.1,939.8 657.5,943.8 657.5,944.9 657.5,938 657.5,942.5" fill="none" stroke="#58dc22" stroke-width="2" stroke-linejoin="round" stroke-linecap="round" />
<path d="M79.3 937.2l7.4 7.4M79.3 944.6l7.4 -7.4M79.3 941.6l7.4 7.4M79.3 949l7.4 -7.4M79.3 940.4l7.4 7.4M79.3 947.8l7.4 -7.4M79.3 938.1l7.4 7.4M79.3 945.5l7.4 -7.4M83.7 933.7l7.4 7.4M83.7 941.1l7.4 -7.4M83.7 934.9l7.4 7.4M83.7 942.3l7.4 -7.4M83.7 937.7l7.4 7.4M83.7 945.1l7.4 -7.4M83.7 935.1l7.4 7.4M83.7 942.5l7.4 -7.4M88.1 936.5l7.4 7.4M88.1 943.9l7.4 -7.4M88.1 935.4l7.4 7.4M88.1 942.8l7.4 -7.4M88.1 935.3l7.4 7.4M88.1 942.7l7.4 -7.4M88.1 936l7.4 7.4M88.1 943.4l7.4 -7.4M92.5 934.3l7.4 7.4M92.5 941.7l7.4 -7.4M92.5 931.6l7.4 7.4M92.5 939l7.4 -7.4M92.5 932.7l7.4 7.4M92.5 940.1l7.4 -7.4M92.5 938l7.4 7.4M92.5 945.4l7.4 -7.4M96.8 929.7l7.4 7.4M96.8 937.1l7.4 -7.4M96.8 931.1l7.4 7.4M96.8 938.5l7.4 -7.4M96.8 934.2l7.4 7.4M96.8 941.6l7.4 -7.4M96.8 931.8l7.4 7.4M96.8 939.2l7.4 -7.4M101.2 928.3l7.4 7.4M101.2 935.7l7.4 -7.4M101.2 927.3l7.4 7.4M101.2 934.7l7.4 -7.4M101.2 931l7.4 7.4M101.2 938.4l7.4 -7.4M101.2 932l7.4 7.4M101.2 939.4l7.4 -7.4M105.6 930.4l7.4 7.4M105.6 937.8l7.4 -7.4M105.6 927.7l7.4 7.4M105.6 935.1l7.4 -7.4M105.6 929.7l7.4 7.4M105.6 937.1l7.4 -7.4M105.6 925.6l7.4 7.4M105.6 933l7.4 -7.4M110 925.9l7.4 7.4M110 933.3l7.4 -7.4M110 924.2l7.4 7.4M110 931.6l7.4 -7.4M110 925.9l7.4 7.4M110 933.3l7.4 -7.4M110 927l7.4 7.4M110 934.4l7.4 -7.4M114.4 925.7l7.4 7.4M114.4 933.1l7.4 -7.4M114.4 921.5l7.4 7.4M114.4 928.9l7.4 -7.4M114.4 926.1l7.4 7.4M114.4 933.5l7.4 -7.4M114.4 922.6l7.4 7.4M114.4 930l7.4 -7.4M118.8 919.9l7.4 7.4M118.8 927.3l7.4 -7.4M118.8 921.6l7.4 7.4M118.8 929l7.4 -7.4M118.8 919l7.4 7.4M118.8 926.4l7.4 -7.4M118.8 921.9l7.4 7.4M118.8 929.3l7.4 -7.4M123.2 921l7.4 7.4M123.2 928.4l7.4 -7.4M123.2 920l7.4 7.4M123.2 927.4l7.4 -7.4M123.2 921.5l7.4 7.4M123.2 928.9l7.4 -7.4M123.2 919.8l7.4 7.4M123.2 927.2l7.4 -7.4M127.5 918.8l7.4 7.4M127.5 926.2l7.4 -7.4M127.5 915.9l7.4 7.4M127.5 923.3l7.4 -7.4M127.5 918.9l7.4 7.4M127.5 926.3l7.4 -7.4M127.5 917.1l7.4 7.4M127.5 924.5l7.4 -7.4M131.9 916.3l7.4 7.4M131.9 923.7l7.4 -7.4M131.9 917l7.4 7.4M131.9 924.4l7.4 -7.4M131.9 917.5l7.4 7.4M131.9 924.9l7.4 -7.4M131.9 913.9l7.4 7.4M131.9 921.3l7.4 -7.4M136.3 912.6l7.4 7.4M136.3 920l7.4 -7.4M136.3 915.1l7.4 7.4M136.3 922.5l7.4 -7.4M136.3 916.7l7.4 7.4M136.3 924.1l7.4 -7.4M136.3 916.5l7.4 7.4M136.3 923.9l7.4 -7.4M140.7 916.1l7.4 7.4M140.7 923.5l7.4 -7.4M140.7 916.9l7.4 7.4M140.7 924.3l7.4 -7.4M140.7 915.3l7.4 7.4M140.7 922.7l7.4 -7.4M140.7 914.3l7.4 7.4M140.7 921.7l7.4 -7.4M145.1 910.3l7.4 7.4M145.1 917.7l7.4 -7.4M145.1 910.4l7.4 7.4M145.1 917.8l7.4 -7.4M145.1 911.4l7.4 7.4M145.1 918.8l7.4 -7.4M145.1 912.8l7.4 7.4M145.1 920.2l7.4 -7.4M149.5 911l7.4 7.4M149.5 918.4l7.4 -7.4M149.5 910.6l7.4 7.4M149.5 918l7.4 -7.4M149.5 910.2l7.4 7.4M149.5 917.6l7.4 -7.4M149.5 911.8l7.4 7.4M149.5 919.2l7.4 -7.4M153.9 909.4l7.4 7.4M153.9 916.8l7.4 -7.4M153.9 909.6l7.4 7.4M153.9 917l7.4 -7.4M153.9 909.6l7.4 7.4M153.9 917l7.4 -7.4M153.9 907.9l7.4 7.4M153.9 915.3l7.4 -7.4M158.2 905.4l7.4 7.4M158.2 912.8l7.4 -7.4M158.2 908.5l7.4 7.4M158.2 915.9l7.4 -7.4M158.2 908.3l7.4 7.4M158.2 915.7l7.4 -7.4M158.2 907l7.4 7.4M158.2 914.4l7.4 -7.4M162.6 905.2l7.4 7.4M162.6 912.6l7.4 -7.4M162.6 910.6l7.4 7.4M162.6 918l7.4 -7.4M162.6 904.5l7.4 7.4M162.6 911.9l7.4 -7.4M162.6 905.6l7.4 7.4M162.6 913l7.4 -7.4M167 905.7l7.4 7.4M167 913.1l7.4 -7.4M167 902.8l7.4 7.4M167 910.2l7.4 -7.4M167 905.4l7.4 7.4M167 912.8l7.4 -7.4M167 908.7l7.4 7.4M167 916.1l7.4 -7.4M171.4 906.1l7.4 7.4M171.4 913.5l7.4 -7.4M171.4 905.5l7.4 7.4M171.4 912.9l7.4 -7.4M171.4 905.4l7.4 7.4M171.4 912.8l7.4 -7.4M171.4 904.5l7.4 7.4M171.4 911.9l7.4 -7.4M175.8 905.3l7.4 7.4M175.8 912.7l7.4 -7.4M175.8 903l7.4 7.4M175.8 910.4l7.4 -7.4M175.8 902.5l7.4 7.4M175.8 909.9l7.4 -7.4M175.8 903.6l7.4 7.4M175.8 911l7.4 -7.4M180.2 904.3l7.4 7.4M180.2 911.7l7.4 -7.4M180.2 903.1l7.4 7.4M180.2 910.5l7.4 -7.4M180.2 903.8l7.4 7.4M180.2 911.2l7.4 -7.4M180.2 898.4l7.4 7.4M180.2 905.8l7.4 -7.4M184.6 904l7.4 7.4M184.6 911.4l7.4 -7.4M184.6 906.3l7.4 7.4M184.6 913.7l7.4 -7.4M184.6 904.3l7.4 7.4M184.6 911.7l7.4 -7.4M184.6 901l7.4 7.4M184.6 908.4l7.4 -7.4M188.9 899l7.4 7.4M188.9 906.4l7.4 -7.4M188.9 901.3l7.4 7.4M188.9 908.7l7.4 -7.4M188.9 898.8l7.4 7.4M188.9 906.2l7.4 -7.4M188.9 902.2l7.4 7.4M188.9 909.6l7.4 -7.4M193.3 898.8l7.4 7.4M193.3 906.2l7.4 -7.4M193.3 901.8l7.4 7.4M193.3 909.2l7.4 -7.4M193.3 902.6l7.4 7.4M193.3 910l7.4 -7.4M193.3 895.8l7.4 7.4M193.3 903.2l7.4 -7.4M197.7 899.6l7.4 7.4M197.7 907l7.4 -7.4M197.7 897.6l7.4 7.4M197.7 905l7.4 -7.4M197.7 896.2l7.4 7.4M197.7 903.6l7.4 -7.4M197.7 897.8l7.4 7.4M197.7 905.2l7.4 -7.4M202.1 897.7l7.4 7.4M202.1 905.1l7.4 -7.4M202.1 900.2l7.4 7.4M202.1 907.6l7.4 -7.4M202.1 895.1l7.4 7.4M202.1 902.5l7.4 -7.4M202.1 900.2l7.4 7.4M202.1 907.6l7.4 -7.4M206.5 901.3l7.4 7.4M206.5 908.7l7.4 -7.4M206.5 898.5l7.4 7.4M206.5 905.9l7.4 -7.4M206.5 898.4l7.4 7.4M206.5 905.8l7.4 -7.4M206.5 897.3l7.4 7.4M206.5 904.7l7.4 -7.4M210.9 894.3l7.4 7.4M210.9 901.7l7.4 -7.4M210.9 897.8l7.4 7.4M210.9 905.2l7.4 -7.4M210.9 897.5l7.4 7.4M210.9 904.9l7.4 -7.4M210.9 898.2l7.4 7.4M210.9 905.6l7.4 -7.4M215.3 901.2l7.4 7.4M215.3 908.6l7.4 -7.4M215.3 897.5l7.4 7.4M215.3 904.9l7.4 -7.4M215.3 896.9l7.4 7.4M215.3 904.3l7.4 -7.4M215.3 899.2l7.4 7.4M215.3 906.6l7.4 -7.4M219.6 892.8l7.4 7.4M219.6 900.2l7.4 -7.4M219.6 893.2l7.4 7.4M219.6 900.6l7.4 -7.4M219.6 894.7l7.4 7.4M219.6 902.1l7.4 -7.4M219.6 894.2l7.4 7.4M219.6 901.6l7.4 -7.4M224 896.6l7.4 7.4M224 904l7.4 -7.4M224 894.5l7.4 7.4M224 901.9l7.4 -7.4M224 898.7l7.4 7.4M224 906.1l7.4 -7.4M224 898.2l7.4 7.4M224 905.6l7.4 -7.4M228.4 896.4l7.4 7.4M228.4 903.8l7.4 -7.4M228.4 894.1l7.4 7.4M228.4 901.5l7.4 -7.4M228.4 896.1l7.4 7.4M228.4 903.5l7.4 -7.4M228.4 896.5l7.4 7.4M228.4 903.9l7.4 -7.4M232.8 892.5l7.4 7.4M232.8 899.9l7.4 -7.4M232.8 895.3l7.4 7.4M232.8 902.7l7.4 -7.4M232.8 896l7.4 7.4M232.8 903.4l7.4 -7.4M232.8 895.1l7.4 7.4M232.8 902.5l7.4 -7.4M237.2 897.2l7.4 7.4M237.2 904.6l7.4 -7.4M237.2 896.5l7.4 7.4M237.2 903.9l7.4 -7.4M237.2 892.4l7.4 7.4M237.2 899.8l7.4 -7.4M237.2 894.3l7.4 7.4M237.2 901.7l7.4 -7.4M241.6 891.5l7.4 7.4M241.6 898.9l7.4 -7.4M241.6 894.3l7.4 7.4M241.6 901.7l7.4 -7.4M241.6 891.4l7.4 7.4M241.6 898.8l7.4 -7.4M241.6 895l7.4 7.4M241.6 902.4l7.4 -7.4M245.9 893.1l7.4 7.4M245.9 900.5l7.4 -7.4M245.9 894.2l7.4 7.4M245.9 901.6l7.4 -7.4M245.9 892l7.4 7.4M245.9 899.4l7.4 -7.4M245.9 889.4l7.4 7.4M245.9 896.8l7.4 -7.4M250.3 895.3l7.4 7.4M250.3 902.7l7.4 -7.4M250.3 891.5l7.4 7.4M250.3 898.9l7.4 -7.4M250.3 894.6l7.4 7.4M250.3 902l7.4 -7.4M250.3 892.7l7.4 7.4M250.3 900.1l7.4 -7.4M254.7 894.3l7.4 7.4M254.7 901.7l7.4 -7.4M254.7 896.6l7.4 7.4M254.7 904l7.4 -7.4M254.7 893.6l7.4 7.4M254.7 901l7.4 -7.4M254.7 895.7l7.4 7.4M254.7 903.1l7.4 -7.4M259.1 891l7.4 7.4M259.1 898.4l7.4 -7.4M259.1 895.7l7.4 7.4M259.1 903.1l7.4 -7.4M259.1 893.5l7.4 7.4M259.1 900.9l7.4 -7.4M259.1 893.7l7.4 7.4M259.1 901.1l7.4 -7.4M263.5 895.1l7.4 7.4M263.5 902.5l7.4 -7.4M263.5 895.8l7.4 7.4M263.5 903.2l7.4 -7.4M263.5 898.4l7.4 7.4M263.5 905.8l7.4 -7.4M263.5 891.4l7.4 7.4M263.5 898.8l7.4 -7.4M267.9 896.1l7.4 7.4M267.9 903.5l7.4 -7.4M267.9 894.5l7.4 7.4M267.9 901.9l7.4 -7.4M267.9 898.3l7.4 7.4M267.9 905.7l7.4 -7.4M267.9 895.1l7.4 7.4M267.9 902.5l7.4 -7.4M272.3 897.3l7.4 7.4M272.3 904.7l7.4 -7.4M272.3 895.6l7.4 7.4M272.3 903l7.4 -7.4M272.3 897.8l7.4 7.4M272.3 905.2l7.4 -7.4M272.3 898.5l7.4 7.4M272.3 905.9l7.4 -7.4M276.6 896.1l7.4 7.4M276.6 903.5l7.4 -7.4M276.6 897l7.4 7.4M276.6 904.4l7.4 -7.4M276.6 894.1l7.4 7.4M276.6 901.5l7.4 -7.4M276.6 897.5l7.4 7.4M276.6 904.9l7.4 -7.4M281 899.1l7.4 7.4M281 906.5l7.4 -7.4M281 896.3l7.4 7.4M281 903.7l7.4 -7.4M281 899.6l7.4 7.4M281 907l7.4 -7.4M281 893.2l7.4 7.4M281 900.6l7.4 -7.4M285.4 894.1l7.4 7.4M285.4 901.5l7.4 -7.4M285.4 895.1l7.4 7.4M285.4 902.5l7.4 -7.4M285.4 896.9l7.4 7.4M285.4 904.3l7.4 -7.4M285.4 897.9l7.4 7.4M285.4 905.3l7.4 -7.4M289.8 898.1l7.4 7.4M289.8 905.5l7.4 -7.4M289.8 898.2l7.4 7.4M289.8 905.6l7.4 -7.4M289.8 899.7l7.4 7.4M289.8 907.1l7.4 -7.4M289.8 897.4l7.4 7.4M289.8 904.8l7.4 -7.4M294.2 896.2l7.4 7.4M294.2 903.6l7.4 -7.4M294.2 896.3l7.4 7.4M294.2 903.7l7.4 -7.4M294.2 903l7.4 7.4M294.2 910.4l7.4 -7.4M294.2 894.1l7.4 7.4M294.2 901.5l7.4 -7.4M298.6 898.7l7.4 7.4M298.6 906.1l7.4 -7.4M298.6 902l7.4 7.4M298.6 909.4l7.4 -7.4M298.6 900l7.4 7.4M298.6 907.4l7.4 -7.4M298.6 897.4l7.4 7.4M298.6 904.8l7.4 -7.4M303 899.3l7.4 7.4M303 906.7l7.4 -7.4M303 901l7.4 7.4M303 908.4l7.4 -7.4M303 901.7l7.4 7.4M303 909.1l7.4 -7.4M303 897.5l7.4 7.4M303 904.9l7.4 -7.4M307.3 901l7.4 7.4M307.3 908.4l7.4 -7.4M307.3 900l7.4 7.4M307.3 907.4l7.4 -7.4M307.3 901.7l7.4 7.4M307.3 909.1l7.4 -7.4M307.3 902.2l7.4 7.4M307.3 909.6l7.4 -7.4M311.7 899l7.4 7.4M311.7 906.4l7.4 -7.4M311.7 896.8l7.4 7.4M311.7 904.2l7.4 -7.4M311.7 900.5l7.4 7.4M311.7 907.9l7.4 -7.4M311.7 903.2l7.4 7.4M311.7 910.6l7.4 -7.4M316.1 901.3l7.4 7.4M316.1 908.7l7.4 -7.4M316.1 900.3l7.4 7.4M316.1 907.7l7.4 -7.4M316.1 904.7l7.4 7.4M316.1 912.1l7.4 -7.4M316.1 897.8l7.4 7.4M316.1 905.2l7.4 -7.4M320.5 901.9l7.4 7.4M320.5 909.3l7.4 -7.4M320.5 899l7.4 7.4M320.5 906.4l7.4 -7.4M320.5 900.2l7.4 7.4M320.5 907.6l7.4 -7.4M320.5 900.3l7.4 7.4M320.5 907.7l7.4 -7.4M324.9 903.3l7.4 7.4M324.9 910.7l7.4 -7.4M324.9 898.4l7.4 7.4M324.9 905.8l7.4 -7.4M324.9 899.2l7.4 7.4M324.9 906.6l7.4 -7.4M324.9 897.1l7.4 7.4M324.9 904.5l7.4 -7.4M329.3 901.4l7.4 7.4M329.3 908.8l7.4 -7.4M329.3 899.5l7.4 7.4M329.3 906.9l7.4 -7.4M329.3 901.3l7.4 7.4M329.3 908.7l7.4 -7.4M329.3 898.3l7.4 7.4M329.3 905.7l7.4 -7.4M333.7 899.9l7.4 7.4M333.7 907.3l7.4 -7.4M333.7 902.7l7.4 7.4M333.7 910.1l7.4 -7.4M333.7 900.2l7.4 7.4M333.7 907.6l7.4 -7.4M333.7 901.8l7.4 7.4M333.7 909.2l7.4 -7.4M338 901.8l7.4 7.4M338 909.2l7.4 -7.4M338 900l7.4 7.4M338 907.4l7.4 -7.4M338 897.6l7.4 7.4M338 905l7.4 -7.4M338 902.7l7.4 7.4M338 910.1l7.4 -7.4M342.4 901.2l7.4 7.4M342.4 908.6l7.4 -7.4M342.4 902.8l7.4 7.4M342.4 910.2l7.4 -7.4M342.4 896.8l7.4 7.4M342.4 904.2l7.4 -7.4M342.4 897.5l7.4 7.4M342.4 904.9l7.4 -7.4M346.8 896.7l7.4 7.4M346.8 904.1l7.4 -7.4M346.8 899.2l7.4 7.4M346.8 906.6l7.4 -7.4M346.8 903.1l7.4 7.4M346.8 910.5l7.4 -7.4M346.8 902.1l7.4 7.4M346.8 909.5l7.4 -7.4M351.2 901l7.4 7.4M351.2 908.4l7.4 -7.4M351.2 901.4l7.4 7.4M351.2 908.8l7.4 -7.4M351.2 902.6l7.4 7.4M351.2 910l7.4 -7.4M351.2 900.5l7.4 7.4M351.2 907.9l7.4 -7.4M355.6 901.9l7.4 7.4M355.6 909.3l7.4 -7.4M355.6 901.4l7.4 7.4M355.6 908.8l7.4 -7.4M355.6 896.8l7.4 7.4M355.6 904.2l7.4 -7.4M355.6 900.4l7.4 7.4M355.6 907.8l7.4 -7.4M360 903.7l7.4 7.4M360 911.1l7.4 -7.4M360 900.2l7.4 7.4M360 907.6l7.4 -7.4M360 900.7l7.4 7.4M360 908.1l7.4 -7.4M360 899.8l7.4 7.4M360 907.2l7.4 -7.4M364.4 899.9l7.4 7.4M364.4 907.3l7.4 -7.4M364.4 903.1l7.4 7.4M364.4 910.5l7.4 -7.4M364.4 900.3l7.4 7.4M364.4 907.7l7.4 -7.4M364.4 898.8l7.4 7.4M364.4 906.2l7.4 -7.4M368.7 894.5l7.4 7.4M368.7 901.9l7.4 -7.4M368.7 899.6l7.4 7.4M368.7 907l7.4 -7.4M368.7 896.8l7.4 7.4M368.7 904.2l7.4 -7.4M368.7 897.1l7.4 7.4M368.7 904.5l7.4 -7.4M373.1 902.2l7.4 7.4M373.1 909.6l7.4 -7.4M373.1 902l7.4 7.4M373.1 909.4l7.4 -7.4M373.1 896.8l7.4 7.4M373.1 904.2l7.4 -7.4M373.1 902.3l7.4 7.4M373.1 909.7l7.4 -7.4M377.5 901.4l7.4 7.4M377.5 908.8l7.4 -7.4M377.5 898.9l7.4 7.4M377.5 906.3l7.4 -7.4M377.5 901.9l7.4 7.4M377.5 909.3l7.4 -7.4M377.5 897.2l7.4 7.4M377.5 904.6l7.4 -7.4M381.9 897.9l7.4 7.4M381.9 905.3l7.4 -7.4M381.9 897.5l7.4 7.4M381.9 904.9l7.4 -7.4M381.9 898.1l7.4 7.4M381.9 905.5l7.4 -7.4M381.9 902.1l7.4 7.4M381.9 909.5l7.4 -7.4M386.3 897.3l7.4 7.4M386.3 904.7l7.4 -7.4M386.3 897.7l7.4 7.4M386.3 905.1l7.4 -7.4M386.3 898.1l7.4 7.4M386.3 905.5l7.4 -7.4M386.3 900.4l7.4 7.4M386.3 907.8l7.4 -7.4M390.7 898.9l7.4 7.4M390.7 906.3l7.4 -7.4M390.7 901.3l7.4 7.4M390.7 908.7l7.4 -7.4M390.7 898.1l7.4 7.4M390.7 905.5l7.4 -7.4M390.7 897l7.4 7.4M390.7 904.4l7.4 -7.4M395.1 898.1l7.4 7.4M395.1 905.5l7.4 -7.4M395.1 899.2l7.4 7.4M395.1 906.6l7.4 -7.4M395.1 897.2l7.4 7.4M395.1 904.6l7.4 -7.4M395.1 899.7l7.4 7.4M395.1 907.1l7.4 -7.4M399.4 902.3l7.4 7.4M399.4 909.7l7.4 -7.4M399.4 897.5l7.4 7.4M399.4 904.9l7.4 -7.4M399.4 898.7l7.4 7.4M399.4 906.1l7.4 -7.4M399.4 901.4l7.4 7.4M399.4 908.8l7.4 -7.4M403.8 896.9l7.4 7.4M403.8 904.3l7.4 -7.4M403.8 896.5l7.4 7.4M403.8 903.9l7.4 -7.4M403.8 896l7.4 7.4M403.8 903.4l7.4 -7.4M403.8 899l7.4 7.4M403.8 906.4l7.4 -7.4M408.2 898.8l7.4 7.4M408.2 906.2l7.4 -7.4M408.2 897.5l7.4 7.4M408.2 904.9l7.4 -7.4M408.2 897.9l7.4 7.4M408.2 905.3l7.4 -7.4M408.2 900.3l7.4 7.4M408.2 907.7l7.4 -7.4M412.6 899.1l7.4 7.4M412.6 906.5l7.4 -7.4M412.6 894.5l7.4 7.4M412.6 901.9l7.4 -7.4M412.6 897.3l7.4 7.4M412.6 904.7l7.4 -7.4M412.6 897.5l7.4 7.4M412.6 904.9l7.4 -7.4M417 898.3l7.4 7.4M417 905.7l7.4 -7.4M417 896.4l7.4 7.4M417 903.8l7.4 -7.4M417 895.6l7.4 7.4M417 903l7.4 -7.4M417 896l7.4 7.4M417 903.4l7.4 -7.4M421.4 892.9l7.4 7.4M421.4 900.3l7.4 -7.4M421.4 896.4l7.4 7.4M421.4 903.8l7.4 -7.4M421.4 895.3l7.4 7.4M421.4 902.7l7.4 -7.4M421.4 897.4l7.4 7.4M421.4 904.8l7.4 -7.4M425.8 894l7.4 7.4M425.8 901.4l7.4 -7.4M425.8 895.1l7.4 7.4M425.8 902.5l7.4 -7.4M425.8 894l7.4 7.4M425.8 901.4l7.4 -7.4M425.8 893.9l7.4 7.4M425.8 901.3l7.4 -7.4M430.1 897l7.4 7.4M430.1 904.4l7.4 -7.4M430.1 894.6l7.4 7.4M430.1 902l7.4 -7.4M430.1 896.4l7.4 7.4M430.1 903.8l7.4 -7.4M430.1 893.3l7.4 7.4M430.1 900.7l7.4 -7.4M434.5 895.3l7.4 7.4M434.5 902.7l7.4 -7.4M434.5 891.7l7.4 7.4M434.5 899.1l7.4 -7.4M434.5 894.2l7.4 7.4M434.5 901.6l7.4 -7.4M434.5 894.1l7.4 7.4M434.5 901.5l7.4 -7.4M438.9 895.8l7.4 7.4M438.9 903.2l7.4 -7.4M438.9 895l7.4 7.4M438.9 902.4l7.4 -7.4M438.9 894.3l7.4 7.4M438.9 901.7l7.4 -7.4M438.9 896.4l7.4 7.4M438.9 903.8l7.4 -7.4M443.3 894.4l7.4 7.4M443.3 901.8l7.4 -7.4M443.3 895.1l7.4 7.4M443.3 902.5l7.4 -7.4M443.3 895.6l7.4 7.4M443.3 903l7.4 -7.4M443.3 893.9l7.4 7.4M443.3 901.3l7.4 -7.4M447.7 892.6l7.4 7.4M447.7 900l7.4 -7.4M447.7 893.9l7.4 7.4M447.7 901.3l7.4 -7.4M447.7 892.4l7.4 7.4M447.7 899.8l7.4 -7.4M447.7 894l7.4 7.4M447.7 901.4l7.4 -7.4M452.1 894.6l7.4 7.4M452.1 902l7.4 -7.4M452.1 894l7.4 7.4M452.1 901.4l7.4 -7.4M452.1 891.6l7.4 7.4M452.1 899l7.4 -7.4M452.1 889.8l7.4 7.4M452.1 897.2l7.4 -7.4M456.5 891.4l7.4 7.4M456.5 898.8l7.4 -7.4M456.5 891.2l7.4 7.4M456.5 898.6l7.4 -7.4M456.5 893.7l7.4 7.4M456.5 901.1l7.4 -7.4M456.5 890.7l7.4 7.4M456.5 898.1l7.4 -7.4M460.8 889.7l7.4 7.4M460.8 897.1l7.4 -7.4M460.8 891.6l7.4 7.4M460.8 899l7.4 -7.4M460.8 889.2l7.4 7.4M460.8 896.6l7.4 -7.4M460.8 889.8l7.4 7.4M460.8 897.2l7.4 -7.4M465.2 892.2l7.4 7.4M465.2 899.6l7.4 -7.4M465.2 891.8l7.4 7.4M465.2 899.2l7.4 -7.4M465.2 890.1l7.4 7.4M465.2 897.5l7.4 -7.4M465.2 889.4l7.4 7.4M465.2 896.8l7.4 -7.4M469.6 885.6l7.4 7.4M469.6 893l7.4 -7.4M469.6 888.6l7.4 7.4M469.6 896l7.4 -7.4M469.6 887.6l7.4 7.4M469.6 895l7.4 -7.4M469.6 887.9l7.4 7.4M469.6 895.3l7.4 -7.4M474 886.1l7.4 7.4M474 893.5l7.4 -7.4M474 887.1l7.4 7.4M474 894.5l7.4 -7.4M474 886.7l7.4 7.4M474 894.1l7.4 -7.4M474 887.7l7.4 7.4M474 895.1l7.4 -7.4M478.4 890l7.4 7.4M478.4 897.4l7.4 -7.4M478.4 887.8l7.4 7.4M478.4 895.2l7.4 -7.4M478.4 883.8l7.4 7.4M478.4 891.2l7.4 -7.4M478.4 885.2l7.4 7.4M478.4 892.6l7.4 -7.4M482.8 883.9l7.4 7.4M482.8 891.3l7.4 -7.4M482.8 885.5l7.4 7.4M482.8 892.9l7.4 -7.4M482.8 888.2l7.4 7.4M482.8 895.6l7.4 -7.4M482.8 887.9l7.4 7.4M482.8 895.3l7.4 -7.4M487.2 886.1l7.4 7.4M487.2 893.5l7.4 -7.4M487.2 887.8l7.4 7.4M487.2 895.2l7.4 -7.4M487.2 885.8l7.4 7.4M487.2 893.2l7.4 -7.4M487.2 884.4l7.4 7.4M487.2 891.8l7.4 -7.4M491.5 884.9l7.4 7.4M491.5 892.3l7.4 -7.4M491.5 886l7.4 7.4M491.5 893.4l7.4 -7.4M491.5 890.5l7.4 7.4M491.5 897.9l7.4 -7.4M491.5 885l7.4 7.4M491.5 892.4l7.4 -7.4M495.9 890.6l7.4 7.4M495.9 898l7.4 -7.4M495.9 890.8l7.4 7.4M495.9 898.2l7.4 -7.4M495.9 887.7l7.4 7.4M495.9 895.1l7.4 -7.4M495.9 888l7.4 7.4M495.9 895.4l7.4 -7.4M500.3 887.3l7.4 7.4M500.3 894.7l7.4 -7.4M500.3 888.5l7.4 7.4M500.3 895.9l7.4 -7.4M500.3 889.8l7.4 7.4M500.3 897.2l7.4 -7.4M500.3 888.5l7.4 7.4M500.3 895.9l7.4 -7.4M504.7 891.2l7.4 7.4M504.7 898.6l7.4 -7.4M504.7 891.5l7.4 7.4M504.7 898.9l7.4 -7.4M504.7 889.8l7.4 7.4M504.7 897.2l7.4 -7.4M504.7 889.8l7.4 7.4M504.7 897.2l7.4 -7.4M509.1 889.7l7.4 7.4M509.1 897.1l7.4 -7.4M509.1 890.5l7.4 7.4M509.1 897.9l7.4 -7.4M509.1 887.6l7.4 7.4M509.1 895l7.4 -7.4M509.1 890.6l7.4 7.4M509.1 898l7.4 -7.4M513.5 890.8l7.4 7.4M513.5 898.2l7.4 -7.4M513.5 888.7l7.4 7.4M513.5 896.1l7.4 -7.4M513.5 894.7l7.4 7.4M513.5 902.1l7.4 -7.4M513.5 888.5l7.4 7.4M513.5 895.9l7.4 -7.4M517.8 889.4l7.4 7.4M517.8 896.8l7.4 -7.4M517.8 891.6l7.4 7.4M517.8 899l7.4 -7.4M517.8 887.2l7.4 7.4M517.8 894.6l7.4 -7.4M517.8 889.5l7.4 7.4M517.8 896.9l7.4 -7.4M522.2 888.7l7.4 7.4M522.2 896.1l7.4 -7.4M522.2 889.9l7.4 7.4M522.2 897.3l7.4 -7.4M522.2 891.5l7.4 7.4M522.2 898.9l7.4 -7.4M522.2 892.4l7.4 7.4M522.2 899.8l7.4 -7.4M526.6 894.7l7.4 7.4M526.6 902.1l7.4 -7.4M526.6 894.1l7.4 7.4M526.6 901.5l7.4 -7.4M526.6 894.8l7.4 7.4M526.6 902.2l7.4 -7.4M526.6 893.6l7.4 7.4M526.6 901l7.4 -7.4M531 892.5l7.4 7.4M531 899.9l7.4 -7.4M531 895.6l7.4 7.4M531 903l7.4 -7.4M531 892.4l7.4 7.4M531 899.8l7.4 -7.4M531 892.2l7.4 7.4M531 899.6l7.4 -7.4M535.4 897.8l7.4 7.4M535.4 905.2l7.4 -7.4M535.4 896.3l7.4 7.4M535.4 903.7l7.4 -7.4M535.4 895.2l7.4 7.4M535.4 902.6l7.4 -7.4M535.4 896.2l7.4 7.4M535.4 903.6l7.4 -7.4M539.8 897.8l7.4 7.4M539.8 905.2l7.4 -7.4M539.8 893.3l7.4 7.4M539.8 900.7l7.4 -7.4M539.8 895.9l7.4 7.4M539.8 903.3l7.4 -7.4M539.8 893.7l7.4 7.4M539.8 901.1l7.4 -7.4M544.2 897.6l7.4 7.4M544.2 905l7.4 -7.4M544.2 896l7.4 7.4M544.2 903.4l7.4 -7.4M544.2 900.1l7.4 7.4M544.2 907.5l7.4 -7.4M544.2 898.4l7.4 7.4M544.2 905.8l7.4 -7.4M548.5 897.1l7.4 7.4M548.5 904.5l7.4 -7.4M548.5 898.7l7.4 7.4M548.5 906.1l7.4 -7.4M548.5 896.3l7.4 7.4M548.5 903.7l7.4 -7.4M548.5 898.8l7.4 7.4M548.5 906.2l7.4 -7.4M552.9 901.1l7.4 7.4M552.9 908.5l7.4 -7.4M552.9 900.5l7.4 7.4M552.9 907.9l7.4 -7.4M552.9 896.2l7.4 7.4M552.9 903.6l7.4 -7.4M552.9 899.3l7.4 7.4M552.9 906.7l7.4 -7.4M557.3 902.3l7.4 7.4M557.3 909.7l7.4 -7.4M557.3 901.9l7.4 7.4M557.3 909.3l7.4 -7.4M557.3 903.6l7.4 7.4M557.3 911l7.4 -7.4M557.3 898.8l7.4 7.4M557.3 906.2l7.4 -7.4M561.7 903.7l7.4 7.4M561.7 911.1l7.4 -7.4M561.7 901.4l7.4 7.4M561.7 908.8l7.4 -7.4M561.7 903l7.4 7.4M561.7 910.4l7.4 -7.4M561.7 903.5l7.4 7.4M561.7 910.9l7.4 -7.4M566.1 905.3l7.4 7.4M566.1 912.7l7.4 -7.4M566.1 902.8l7.4 7.4M566.1 910.2l7.4 -7.4M566.1 904.3l7.4 7.4M566.1 911.7l7.4 -7.4M566.1 901.6l7.4 7.4M566.1 909l7.4 -7.4M570.5 902.5l7.4 7.4M570.5 909.9l7.4 -7.4M570.5 906.4l7.4 7.4M570.5 913.8l7.4 -7.4M570.5 905.2l7.4 7.4M570.5 912.6l7.4 -7.4M570.5 902.1l7.4 7.4M570.5 909.5l7.4 -7.4M574.9 904.9l7.4 7.4M574.9 912.3l7.4 -7.4M574.9 906.6l7.4 7.4M574.9 914l7.4 -7.4M574.9 909.7l7.4 7.4M574.9 917.1l7.4 -7.4M574.9 908.7l7.4 7.4M574.9 916.1l7.4 -7.4M579.2 909.5l7.4 7.4M579.2 916.9l7.4 -7.4M579.2 904.3l7.4 7.4M579.2 911.7l7.4 -7.4M579.2 907.7l7.4 7.4M579.2 915.1l7.4 -7.4M579.2 908.8l7.4 7.4M579.2 916.2l7.4 -7.4M583.6 910l7.4 7.4M583.6 917.4l7.4 -7.4M583.6 910l7.4 7.4M583.6 917.4l7.4 -7.4M583.6 908.7l7.4 7.4M583.6 916.1l7.4 -7.4M583.6 912.7l7.4 7.4M583.6 920.1l7.4 -7.4M588 913.5l7.4 7.4M588 920.9l7.4 -7.4M588 910.3l7.4 7.4M588 917.7l7.4 -7.4M588 908.6l7.4 7.4M588 916l7.4 -7.4M588 914.6l7.4 7.4M588 922l7.4 -7.4M592.4 911.2l7.4 7.4M592.4 918.6l7.4 -7.4M592.4 914.7l7.4 7.4M592.4 922.1l7.4 -7.4M592.4 916.1l7.4 7.4M592.4 923.5l7.4 -7.4M592.4 910.4l7.4 7.4M592.4 917.8l7.4 -7.4M596.8 914.6l7.4 7.4M596.8 922l7.4 -7.4M596.8 913.4l7.4 7.4M596.8 920.8l7.4 -7.4M596.8 915.1l7.4 7.4M596.8 922.5l7.4 -7.4M596.8 914.7l7.4 7.4M596.8 922.1l7.4 -7.4M601.2 919.7l7.4 7.4M601.2 927.1l7.4 -7.4M601.2 917l7.4 7.4M601.2 924.4l7.4 -7.4M601.2 915.8l7.4 7.4M601.2 923.2l7.4 -7.4M601.2 918.1l7.4 7.4M601.2 925.5l7.4 -7.4M605.6 917.2l7.4 7.4M605.6 924.6l7.4 -7.4M605.6 917l7.4 7.4M605.6 924.4l7.4 -7.4M605.6 922.2l7.4 7.4M605.6 929.6l7.4 -7.4M605.6 916.1l7.4 7.4M605.6 923.5l7.4 -7.4M609.9 918.7l7.4 7.4M609.9 926.1l7.4 -7.4M609.9 919.7l7.4 7.4M609.9 927.1l7.4 -7.4M609.9 917.5l7.4 7.4M609.9 924.9l7.4 -7.4M609.9 915.4l7.4 7.4M609.9 922.8l7.4 -7.4M614.3 923.7l7.4 7.4M614.3 931.1l7.4 -7.4M614.3 920l7.4 7.4M614.3 927.4l7.4 -7.4M614.3 920.5l7.4 7.4M614.3 927.9l7.4 -7.4M614.3 920.8l7.4 7.4M614.3 928.2l7.4 -7.4M618.7 921.4l7.4 7.4M618.7 928.8l7.4 -7.4M618.7 921.2l7.4 7.4M618.7 928.6l7.4 -7.4M618.7 923.7l7.4 7.4M618.7 931.1l7.4 -7.4M618.7 928.1l7.4 7.4M618.7 935.5l7.4 -7.4M623.1 926.4l7.4 7.4M623.1 933.8l7.4 -7.4M623.1 926.4l7.4 7.4M623.1 933.8l7.4 -7.4M623.1 921.9l7.4 7.4M623.1 929.3l7.4 -7.4M623.1 924.9l7.4 7.4M623.1 932.3l7.4 -7.4M627.5 924.2l7.4 7.4M627.5 931.6l7.4 -7.4M627.5 928.1l7.4 7.4M627.5 935.5l7.4 -7.4M627.5 926.1l7.4 7.4M627.5 933.5l7.4 -7.4M627.5 926.6l7.4 7.4M627.5 934l7.4 -7.4M631.9 928l7.4 7.4M631.9 935.4l7.4 -7.4M631.9 927l7.4 7.4M631.9 934.4l7.4 -7.4M631.9 925.1l7.4 7.4M631.9 932.5l7.4 -7.4M631.9 929.3l7.4 7.4M631.9 936.7l7.4 -7.4M636.3 927.6l7.4 7.4M636.3 935l7.4 -7.4M636.3 928l7.4 7.4M636.3 935.4l7.4 -7.4M636.3 929.8l7.4 7.4M636.3 937.2l7.4 -7.4M636.3 928.9l7.4 7.4M636.3 936.3l7.4 -7.4M640.6 933.1l7.4 7.4M640.6 940.5l7.4 -7.4M640.6 934.6l7.4 7.4M640.6 942l7.4 -7.4M640.6 933.1l7.4 7.4M640.6 940.5l7.4 -7.4M640.6 932.9l7.4 7.4M640.6 940.3l7.4 -7.4M645 934.8l7.4 7.4M645 942.2l7.4 -7.4M645 936.5l7.4 7.4M645 943.9l7.4 -7.4M645 931.1l7.4 7.4M645 938.5l7.4 -7.4M645 935.5l7.4 7.4M645 942.9l7.4 -7.4M649.4 935l7.4 7.4M649.4 942.4l7.4 -7.4M649.4 934.4l7.4 7.4M649.4 941.8l7.4 -7.4M649.4 936.9l7.4 7.4M649.4 944.3l7.4 -7.4M649.4 936.1l7.4 7.4M649.4 943.5l7.4 -7.4M653.8 940.1l7.4 7.4M653.8 947.5l7.4 -7.4M653.8 941.2l7.4 7.4M653.8 948.6l7.4 -7.4M653.8 934.3l7.4 7.4M653.8 941.7l7.4 -7.4M653.8 938.8l7.4 7.4M653.8 946.2l7.4 -7.4" stroke="#58dc22" stroke-width="1.7" fill="none"/>
<polyline points="83,972.9 83,973 83,974.3 87.4,971.8 87.4,972.2 87.4,976.4 91.8,971.2 91.8,972.8 91.8,973.6 96.2,966.7 96.2,973.6 96.2,971 100.5,970.4 100.5,965.7 100.5,970 104.9,967.9 104.9,965.4 104.9,972.8 109.3,967 109.3,964.9 109.3,966 113.7,966 113.7,966.5 113.7,965.1 118.1,964.9 118.1,965.6 118.1,958.5 122.5,958.6 122.5,957.4 122.5,960.1 126.9,962 126.9,959.9 126.9,955.5 131.2,955.7 131.2,959.2 131.2,955.1 135.6,954.3 135.6,955.3 135.6,949.8 140,954.6 140,953.4 140,954 144.4,947.6 144.4,948.1 144.4,948.6 148.8,948.3 148.8,947.9 148.8,948 153.2,950.6 153.2,949.3 153.2,944 157.6,943.1 157.6,949.3 157.6,944 161.9,947.3 161.9,947.9 161.9,942.3 166.3,942 166.3,943 166.3,940.5 170.7,939.5 170.7,941 170.7,944.3 175.1,940.2 175.1,940.8 175.1,940.1 179.5,937.1 179.5,944.5 179.5,934.6 183.9,938 183.9,941.1 183.9,936 188.3,940.2 188.3,941.9 188.3,936.4 192.6,938.1 192.6,934.7 192.6,938.9 197,936.8 197,937.2 197,940.2 201.4,937 201.4,939.2 201.4,937.4 205.8,931.7 205.8,935.5 205.8,936.1 210.2,930.3 210.2,937.5 210.2,934.2 214.6,934.5 214.6,931.2 214.6,933.7 219,933.8 219,932.1 219,933.2 223.3,926.9 223.3,936 223.3,929.5 227.7,926.2 227.7,929.3 227.7,929.7 232.1,932.7 232.1,928.9 232.1,932 236.5,928.1 236.5,936.4 236.5,932.1 240.9,935.2 240.9,927.5 240.9,931.8 245.3,927.2 245.3,931.2 245.3,931.4 249.6,925.1 249.6,926.3 249.6,926.2 254,925.1 254,927.2 254,926.6 258.4,926.4 258.4,930.4 258.4,931.6 262.8,927.8 262.8,929.8 262.8,931.3 267.2,931.7 267.2,930.5 267.2,934.4 271.6,935.5 271.6,935 271.6,932.7 276,939.1 276,938.5 276,932.9 280.3,934.3 280.3,937.7 280.3,932.6 284.7,936.4 284.7,935.5 284.7,933.5 289.1,935.4 289.1,932 289.1,934.6 293.5,931.5 293.5,942.7 293.5,940.6 297.9,940.6 297.9,938.2 297.9,940 302.3,940.9 302.3,940.3 302.3,940 306.7,935.2 306.7,938.7 306.7,936.2 311,934.5 311,934.6 311,938.7 315.4,940.4 315.4,934.1 315.4,942.2 319.8,941.4 319.8,936.6 319.8,936.4 324.2,937.4 324.2,940.2 324.2,936.6 328.6,934.7 328.6,938.5 328.6,932.2 333,938 333,940.6 333,938.4 337.4,939.6 337.4,938.9 337.4,939.5 341.7,938 341.7,935.4 341.7,937 346.1,937.4 346.1,940.9 346.1,941.8 350.5,938.7 350.5,935.6 350.5,935.7 354.9,937.1 354.9,941.2 354.9,938.5 359.3,937.5 359.3,935.6 359.3,939.9 363.7,938.4 363.7,937.5 363.7,937.9 368.1,942 368.1,937.2 368.1,942 372.4,940.8 372.4,937.7 372.4,939.9 376.8,937.3 376.8,935.4 376.8,936.9 381.2,935.2 381.2,938.9 381.2,937.6 385.6,939.1 385.6,939.7 385.6,929.5 390,938.3 390,932.9 390,938 394.4,935.2 394.4,937.7 394.4,941 398.8,932.9 398.8,937.9 398.8,937.2 403.1,932.3 403.1,938.9 403.1,937.4 407.5,935.9 407.5,935.3 407.5,945.5 411.9,936.1 411.9,932.4 411.9,934.7 416.3,936 416.3,936 416.3,936.8 420.7,934.1 420.7,938.3 420.7,935.6 425.1,933.2 425.1,934.6 425.1,935.7 429.5,938.8 429.5,937.8 429.5,935.7 433.8,936.5 433.8,937 433.8,941.8 438.2,934.7 438.2,937.5 438.2,938.2 442.6,933.7 442.6,936.7 442.6,936.6 447,934.7 447,937.4 447,938.6 451.4,938.5 451.4,935 451.4,936 455.8,941.2 455.8,932.2 455.8,935.7 460.2,937 460.2,935.1 460.2,936.4 464.5,934.1 464.5,935.6 464.5,936.9 468.9,932 468.9,933.1 468.9,932.4 473.3,930.5 473.3,931.5 473.3,928.6 477.7,932.6 477.7,935.1 477.7,935.1 482.1,933.3 482.1,927.5 482.1,933.9 486.5,927.4 486.5,929.1 486.5,934 490.9,926.3 490.9,931.3 490.9,929.8 495.2,929.4 495.2,927.5 495.2,930.9 499.6,929.3 499.6,933.2 499.6,933.7 504,927.6 504,929.9 504,930.4 508.4,928.8 508.4,928.9 508.4,932.1 512.8,931.9 512.8,928.1 512.8,931 517.2,934.4 517.2,929.9 517.2,930.6 521.5,937.8 521.5,937.1 521.5,929.4 525.9,930.8 525.9,935.3 525.9,931.2 530.3,934.3 530.3,933.7 530.3,936.4 534.7,929.2 534.7,930 534.7,932.6 539.1,939.5 539.1,936.5 539.1,932.4 543.5,939.3 543.5,939.9 543.5,937.4 547.9,938.3 547.9,940.3 547.9,942.3 552.2,940.4 552.2,941.4 552.2,939.9 556.6,939.9 556.6,938.5 556.6,941.6 561,941 561,941.1 561,944.2 565.4,944.2 565.4,945.2 565.4,938.9 569.8,945.7 569.8,942.8 569.8,942.2 574.2,943.4 574.2,948.8 574.2,947.8 578.6,944.9 578.6,943.8 578.6,946.8 582.9,946.4 582.9,951.9 582.9,943.8 587.3,943.7 587.3,947.8 587.3,948.5 591.7,949.8 591.7,951.4 591.7,954.8 596.1,950.3 596.1,949.8 596.1,946.6 600.5,953.5 600.5,955.1 600.5,952.2 604.9,957.7 604.9,954.7 604.9,958.6 609.3,957.6 609.3,954 609.3,955.1 613.6,954.9 613.6,954.4 613.6,959.6 618,963.4 618,966.2 618,961 622.4,962.3 622.4,960.1 622.4,965.5 626.8,965.3 626.8,962.7 626.8,966.1 631.2,967.1 631.2,960.7 631.2,967.5 635.6,967.3 635.6,965.9 635.6,965.9 640,973.2 640,972.7 640,973.4 644.3,967.4 644.3,968.7 644.3,972.8 648.7,969 648.7,970.3 648.7,967.5 653.1,978.7 653.1,976.6 653.1,975 657.5,976.1 657.5,974.4 657.5,974.5" fill="none" stroke="#cc0000" stroke-width="3.8" stroke-linejoin="round" stroke-linecap="round" stroke-dasharray="0 7.1"/>
<polyline points="83,920.7 83,918.1 87.4,920.3 87.4,917 91.8,914.7 91.8,918.8 96.2,914 96.2,915.3 100.5,911.2 100.5,907.7 104.9,911.6 104.9,908 109.3,911.3 109.3,906.3 113.7,904.4 113.7,908.6 118.1,907.5 118.1,906.9 122.5,902.8 122.5,906.7 126.9,900.6 126.9,902.5 131.2,900.4 131.2,901.2 135.6,902.2 135.6,899.4 140,899.9 140,900.1 144.4,894.2 144.4,895.3 148.8,895.4 148.8,895 153.2,895.4 153.2,891.1 157.6,894.8 157.6,894.8 161.9,891.7 161.9,889.4 166.3,890.8 166.3,889.7 170.7,891 170.7,889.7 175.1,890.4 175.1,888.2 179.5,890.9 179.5,883.8 183.9,885.3 183.9,888.2 188.3,883.5 188.3,887.7 192.6,883.1 192.6,885.6 197,883 197,883.9 201.4,884.7 201.4,884.2 205.8,883.2 205.8,888 210.2,883.5 210.2,881.6 214.6,884.6 214.6,884.4 219,884.5 219,885.6 223.3,879.8 223.3,883.6 227.7,883.5 227.7,881.3 232.1,881.5 232.1,875.4 236.5,879.7 236.5,884.2 240.9,877.2 240.9,879.6 245.3,881 245.3,881.5 249.6,883.3 249.6,876.9 254,880.3 254,881.8 258.4,878 258.4,880.5 262.8,884.5 262.8,883.4 267.2,882.3 267.2,876.3 271.6,881.4 271.6,882.3 276,881.3 276,881.8 280.3,888.1 280.3,881.8 284.7,880.7 284.7,883 289.1,882.3 289.1,882.3 293.5,883 293.5,884.7 297.9,884 297.9,881.2 302.3,883.3 302.3,884.5 306.7,882.7 306.7,885.8 311,885.1 311,881.7 315.4,884.2 315.4,887.4 319.8,886.6 319.8,883.5 324.2,885.3 324.2,882.3 328.6,880.9 328.6,884.7 333,884.4 333,884.9 337.4,884.2 337.4,884.8 341.7,883.5 341.7,885.4 346.1,886.4 346.1,884.7 350.5,886.7 350.5,881.7 354.9,883.9 354.9,888.2 359.3,889 359.3,886.1 363.7,885.6 363.7,883.4 368.1,886.6 368.1,887.4 372.4,883.2 372.4,887.1 376.8,887.1 376.8,887 381.2,884.2 381.2,887.4 385.6,883.6 385.6,889.3 390,886.4 390,884 394.4,888.3 394.4,887.9 398.8,884.1 398.8,889.5 403.1,883 403.1,885.5 407.5,886.7 407.5,880.1 411.9,885.9 411.9,883.9 416.3,883.5 416.3,881.5 420.7,883.8 420.7,881 425.1,880.9 425.1,881.8 429.5,879.9 429.5,885.3 433.8,879.3 433.8,880.4 438.2,880.8 438.2,881.4 442.6,882.5 442.6,882.5 447,880.1 447,879.9 451.4,880.5 451.4,882 455.8,881.6 455.8,879.3 460.2,876.2 460.2,884.2 464.5,881.4 464.5,880.1 468.9,879.8 468.9,878.2 473.3,876.8 473.3,878.1 477.7,878.2 477.7,877.4 482.1,875.8 482.1,878 486.5,879.7 486.5,877.7 490.9,878.8 490.9,874.8 495.2,878.8 495.2,879 499.6,877.3 499.6,876.4 504,880.9 504,878.6 508.4,881.5 508.4,879.7 512.8,882.1 512.8,880.3 517.2,878.5 517.2,881.2 521.5,881.2 521.5,883.1 525.9,881.4 525.9,881.5 530.3,884.4 530.3,884.9 534.7,884.7 534.7,885.2 539.1,884.7 539.1,885.3 543.5,886.1 543.5,885.2 547.9,885.2 547.9,885.3 552.2,890.5 552.2,886 556.6,886.4 556.6,886.2 561,887.7 561,888.2 565.4,886.5 565.4,884.9 569.8,890.1 569.8,886.5 574.2,890.9 574.2,890.6 578.6,893.4 578.6,894.4 582.9,892.8 582.9,891.1 587.3,890.8 587.3,891.5 591.7,894 591.7,890 596.1,895.8 596.1,895.6 600.5,898.6 600.5,896.8 604.9,899.3 604.9,897.8 609.3,900 609.3,897.5 613.6,902.9 613.6,905.6 618,904.8 618,905.2 622.4,904.4 622.4,908.9 626.8,906.5 626.8,909.5 631.2,909.9 631.2,907.9 635.6,913.4 635.6,911.5 640,913.6 640,914.1 644.3,915 644.3,914.3 648.7,917.7 648.7,916 653.1,918.6 653.1,917.2 657.5,917.3 657.5,918.8" fill="none" stroke="#4ca6f5" stroke-width="2" stroke-linejoin="round" stroke-linecap="round" />
<path d="M79.2 920.7h7.6M83 916.9v7.6M79.2 918.1h7.6M83 914.3v7.6M83.6 920.3h7.6M87.4 916.5v7.6M83.6 917h7.6M87.4 913.2v7.6M88 914.7h7.6M91.8 910.9v7.6M88 918.8h7.6M91.8 915v7.6M92.4 914h7.6M96.2 910.2v7.6M92.4 915.3h7.6M96.2 911.5v7.6M96.7 911.2h7.6M100.5 907.4v7.6M96.7 907.7h7.6M100.5 903.9v7.6M101.1 911.6h7.6M104.9 907.8v7.6M101.1 908h7.6M104.9 904.2v7.6M105.5 911.3h7.6M109.3 907.5v7.6M105.5 906.3h7.6M109.3 902.5v7.6M109.9 904.4h7.6M113.7 900.6v7.6M109.9 908.6h7.6M113.7 904.8v7.6M114.3 907.5h7.6M118.1 903.7v7.6M114.3 906.9h7.6M118.1 903.1v7.6M118.7 902.8h7.6M122.5 899v7.6M118.7 906.7h7.6M122.5 902.9v7.6M123.1 900.6h7.6M126.9 896.8v7.6M123.1 902.5h7.6M126.9 898.7v7.6M127.4 900.4h7.6M131.2 896.6v7.6M127.4 901.2h7.6M131.2 897.4v7.6M131.8 902.2h7.6M135.6 898.4v7.6M131.8 899.4h7.6M135.6 895.6v7.6M136.2 899.9h7.6M140 896.1v7.6M136.2 900.1h7.6M140 896.3v7.6M140.6 894.2h7.6M144.4 890.4v7.6M140.6 895.3h7.6M144.4 891.5v7.6M145 895.4h7.6M148.8 891.6v7.6M145 895h7.6M148.8 891.2v7.6M149.4 895.4h7.6M153.2 891.6v7.6M149.4 891.1h7.6M153.2 887.3v7.6M153.8 894.8h7.6M157.6 891v7.6M153.8 894.8h7.6M157.6 891v7.6M158.1 891.7h7.6M161.9 887.9v7.6M158.1 889.4h7.6M161.9 885.6v7.6M162.5 890.8h7.6M166.3 887v7.6M162.5 889.7h7.6M166.3 885.9v7.6M166.9 891h7.6M170.7 887.2v7.6M166.9 889.7h7.6M170.7 885.9v7.6M171.3 890.4h7.6M175.1 886.6v7.6M171.3 888.2h7.6M175.1 884.4v7.6M175.7 890.9h7.6M179.5 887.1v7.6M175.7 883.8h7.6M179.5 880v7.6M180.1 885.3h7.6M183.9 881.5v7.6M180.1 888.2h7.6M183.9 884.4v7.6M184.5 883.5h7.6M188.3 879.7v7.6M184.5 887.7h7.6M188.3 883.9v7.6M188.8 883.1h7.6M192.6 879.3v7.6M188.8 885.6h7.6M192.6 881.8v7.6M193.2 883h7.6M197 879.2v7.6M193.2 883.9h7.6M197 880.1v7.6M197.6 884.7h7.6M201.4 880.9v7.6M197.6 884.2h7.6M201.4 880.4v7.6M202 883.2h7.6M205.8 879.4v7.6M202 888h7.6M205.8 884.2v7.6M206.4 883.5h7.6M210.2 879.7v7.6M206.4 881.6h7.6M210.2 877.8v7.6M210.8 884.6h7.6M214.6 880.8v7.6M210.8 884.4h7.6M214.6 880.6v7.6M215.2 884.5h7.6M219 880.7v7.6M215.2 885.6h7.6M219 881.8v7.6M219.5 879.8h7.6M223.3 876v7.6M219.5 883.6h7.6M223.3 879.8v7.6M223.9 883.5h7.6M227.7 879.7v7.6M223.9 881.3h7.6M227.7 877.5v7.6M228.3 881.5h7.6M232.1 877.7v7.6M228.3 875.4h7.6M232.1 871.6v7.6M232.7 879.7h7.6M236.5 875.9v7.6M232.7 884.2h7.6M236.5 880.4v7.6M237.1 877.2h7.6M240.9 873.4v7.6M237.1 879.6h7.6M240.9 875.8v7.6M241.5 881h7.6M245.3 877.2v7.6M241.5 881.5h7.6M245.3 877.7v7.6M245.8 883.3h7.6M249.6 879.5v7.6M245.8 876.9h7.6M249.6 873.1v7.6M250.2 880.3h7.6M254 876.5v7.6M250.2 881.8h7.6M254 878v7.6M254.6 878h7.6M258.4 874.2v7.6M254.6 880.5h7.6M258.4 876.7v7.6M259 884.5h7.6M262.8 880.7v7.6M259 883.4h7.6M262.8 879.6v7.6M263.4 882.3h7.6M267.2 878.5v7.6M263.4 876.3h7.6M267.2 872.5v7.6M267.8 881.4h7.6M271.6 877.6v7.6M267.8 882.3h7.6M271.6 878.5v7.6M272.2 881.3h7.6M276 877.5v7.6M272.2 881.8h7.6M276 878v7.6M276.5 888.1h7.6M280.3 884.3v7.6M276.5 881.8h7.6M280.3 878v7.6M280.9 880.7h7.6M284.7 876.9v7.6M280.9 883h7.6M284.7 879.2v7.6M285.3 882.3h7.6M289.1 878.5v7.6M285.3 882.3h7.6M289.1 878.5v7.6M289.7 883h7.6M293.5 879.2v7.6M289.7 884.7h7.6M293.5 880.9v7.6M294.1 884h7.6M297.9 880.2v7.6M294.1 881.2h7.6M297.9 877.4v7.6M298.5 883.3h7.6M302.3 879.5v7.6M298.5 884.5h7.6M302.3 880.7v7.6M302.9 882.7h7.6M306.7 878.9v7.6M302.9 885.8h7.6M306.7 882v7.6M307.2 885.1h7.6M311 881.3v7.6M307.2 881.7h7.6M311 877.9v7.6M311.6 884.2h7.6M315.4 880.4v7.6M311.6 887.4h7.6M315.4 883.6v7.6M316 886.6h7.6M319.8 882.8v7.6M316 883.5h7.6M319.8 879.7v7.6M320.4 885.3h7.6M324.2 881.5v7.6M320.4 882.3h7.6M324.2 878.5v7.6M324.8 880.9h7.6M328.6 877.1v7.6M324.8 884.7h7.6M328.6 880.9v7.6M329.2 884.4h7.6M333 880.6v7.6M329.2 884.9h7.6M333 881.1v7.6M333.6 884.2h7.6M337.4 880.4v7.6M333.6 884.8h7.6M337.4 881v7.6M337.9 883.5h7.6M341.7 879.7v7.6M337.9 885.4h7.6M341.7 881.6v7.6M342.3 886.4h7.6M346.1 882.6v7.6M342.3 884.7h7.6M346.1 880.9v7.6M346.7 886.7h7.6M350.5 882.9v7.6M346.7 881.7h7.6M350.5 877.9v7.6M351.1 883.9h7.6M354.9 880.1v7.6M351.1 888.2h7.6M354.9 884.4v7.6M355.5 889h7.6M359.3 885.2v7.6M355.5 886.1h7.6M359.3 882.3v7.6M359.9 885.6h7.6M363.7 881.8v7.6M359.9 883.4h7.6M363.7 879.6v7.6M364.3 886.6h7.6M368.1 882.8v7.6M364.3 887.4h7.6M368.1 883.6v7.6M368.6 883.2h7.6M372.4 879.4v7.6M368.6 887.1h7.6M372.4 883.3v7.6M373 887.1h7.6M376.8 883.3v7.6M373 887h7.6M376.8 883.2v7.6M377.4 884.2h7.6M381.2 880.4v7.6M377.4 887.4h7.6M381.2 883.6v7.6M381.8 883.6h7.6M385.6 879.8v7.6M381.8 889.3h7.6M385.6 885.5v7.6M386.2 886.4h7.6M390 882.6v7.6M386.2 884h7.6M390 880.2v7.6M390.6 888.3h7.6M394.4 884.5v7.6M390.6 887.9h7.6M394.4 884.1v7.6M395 884.1h7.6M398.8 880.3v7.6M395 889.5h7.6M398.8 885.7v7.6M399.3 883h7.6M403.1 879.2v7.6M399.3 885.5h7.6M403.1 881.7v7.6M403.7 886.7h7.6M407.5 882.9v7.6M403.7 880.1h7.6M407.5 876.3v7.6M408.1 885.9h7.6M411.9 882.1v7.6M408.1 883.9h7.6M411.9 880.1v7.6M412.5 883.5h7.6M416.3 879.7v7.6M412.5 881.5h7.6M416.3 877.7v7.6M416.9 883.8h7.6M420.7 880v7.6M416.9 881h7.6M420.7 877.2v7.6M421.3 880.9h7.6M425.1 877.1v7.6M421.3 881.8h7.6M425.1 878v7.6M425.7 879.9h7.6M429.5 876.1v7.6M425.7 885.3h7.6M429.5 881.5v7.6M430 879.3h7.6M433.8 875.5v7.6M430 880.4h7.6M433.8 876.6v7.6M434.4 880.8h7.6M438.2 877v7.6M434.4 881.4h7.6M438.2 877.6v7.6M438.8 882.5h7.6M442.6 878.7v7.6M438.8 882.5h7.6M442.6 878.7v7.6M443.2 880.1h7.6M447 876.3v7.6M443.2 879.9h7.6M447 876.1v7.6M447.6 880.5h7.6M451.4 876.7v7.6M447.6 882h7.6M451.4 878.2v7.6M452 881.6h7.6M455.8 877.8v7.6M452 879.3h7.6M455.8 875.5v7.6M456.4 876.2h7.6M460.2 872.4v7.6M456.4 884.2h7.6M460.2 880.4v7.6M460.7 881.4h7.6M464.5 877.6v7.6M460.7 880.1h7.6M464.5 876.3v7.6M465.1 879.8h7.6M468.9 876v7.6M465.1 878.2h7.6M468.9 874.4v7.6M469.5 876.8h7.6M473.3 873v7.6M469.5 878.1h7.6M473.3 874.3v7.6M473.9 878.2h7.6M477.7 874.4v7.6M473.9 877.4h7.6M477.7 873.6v7.6M478.3 875.8h7.6M482.1 872v7.6M478.3 878h7.6M482.1 874.2v7.6M482.7 879.7h7.6M486.5 875.9v7.6M482.7 877.7h7.6M486.5 873.9v7.6M487.1 878.8h7.6M490.9 875v7.6M487.1 874.8h7.6M490.9 871v7.6M491.4 878.8h7.6M495.2 875v7.6M491.4 879h7.6M495.2 875.2v7.6M495.8 877.3h7.6M499.6 873.5v7.6M495.8 876.4h7.6M499.6 872.6v7.6M500.2 880.9h7.6M504 877.1v7.6M500.2 878.6h7.6M504 874.8v7.6M504.6 881.5h7.6M508.4 877.7v7.6M504.6 879.7h7.6M508.4 875.9v7.6M509 882.1h7.6M512.8 878.3v7.6M509 880.3h7.6M512.8 876.5v7.6M513.4 878.5h7.6M517.2 874.7v7.6M513.4 881.2h7.6M517.2 877.4v7.6M517.7 881.2h7.6M521.5 877.4v7.6M517.7 883.1h7.6M521.5 879.3v7.6M522.1 881.4h7.6M525.9 877.6v7.6M522.1 881.5h7.6M525.9 877.7v7.6M526.5 884.4h7.6M530.3 880.6v7.6M526.5 884.9h7.6M530.3 881.1v7.6M530.9 884.7h7.6M534.7 880.9v7.6M530.9 885.2h7.6M534.7 881.4v7.6M535.3 884.7h7.6M539.1 880.9v7.6M535.3 885.3h7.6M539.1 881.5v7.6M539.7 886.1h7.6M543.5 882.3v7.6M539.7 885.2h7.6M543.5 881.4v7.6M544.1 885.2h7.6M547.9 881.4v7.6M544.1 885.3h7.6M547.9 881.5v7.6M548.4 890.5h7.6M552.2 886.7v7.6M548.4 886h7.6M552.2 882.2v7.6M552.8 886.4h7.6M556.6 882.6v7.6M552.8 886.2h7.6M556.6 882.4v7.6M557.2 887.7h7.6M561 883.9v7.6M557.2 888.2h7.6M561 884.4v7.6M561.6 886.5h7.6M565.4 882.7v7.6M561.6 884.9h7.6M565.4 881.1v7.6M566 890.1h7.6M569.8 886.3v7.6M566 886.5h7.6M569.8 882.7v7.6M570.4 890.9h7.6M574.2 887.1v7.6M570.4 890.6h7.6M574.2 886.8v7.6M574.8 893.4h7.6M578.6 889.6v7.6M574.8 894.4h7.6M578.6 890.6v7.6M579.1 892.8h7.6M582.9 889v7.6M579.1 891.1h7.6M582.9 887.3v7.6M583.5 890.8h7.6M587.3 887v7.6M583.5 891.5h7.6M587.3 887.7v7.6M587.9 894h7.6M591.7 890.2v7.6M587.9 890h7.6M591.7 886.2v7.6M592.3 895.8h7.6M596.1 892v7.6M592.3 895.6h7.6M596.1 891.8v7.6M596.7 898.6h7.6M600.5 894.8v7.6M596.7 896.8h7.6M600.5 893v7.6M601.1 899.3h7.6M604.9 895.5v7.6M601.1 897.8h7.6M604.9 894v7.6M605.5 900h7.6M609.3 896.2v7.6M605.5 897.5h7.6M609.3 893.7v7.6M609.8 902.9h7.6M613.6 899.1v7.6M609.8 905.6h7.6M613.6 901.8v7.6M614.2 904.8h7.6M618 901v7.6M614.2 905.2h7.6M618 901.4v7.6M618.6 904.4h7.6M622.4 900.6v7.6M618.6 908.9h7.6M622.4 905.1v7.6M623 906.5h7.6M626.8 902.7v7.6M623 909.5h7.6M626.8 905.7v7.6M627.4 909.9h7.6M631.2 906.1v7.6M627.4 907.9h7.6M631.2 904.1v7.6M631.8 913.4h7.6M635.6 909.6v7.6M631.8 911.5h7.6M635.6 907.7v7.6M636.2 913.6h7.6M640 909.8v7.6M636.2 914.1h7.6M640 910.3v7.6M640.5 915h7.6M644.3 911.2v7.6M640.5 914.3h7.6M644.3 910.5v7.6M644.9 917.7h7.6M648.7 913.9v7.6M644.9 916h7.6M648.7 912.2v7.6M649.3 918.6h7.6M653.1 914.8v7.6M649.3 917.2h7.6M653.1 913.4v7.6M653.7 917.3h7.6M657.5 913.5v7.6M653.7 918.8h7.6M657.5 915v7.6" stroke="#4ca6f5" stroke-width="2.0" fill="none"/>
<polyline points="83,1057.5 83,1058 87.4,1057.3 87.4,1054.4 91.8,1053.3 91.8,1050.9 96.2,1049.2 96.2,1049.7 100.5,1045 100.5,1045.4 104.9,1044.2 104.9,1044.2 109.3,1040.8 109.3,1040.1 113.7,1039.9 113.7,1037.6 118.1,1033.7 118.1,1036.2 122.5,1033.3 122.5,1032.3 126.9,1033.2 126.9,1032.2 131.2,1032 131.2,1031.6 135.6,1029.7 135.6,1031.7 140,1030.2 140,1029 144.4,1029.2 144.4,1031 148.8,1029.6 148.8,1030.1 153.2,1030.7 153.2,1030.1 157.6,1028.5 157.6,1030.7 161.9,1031 161.9,1030.9 166.3,1031.6 166.3,1030.4 170.7,1030.8 170.7,1031.6 175.1,1029.7 175.1,1031.8 179.5,1031.8 179.5,1030.8 183.9,1031.9 183.9,1030.9 188.3,1029.2 188.3,1031.2 192.6,1030.4 192.6,1030.5 197,1030.2 197,1031.4 201.4,1030.6 201.4,1029.4 205.8,1030.5 205.8,1030.8 210.2,1029.3 210.2,1029.6 214.6,1029.7 214.6,1029.5 219,1030.4 219,1031.1 223.3,1032 223.3,1031.3 227.7,1031.1 227.7,1031.2 232.1,1031.4 232.1,1029.7 236.5,1030.8 236.5,1030.4 240.9,1030 240.9,1029.6 245.3,1029.6 245.3,1029.8 249.6,1028.9 249.6,1030.6 254,1030.1 254,1030.2 258.4,1030.4 258.4,1030.8 262.8,1029.5 262.8,1030 267.2,1028.5 267.2,1027.9 271.6,1028.2 271.6,1031.6 276,1028.3 276,1030.6 280.3,1031.6 280.3,1029.7 284.7,1031.8 284.7,1032 289.1,1031.1 289.1,1032.5 293.5,1030.8 293.5,1029.4 297.9,1030.7 297.9,1029.7 302.3,1028.8 302.3,1028.9 306.7,1032.5 306.7,1029.6 311,1030.1 311,1029.5 315.4,1030.3 315.4,1029.9 319.8,1029.8 319.8,1029 324.2,1028.8 324.2,1029.4 328.6,1030.5 328.6,1032.2 333,1031.2 333,1032 337.4,1030.7 337.4,1030.1 341.7,1028.9 341.7,1030.2 346.1,1028 346.1,1029.9 350.5,1031.8 350.5,1030.5 354.9,1031.3 354.9,1029.8 359.3,1028.8 359.3,1029.7 363.7,1029.8 363.7,1031.4 368.1,1032.2 368.1,1029.5 372.4,1029.9 372.4,1030.1 376.8,1029.9 376.8,1029 381.2,1030.3 381.2,1030.6 385.6,1030.6 385.6,1029 390,1030.1 390,1028.5 394.4,1031.2 394.4,1029.2 398.8,1030 398.8,1029.8 403.1,1029.7 403.1,1029.2 407.5,1028.5 407.5,1032 411.9,1030.5 411.9,1030.5 416.3,1032.4 416.3,1030.2 420.7,1030.8 420.7,1030.3 425.1,1031.5 425.1,1030.8 429.5,1030.6 429.5,1030 433.8,1030.6 433.8,1031.4 438.2,1028.2 438.2,1030.2 442.6,1029.9 442.6,1030 447,1028.3 447,1031 451.4,1029.5 451.4,1030.1 455.8,1029.8 455.8,1028.6 460.2,1029.9 460.2,1028.5 464.5,1029.4 464.5,1030 468.9,1030.3 468.9,1030.4 473.3,1030.2 473.3,1032.5 477.7,1030.8 477.7,1029.1 482.1,1029.7 482.1,1029.7 486.5,1030.1 486.5,1029.7 490.9,1029.5 490.9,1032 495.2,1030.4 495.2,1030 499.6,1030.1 499.6,1030.1 504,1031.7 504,1030.8 508.4,1031.5 508.4,1027.2 512.8,1030.7 512.8,1031.4 517.2,1032.3 517.2,1030.4 521.5,1028.6 521.5,1030.9 525.9,1029.8 525.9,1028.6 530.3,1029.7 530.3,1031.4 534.7,1031.6 534.7,1031.1 539.1,1029.3 539.1,1032.9 543.5,1029.2 543.5,1030.3 547.9,1028.9 547.9,1031.7 552.2,1030.8 552.2,1031.3 556.6,1030.5 556.6,1030.3 561,1030.6 561,1028.5 565.4,1031.4 565.4,1031.3 569.8,1030 569.8,1030.4 574.2,1030.7 574.2,1032 578.6,1030.8 578.6,1030.5 582.9,1029.9 582.9,1028.9 587.3,1029.8 587.3,1030.5 591.7,1030.2 591.7,1030.5 596.1,1031.2 596.1,1030.9 600.5,1030.7 600.5,1031.1 604.9,1030.6 604.9,1030.4 609.3,1030.9 609.3,1028.7 613.6,1032.2 613.6,1029.6 618,1033.8 618,1033 622.4,1036.1 622.4,1035.1 626.8,1036.1 626.8,1038.1 631.2,1040 631.2,1040 635.6,1042.9 635.6,1043.8 640,1046.6 640,1046 644.3,1047.3 644.3,1048.4 648.7,1052.2 648.7,1053.9 653.1,1055.7 653.1,1055.2 657.5,1059.2 657.5,1057.9" fill="none" stroke="#ffb40a" stroke-width="3.6" stroke-linejoin="round" stroke-linecap="round" stroke-dasharray="8.6 13.3" stroke-linecap="round"/>
<path d="M112.9 825.6H162.4" stroke="#3c12ee" stroke-width="3.4" stroke-linecap="round"/>
<text x="169" y="831.7" class="lg">BFPC u = 4, 3 lanes</text>
<path d="M113.2 845.5H163.9" stroke="#cc0000" stroke-width="3.6" stroke-linecap="round" stroke-dasharray="0 7.05"/>
<text x="169" y="851.6" class="lg">BFPC u = 4, 5 lanes</text>
<path d="M113.2 865.2H162.1" stroke="#ffb40a" stroke-width="3.6" stroke-linecap="round" stroke-dasharray="7.6 13.4"/>
<text x="169" y="871.4" class="lg">JATB</text>
<path d="M399.5 825.9H450" stroke="#7ee05c" stroke-width="2"/>
<path d="M421 821.9l8 8M421 829.9l8 -8" stroke="#58dc22" stroke-width="1.8" fill="none"/>
<text x="456" y="831.9" class="lg">BFPC u = 10, 3 lanes</text>
<path d="M399.5 846H450" stroke="#4d8cf0" stroke-width="2"/>
<path d="M421.2 846h7.6M425 842.2v7.6" stroke="#4ca6f5" stroke-width="2.0" fill="none"/>
<text x="456" y="851.8" class="lg">BFPC u = 10, 5 lanes</text>
</svg>
</body></html>
